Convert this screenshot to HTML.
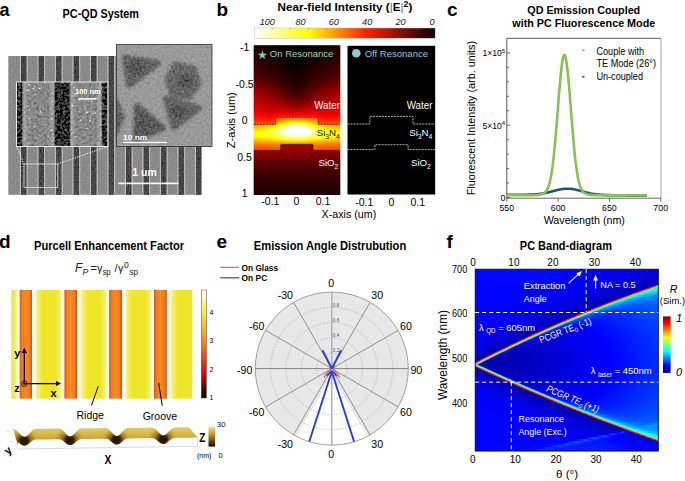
<!DOCTYPE html>
<html><head><meta charset="utf-8"><style>
html,body{margin:0;padding:0;background:#fff;width:685px;height:481px;overflow:hidden}
svg{display:block}
text{font-family:"Liberation Sans",sans-serif}
</style></head><body>
<svg width="685" height="481" viewBox="0 0 685 481" font-family="Liberation Sans">
<defs><filter id="nz" x="0" y="0" width="1" height="1"><feTurbulence type="fractalNoise" baseFrequency="0.6" numOctaves="2" seed="5" result="t"/><feColorMatrix in="t" type="matrix" values="0.33 0.33 0.33 0 0 0.33 0.33 0.33 0 0 0.33 0.33 0.33 0 0 0 0 0 0 1" result="g"/><feComposite in="SourceGraphic" in2="g" operator="arithmetic" k1="0" k2="1" k3="0.26" k4="-0.13"/></filter><filter id="nz2" x="0" y="0" width="1" height="1"><feTurbulence type="fractalNoise" baseFrequency="0.45" numOctaves="3" seed="9" result="t"/><feColorMatrix in="t" type="matrix" values="0.33 0.33 0.33 0 0 0.33 0.33 0.33 0 0 0.33 0.33 0.33 0 0 0 0 0 0 1" result="g"/><feComposite in="SourceGraphic" in2="g" operator="arithmetic" k1="0" k2="1" k3="0.4" k4="-0.2"/></filter><filter id="bl3" x="-50%" y="-50%" width="200%" height="200%"><feGaussianBlur stdDeviation="1.6"/></filter><filter id="bl1" x="-50%" y="-50%" width="200%" height="200%"><feGaussianBlur stdDeviation="0.8"/></filter><linearGradient id="semL"><stop offset="0" stop-color="#606060"/><stop offset="0.06" stop-color="#b4b4b4"/><stop offset="0.16" stop-color="#8a8a8a"/><stop offset="0.84" stop-color="#8a8a8a"/><stop offset="0.94" stop-color="#b4b4b4"/><stop offset="1" stop-color="#606060"/></linearGradient><filter id="nz3" x="0" y="0" width="1" height="1"><feTurbulence type="fractalNoise" baseFrequency="0.38" numOctaves="2" seed="11" result="t"/><feColorMatrix in="t" type="matrix" values="0.33 0.33 0.33 0 0 0.33 0.33 0.33 0 0 0.33 0.33 0.33 0 0 0 0 0 0 1" result="g"/><feComposite in="SourceGraphic" in2="g" operator="arithmetic" k1="0" k2="1" k3="0.7" k4="-0.35"/></filter><linearGradient id="semI"><stop offset="0" stop-color="#606060"/><stop offset="0.06" stop-color="#a8a8a8"/><stop offset="0.2" stop-color="#888"/><stop offset="0.8" stop-color="#888"/><stop offset="0.94" stop-color="#a8a8a8"/><stop offset="1" stop-color="#606060"/></linearGradient><linearGradient id="hotbar" x1="0" x2="1" y1="0" y2="0"><stop offset="0" stop-color="#ffffff"/><stop offset="0.3" stop-color="#ffff00"/><stop offset="0.62" stop-color="#ff2000"/><stop offset="1" stop-color="#0a0000"/></linearGradient><linearGradient id="hb0"><stop offset="0.000" stop-color="#1f0000"/><stop offset="0.370" stop-color="#070000"/><stop offset="0.498" stop-color="#030000"/><stop offset="0.619" stop-color="#070000"/><stop offset="1.000" stop-color="#1f0000"/></linearGradient><linearGradient id="hb1"><stop offset="0.000" stop-color="#200000"/><stop offset="0.376" stop-color="#070000"/><stop offset="0.498" stop-color="#040000"/><stop offset="0.619" stop-color="#070000"/><stop offset="1.000" stop-color="#200000"/></linearGradient><linearGradient id="hb2"><stop offset="0.000" stop-color="#210000"/><stop offset="0.376" stop-color="#070000"/><stop offset="0.498" stop-color="#040000"/><stop offset="0.619" stop-color="#070000"/><stop offset="1.000" stop-color="#210000"/></linearGradient><linearGradient id="hb3"><stop offset="0.000" stop-color="#220000"/><stop offset="0.376" stop-color="#080000"/><stop offset="0.498" stop-color="#040000"/><stop offset="0.613" stop-color="#070000"/><stop offset="1.000" stop-color="#220000"/></linearGradient><linearGradient id="hb4"><stop offset="0.000" stop-color="#230000"/><stop offset="0.376" stop-color="#080000"/><stop offset="0.498" stop-color="#040000"/><stop offset="0.613" stop-color="#080000"/><stop offset="1.000" stop-color="#230000"/></linearGradient><linearGradient id="hb5"><stop offset="0.000" stop-color="#240000"/><stop offset="0.382" stop-color="#080000"/><stop offset="0.498" stop-color="#050000"/><stop offset="0.613" stop-color="#080000"/><stop offset="1.000" stop-color="#240000"/></linearGradient><linearGradient id="hb6"><stop offset="0.000" stop-color="#250000"/><stop offset="0.382" stop-color="#080000"/><stop offset="0.498" stop-color="#050000"/><stop offset="0.613" stop-color="#090000"/><stop offset="1.000" stop-color="#250000"/></linearGradient><linearGradient id="hb7"><stop offset="0.000" stop-color="#260000"/><stop offset="0.382" stop-color="#090000"/><stop offset="0.498" stop-color="#050000"/><stop offset="0.608" stop-color="#090000"/><stop offset="1.000" stop-color="#260000"/></linearGradient><linearGradient id="hb8"><stop offset="0.000" stop-color="#270000"/><stop offset="0.382" stop-color="#090000"/><stop offset="0.498" stop-color="#060000"/><stop offset="0.608" stop-color="#090000"/><stop offset="1.000" stop-color="#270000"/></linearGradient><linearGradient id="hb9"><stop offset="0.000" stop-color="#280000"/><stop offset="0.388" stop-color="#0a0000"/><stop offset="0.498" stop-color="#060000"/><stop offset="0.608" stop-color="#0a0000"/><stop offset="1.000" stop-color="#290000"/></linearGradient><linearGradient id="hb10"><stop offset="0.000" stop-color="#2a0000"/><stop offset="0.388" stop-color="#0a0000"/><stop offset="0.498" stop-color="#060000"/><stop offset="0.608" stop-color="#0a0000"/><stop offset="0.862" stop-color="#220000"/><stop offset="1.000" stop-color="#2a0000"/></linearGradient><linearGradient id="hb11"><stop offset="0.000" stop-color="#2b0000"/><stop offset="0.388" stop-color="#0b0000"/><stop offset="0.498" stop-color="#070000"/><stop offset="0.602" stop-color="#0a0000"/><stop offset="0.862" stop-color="#230000"/><stop offset="1.000" stop-color="#2b0000"/></linearGradient><linearGradient id="hb12"><stop offset="0.000" stop-color="#2c0000"/><stop offset="0.388" stop-color="#0b0000"/><stop offset="0.498" stop-color="#070000"/><stop offset="0.602" stop-color="#0b0000"/><stop offset="0.862" stop-color="#240000"/><stop offset="1.000" stop-color="#2d0000"/></linearGradient><linearGradient id="hb13"><stop offset="0.000" stop-color="#2e0000"/><stop offset="0.127" stop-color="#260000"/><stop offset="0.394" stop-color="#0b0000"/><stop offset="0.498" stop-color="#080000"/><stop offset="0.602" stop-color="#0c0000"/><stop offset="0.862" stop-color="#250000"/><stop offset="1.000" stop-color="#2e0000"/></linearGradient><linearGradient id="hb14"><stop offset="0.000" stop-color="#2f0000"/><stop offset="0.133" stop-color="#260000"/><stop offset="0.394" stop-color="#0c0000"/><stop offset="0.498" stop-color="#080000"/><stop offset="0.596" stop-color="#0c0000"/><stop offset="0.862" stop-color="#270000"/><stop offset="1.000" stop-color="#2f0000"/></linearGradient><linearGradient id="hb15"><stop offset="0.000" stop-color="#310000"/><stop offset="0.133" stop-color="#280000"/><stop offset="0.394" stop-color="#0d0000"/><stop offset="0.498" stop-color="#090000"/><stop offset="0.596" stop-color="#0d0000"/><stop offset="0.856" stop-color="#270000"/><stop offset="1.000" stop-color="#310000"/></linearGradient><linearGradient id="hb16"><stop offset="0.000" stop-color="#320000"/><stop offset="0.133" stop-color="#290000"/><stop offset="0.394" stop-color="#0e0000"/><stop offset="0.498" stop-color="#090000"/><stop offset="0.596" stop-color="#0d0000"/><stop offset="0.856" stop-color="#290000"/><stop offset="1.000" stop-color="#320000"/></linearGradient><linearGradient id="hb17"><stop offset="0.000" stop-color="#340000"/><stop offset="0.133" stop-color="#2a0000"/><stop offset="0.399" stop-color="#0e0000"/><stop offset="0.498" stop-color="#0a0000"/><stop offset="0.596" stop-color="#0e0000"/><stop offset="0.856" stop-color="#2a0000"/><stop offset="1.000" stop-color="#340000"/></linearGradient><linearGradient id="hb18"><stop offset="0.000" stop-color="#350000"/><stop offset="0.139" stop-color="#2b0000"/><stop offset="0.399" stop-color="#0f0000"/><stop offset="0.498" stop-color="#0a0000"/><stop offset="0.590" stop-color="#0e0000"/><stop offset="0.851" stop-color="#2b0000"/><stop offset="1.000" stop-color="#360000"/></linearGradient><linearGradient id="hb19"><stop offset="0.000" stop-color="#370000"/><stop offset="0.139" stop-color="#2d0000"/><stop offset="0.399" stop-color="#100000"/><stop offset="0.498" stop-color="#0b0000"/><stop offset="0.590" stop-color="#0f0000"/><stop offset="0.851" stop-color="#2d0000"/><stop offset="1.000" stop-color="#370000"/></linearGradient><linearGradient id="hb20"><stop offset="0.000" stop-color="#390000"/><stop offset="0.139" stop-color="#2e0000"/><stop offset="0.405" stop-color="#100000"/><stop offset="0.498" stop-color="#0c0000"/><stop offset="0.590" stop-color="#100000"/><stop offset="0.851" stop-color="#2e0000"/><stop offset="1.000" stop-color="#390000"/></linearGradient><linearGradient id="hb21"><stop offset="0.000" stop-color="#3b0000"/><stop offset="0.139" stop-color="#300000"/><stop offset="0.405" stop-color="#110000"/><stop offset="0.498" stop-color="#0d0000"/><stop offset="0.590" stop-color="#110000"/><stop offset="0.845" stop-color="#2f0000"/><stop offset="1.000" stop-color="#3b0000"/></linearGradient><linearGradient id="hb22"><stop offset="0.000" stop-color="#3c0000"/><stop offset="0.145" stop-color="#310000"/><stop offset="0.405" stop-color="#120000"/><stop offset="0.498" stop-color="#0d0000"/><stop offset="0.584" stop-color="#120000"/><stop offset="0.845" stop-color="#310000"/><stop offset="1.000" stop-color="#3d0000"/></linearGradient><linearGradient id="hb23"><stop offset="0.000" stop-color="#3e0000"/><stop offset="0.145" stop-color="#330000"/><stop offset="0.405" stop-color="#130000"/><stop offset="0.498" stop-color="#0e0000"/><stop offset="0.584" stop-color="#130000"/><stop offset="0.845" stop-color="#330000"/><stop offset="1.000" stop-color="#3f0000"/></linearGradient><linearGradient id="hb24"><stop offset="0.000" stop-color="#410000"/><stop offset="0.145" stop-color="#350000"/><stop offset="0.411" stop-color="#130000"/><stop offset="0.498" stop-color="#0f0000"/><stop offset="0.584" stop-color="#140000"/><stop offset="0.839" stop-color="#340000"/><stop offset="1.000" stop-color="#410000"/></linearGradient><linearGradient id="hb25"><stop offset="0.000" stop-color="#430000"/><stop offset="0.145" stop-color="#370000"/><stop offset="0.411" stop-color="#150000"/><stop offset="0.498" stop-color="#100000"/><stop offset="0.584" stop-color="#150000"/><stop offset="0.839" stop-color="#360000"/><stop offset="1.000" stop-color="#430000"/></linearGradient><linearGradient id="hb26"><stop offset="0.000" stop-color="#450000"/><stop offset="0.150" stop-color="#380000"/><stop offset="0.411" stop-color="#160000"/><stop offset="0.498" stop-color="#110000"/><stop offset="0.579" stop-color="#150000"/><stop offset="0.833" stop-color="#380000"/><stop offset="1.000" stop-color="#460000"/></linearGradient><linearGradient id="hb27"><stop offset="0.000" stop-color="#480000"/><stop offset="0.150" stop-color="#3b0000"/><stop offset="0.411" stop-color="#170000"/><stop offset="0.498" stop-color="#120000"/><stop offset="0.579" stop-color="#170000"/><stop offset="0.833" stop-color="#3a0000"/><stop offset="1.000" stop-color="#480000"/></linearGradient><linearGradient id="hb28"><stop offset="0.000" stop-color="#4a0000"/><stop offset="0.150" stop-color="#3d0000"/><stop offset="0.411" stop-color="#190000"/><stop offset="0.498" stop-color="#140000"/><stop offset="0.579" stop-color="#180000"/><stop offset="0.828" stop-color="#3c0000"/><stop offset="1.000" stop-color="#4b0000"/></linearGradient><linearGradient id="hb29"><stop offset="0.000" stop-color="#4d0000"/><stop offset="0.156" stop-color="#3f0000"/><stop offset="0.417" stop-color="#190000"/><stop offset="0.498" stop-color="#150000"/><stop offset="0.579" stop-color="#1a0000"/><stop offset="0.822" stop-color="#3d0000"/><stop offset="1.000" stop-color="#4e0000"/></linearGradient><linearGradient id="hb30"><stop offset="0.000" stop-color="#500000"/><stop offset="0.156" stop-color="#420000"/><stop offset="0.417" stop-color="#1b0000"/><stop offset="0.498" stop-color="#160000"/><stop offset="0.579" stop-color="#1b0000"/><stop offset="0.822" stop-color="#400000"/><stop offset="1.000" stop-color="#510000"/></linearGradient><linearGradient id="hb31"><stop offset="0.000" stop-color="#540000"/><stop offset="0.156" stop-color="#450000"/><stop offset="0.417" stop-color="#1d0000"/><stop offset="0.498" stop-color="#180000"/><stop offset="0.573" stop-color="#1c0000"/><stop offset="0.816" stop-color="#420000"/><stop offset="1.000" stop-color="#540000"/></linearGradient><linearGradient id="hb32"><stop offset="0.000" stop-color="#570000"/><stop offset="0.156" stop-color="#480000"/><stop offset="0.417" stop-color="#1e0000"/><stop offset="0.498" stop-color="#190000"/><stop offset="0.584" stop-color="#1f0000"/><stop offset="0.862" stop-color="#4b0000"/><stop offset="1.000" stop-color="#580000"/></linearGradient><linearGradient id="hb33"><stop offset="0.000" stop-color="#5b0000"/><stop offset="0.162" stop-color="#4a0000"/><stop offset="0.417" stop-color="#200000"/><stop offset="0.498" stop-color="#1b0000"/><stop offset="0.584" stop-color="#210000"/><stop offset="0.862" stop-color="#4f0000"/><stop offset="1.000" stop-color="#5c0000"/></linearGradient><linearGradient id="hb34"><stop offset="0.000" stop-color="#5f0000"/><stop offset="0.162" stop-color="#4e0000"/><stop offset="0.422" stop-color="#210000"/><stop offset="0.498" stop-color="#1c0000"/><stop offset="0.579" stop-color="#230000"/><stop offset="0.862" stop-color="#520000"/><stop offset="1.000" stop-color="#600000"/></linearGradient><linearGradient id="hb35"><stop offset="0.000" stop-color="#640000"/><stop offset="0.162" stop-color="#510000"/><stop offset="0.422" stop-color="#230000"/><stop offset="0.498" stop-color="#1e0000"/><stop offset="0.579" stop-color="#250000"/><stop offset="0.723" stop-color="#410000"/><stop offset="0.862" stop-color="#560000"/><stop offset="1.000" stop-color="#640000"/></linearGradient><linearGradient id="hb36"><stop offset="0.000" stop-color="#680000"/><stop offset="0.162" stop-color="#550000"/><stop offset="0.422" stop-color="#260000"/><stop offset="0.498" stop-color="#200000"/><stop offset="0.579" stop-color="#270000"/><stop offset="0.723" stop-color="#440000"/><stop offset="0.862" stop-color="#5a0000"/><stop offset="1.000" stop-color="#690000"/></linearGradient><linearGradient id="hb37"><stop offset="0.000" stop-color="#6d0000"/><stop offset="0.162" stop-color="#590000"/><stop offset="0.422" stop-color="#280000"/><stop offset="0.498" stop-color="#220000"/><stop offset="0.579" stop-color="#290000"/><stop offset="0.723" stop-color="#480000"/><stop offset="0.862" stop-color="#5f0000"/><stop offset="1.000" stop-color="#6e0000"/></linearGradient><linearGradient id="hb38"><stop offset="0.000" stop-color="#720000"/><stop offset="0.162" stop-color="#5e0000"/><stop offset="0.422" stop-color="#2a0000"/><stop offset="0.498" stop-color="#240000"/><stop offset="0.579" stop-color="#2c0000"/><stop offset="0.723" stop-color="#4c0000"/><stop offset="0.862" stop-color="#630000"/><stop offset="1.000" stop-color="#730000"/></linearGradient><linearGradient id="hb39"><stop offset="0.000" stop-color="#780000"/><stop offset="0.162" stop-color="#620000"/><stop offset="0.422" stop-color="#2d0000"/><stop offset="0.498" stop-color="#270000"/><stop offset="0.579" stop-color="#2f0000"/><stop offset="0.723" stop-color="#500000"/><stop offset="0.862" stop-color="#680000"/><stop offset="1.000" stop-color="#780000"/></linearGradient><linearGradient id="hb40"><stop offset="0.000" stop-color="#7d0000"/><stop offset="0.162" stop-color="#670000"/><stop offset="0.422" stop-color="#300000"/><stop offset="0.498" stop-color="#290000"/><stop offset="0.579" stop-color="#310000"/><stop offset="0.718" stop-color="#520000"/><stop offset="0.862" stop-color="#6d0000"/><stop offset="1.000" stop-color="#7e0000"/></linearGradient><linearGradient id="hb41"><stop offset="0.000" stop-color="#830000"/><stop offset="0.162" stop-color="#6c0000"/><stop offset="0.422" stop-color="#330000"/><stop offset="0.498" stop-color="#2c0000"/><stop offset="0.579" stop-color="#340000"/><stop offset="0.718" stop-color="#560000"/><stop offset="0.862" stop-color="#720000"/><stop offset="1.000" stop-color="#830000"/></linearGradient><linearGradient id="hb42"><stop offset="0.000" stop-color="#880000"/><stop offset="0.162" stop-color="#700000"/><stop offset="0.422" stop-color="#360000"/><stop offset="0.498" stop-color="#2f0000"/><stop offset="0.579" stop-color="#380000"/><stop offset="0.718" stop-color="#5b0000"/><stop offset="0.862" stop-color="#770000"/><stop offset="1.000" stop-color="#890000"/></linearGradient><linearGradient id="hb43"><stop offset="0.000" stop-color="#8e0000"/><stop offset="0.162" stop-color="#750000"/><stop offset="0.284" stop-color="#5c0000"/><stop offset="0.422" stop-color="#390000"/><stop offset="0.498" stop-color="#320000"/><stop offset="0.573" stop-color="#3a0000"/><stop offset="0.718" stop-color="#5f0000"/><stop offset="0.862" stop-color="#7c0000"/><stop offset="1.000" stop-color="#8e0000"/></linearGradient><linearGradient id="hb44"><stop offset="0.000" stop-color="#930000"/><stop offset="0.098" stop-color="#860000"/><stop offset="0.243" stop-color="#6a0000"/><stop offset="0.428" stop-color="#3c0000"/><stop offset="0.498" stop-color="#350000"/><stop offset="0.573" stop-color="#3d0000"/><stop offset="0.718" stop-color="#630000"/><stop offset="0.862" stop-color="#810000"/><stop offset="1.000" stop-color="#940000"/></linearGradient><linearGradient id="hb45"><stop offset="0.000" stop-color="#990000"/><stop offset="0.098" stop-color="#8b0000"/><stop offset="0.249" stop-color="#6d0000"/><stop offset="0.428" stop-color="#3f0000"/><stop offset="0.498" stop-color="#390000"/><stop offset="0.573" stop-color="#410000"/><stop offset="0.718" stop-color="#680000"/><stop offset="0.862" stop-color="#860000"/><stop offset="1.000" stop-color="#990000"/></linearGradient><linearGradient id="hb46"><stop offset="0.000" stop-color="#9e0000"/><stop offset="0.098" stop-color="#900000"/><stop offset="0.249" stop-color="#710000"/><stop offset="0.428" stop-color="#430000"/><stop offset="0.498" stop-color="#3c0000"/><stop offset="0.573" stop-color="#450000"/><stop offset="0.712" stop-color="#6b0000"/><stop offset="0.862" stop-color="#8a0000"/><stop offset="1.000" stop-color="#9f0000"/></linearGradient><linearGradient id="hb47"><stop offset="0.000" stop-color="#a30000"/><stop offset="0.098" stop-color="#950000"/><stop offset="0.255" stop-color="#750000"/><stop offset="0.428" stop-color="#470000"/><stop offset="0.498" stop-color="#400000"/><stop offset="0.573" stop-color="#490000"/><stop offset="0.712" stop-color="#700000"/><stop offset="0.862" stop-color="#8f0000"/><stop offset="1.000" stop-color="#a40000"/></linearGradient><linearGradient id="hb48"><stop offset="0.000" stop-color="#a80000"/><stop offset="0.098" stop-color="#9a0000"/><stop offset="0.260" stop-color="#780000"/><stop offset="0.428" stop-color="#4b0000"/><stop offset="0.498" stop-color="#440000"/><stop offset="0.573" stop-color="#4d0000"/><stop offset="0.712" stop-color="#740000"/><stop offset="0.862" stop-color="#940000"/><stop offset="1.000" stop-color="#a80000"/></linearGradient><linearGradient id="hb49"><stop offset="0.000" stop-color="#ac0000"/><stop offset="0.098" stop-color="#9e0000"/><stop offset="0.266" stop-color="#7b0000"/><stop offset="0.428" stop-color="#500000"/><stop offset="0.498" stop-color="#490000"/><stop offset="0.567" stop-color="#500000"/><stop offset="0.712" stop-color="#790000"/><stop offset="0.862" stop-color="#980000"/><stop offset="1.000" stop-color="#ad0000"/></linearGradient><linearGradient id="hb50"><stop offset="0.000" stop-color="#b00000"/><stop offset="0.093" stop-color="#a30000"/><stop offset="0.266" stop-color="#800000"/><stop offset="0.434" stop-color="#530000"/><stop offset="0.498" stop-color="#4d0000"/><stop offset="0.567" stop-color="#550000"/><stop offset="0.706" stop-color="#7c0000"/><stop offset="0.862" stop-color="#9c0000"/><stop offset="1.000" stop-color="#b10000"/></linearGradient><linearGradient id="hb51"><stop offset="0.000" stop-color="#b40000"/><stop offset="0.093" stop-color="#a70000"/><stop offset="0.272" stop-color="#830000"/><stop offset="0.434" stop-color="#590000"/><stop offset="0.498" stop-color="#520000"/><stop offset="0.567" stop-color="#5a0000"/><stop offset="0.741" stop-color="#890000"/><stop offset="0.909" stop-color="#a90000"/><stop offset="1.000" stop-color="#b50000"/></linearGradient><linearGradient id="hb52"><stop offset="0.000" stop-color="#b80000"/><stop offset="0.093" stop-color="#ab0000"/><stop offset="0.278" stop-color="#870000"/><stop offset="0.434" stop-color="#5e0000"/><stop offset="0.498" stop-color="#580000"/><stop offset="0.567" stop-color="#600000"/><stop offset="0.729" stop-color="#8b0000"/><stop offset="0.909" stop-color="#ac0000"/><stop offset="1.000" stop-color="#b80000"/></linearGradient><linearGradient id="hb53"><stop offset="0.000" stop-color="#bb0000"/><stop offset="0.087" stop-color="#af0000"/><stop offset="0.284" stop-color="#8b0000"/><stop offset="0.434" stop-color="#640000"/><stop offset="0.498" stop-color="#5d0000"/><stop offset="0.567" stop-color="#650000"/><stop offset="0.729" stop-color="#900000"/><stop offset="0.909" stop-color="#b00000"/><stop offset="1.000" stop-color="#bc0000"/></linearGradient><linearGradient id="hb54"><stop offset="0.000" stop-color="#be0000"/><stop offset="0.284" stop-color="#900000"/><stop offset="0.440" stop-color="#680000"/><stop offset="0.498" stop-color="#630000"/><stop offset="0.567" stop-color="#6b0000"/><stop offset="0.723" stop-color="#940000"/><stop offset="1.000" stop-color="#bf0000"/></linearGradient><linearGradient id="hb55"><stop offset="0.000" stop-color="#c10000"/><stop offset="0.284" stop-color="#950000"/><stop offset="0.428" stop-color="#710000"/><stop offset="0.498" stop-color="#6a0000"/><stop offset="0.567" stop-color="#720000"/><stop offset="0.718" stop-color="#980000"/><stop offset="1.000" stop-color="#c20000"/></linearGradient><linearGradient id="hb56"><stop offset="0.000" stop-color="#c40000"/><stop offset="0.289" stop-color="#990000"/><stop offset="0.434" stop-color="#770000"/><stop offset="0.498" stop-color="#700000"/><stop offset="0.561" stop-color="#770000"/><stop offset="0.712" stop-color="#9c0000"/><stop offset="1.000" stop-color="#c50000"/></linearGradient><linearGradient id="hb57"><stop offset="0.000" stop-color="#c70000"/><stop offset="0.289" stop-color="#9f0000"/><stop offset="0.434" stop-color="#7e0000"/><stop offset="0.498" stop-color="#780000"/><stop offset="0.561" stop-color="#7e0000"/><stop offset="0.706" stop-color="#a10000"/><stop offset="1.000" stop-color="#c80000"/></linearGradient><linearGradient id="hb58"><stop offset="0.000" stop-color="#ca0000"/><stop offset="0.295" stop-color="#a40000"/><stop offset="0.434" stop-color="#850000"/><stop offset="0.498" stop-color="#7f0000"/><stop offset="0.561" stop-color="#860000"/><stop offset="0.700" stop-color="#a60000"/><stop offset="1.000" stop-color="#cb0000"/></linearGradient><linearGradient id="hb59"><stop offset="0.000" stop-color="#ce0000"/><stop offset="0.301" stop-color="#aa0000"/><stop offset="0.434" stop-color="#8d0000"/><stop offset="0.498" stop-color="#880000"/><stop offset="0.561" stop-color="#8e0000"/><stop offset="0.700" stop-color="#ac0000"/><stop offset="1.000" stop-color="#ce0000"/></linearGradient><linearGradient id="hb60"><stop offset="0.000" stop-color="#d10000"/><stop offset="0.307" stop-color="#b00000"/><stop offset="0.440" stop-color="#950000"/><stop offset="0.498" stop-color="#900000"/><stop offset="0.556" stop-color="#960000"/><stop offset="0.694" stop-color="#b20000"/><stop offset="1.000" stop-color="#d20000"/></linearGradient><linearGradient id="hb61"><stop offset="0.000" stop-color="#d50000"/><stop offset="0.191" stop-color="#be0000"/><stop offset="0.313" stop-color="#b60000"/><stop offset="0.440" stop-color="#9e0000"/><stop offset="0.498" stop-color="#9a0000"/><stop offset="0.556" stop-color="#9f0000"/><stop offset="0.689" stop-color="#b90000"/><stop offset="0.810" stop-color="#c00000"/><stop offset="1.000" stop-color="#d50000"/></linearGradient><linearGradient id="hb62"><stop offset="0.000" stop-color="#d90000"/><stop offset="0.191" stop-color="#c40000"/><stop offset="0.313" stop-color="#be0000"/><stop offset="0.440" stop-color="#a80000"/><stop offset="0.498" stop-color="#a40000"/><stop offset="0.556" stop-color="#a80000"/><stop offset="0.683" stop-color="#c00000"/><stop offset="0.810" stop-color="#c60000"/><stop offset="1.000" stop-color="#d90000"/></linearGradient><linearGradient id="hb63"><stop offset="0.000" stop-color="#dd0000"/><stop offset="0.191" stop-color="#c90000"/><stop offset="0.318" stop-color="#c60000"/><stop offset="0.440" stop-color="#b20000"/><stop offset="0.498" stop-color="#ae0000"/><stop offset="0.556" stop-color="#b30000"/><stop offset="0.683" stop-color="#c80000"/><stop offset="0.810" stop-color="#cb0000"/><stop offset="1.000" stop-color="#dd0000"/></linearGradient><linearGradient id="hb64"><stop offset="0.000" stop-color="#e20000"/><stop offset="0.191" stop-color="#d00000"/><stop offset="0.324" stop-color="#ce0000"/><stop offset="0.446" stop-color="#bc0000"/><stop offset="0.498" stop-color="#b90000"/><stop offset="0.550" stop-color="#bd0000"/><stop offset="0.677" stop-color="#d00000"/><stop offset="0.810" stop-color="#d10000"/><stop offset="1.000" stop-color="#e20000"/></linearGradient><linearGradient id="hb65"><stop offset="0.000" stop-color="#e70000"/><stop offset="0.185" stop-color="#d60000"/><stop offset="0.330" stop-color="#d70000"/><stop offset="0.498" stop-color="#c50000"/><stop offset="0.671" stop-color="#d90000"/><stop offset="0.816" stop-color="#d80000"/><stop offset="1.000" stop-color="#e70000"/></linearGradient><linearGradient id="hb66"><stop offset="0.000" stop-color="#ec0000"/><stop offset="0.185" stop-color="#dd0000"/><stop offset="0.336" stop-color="#e10000"/><stop offset="0.498" stop-color="#d20000"/><stop offset="0.666" stop-color="#e30000"/><stop offset="0.816" stop-color="#de0000"/><stop offset="1.000" stop-color="#ed0000"/></linearGradient><linearGradient id="hb67"><stop offset="0.000" stop-color="#f20000"/><stop offset="0.179" stop-color="#e40000"/><stop offset="0.330" stop-color="#ec0000"/><stop offset="0.498" stop-color="#df0000"/><stop offset="0.660" stop-color="#ee0000"/><stop offset="0.816" stop-color="#e60000"/><stop offset="1.000" stop-color="#f20000"/></linearGradient><linearGradient id="hb68"><stop offset="0.000" stop-color="#f80000"/><stop offset="0.185" stop-color="#ec0000"/><stop offset="0.330" stop-color="#f80000"/><stop offset="0.498" stop-color="#ee0000"/><stop offset="0.671" stop-color="#f90000"/><stop offset="0.816" stop-color="#ed0000"/><stop offset="1.000" stop-color="#f90000"/></linearGradient><linearGradient id="hb69"><stop offset="0.000" stop-color="#ff0000"/><stop offset="0.179" stop-color="#f40000"/><stop offset="0.289" stop-color="#ff0100"/><stop offset="0.353" stop-color="#ff0500"/><stop offset="0.544" stop-color="#ff0000"/><stop offset="0.654" stop-color="#ff0600"/><stop offset="0.723" stop-color="#ff0000"/><stop offset="0.822" stop-color="#f50000"/><stop offset="1.000" stop-color="#ff0000"/></linearGradient><linearGradient id="hb70"><stop offset="0.000" stop-color="#ff0700"/><stop offset="0.104" stop-color="#ff0000"/><stop offset="0.220" stop-color="#fe0000"/><stop offset="0.341" stop-color="#ff1200"/><stop offset="0.498" stop-color="#ff0f00"/><stop offset="0.637" stop-color="#ff1400"/><stop offset="0.689" stop-color="#ff1100"/><stop offset="0.787" stop-color="#ff0000"/><stop offset="0.885" stop-color="#ff0000"/><stop offset="1.000" stop-color="#ff0700"/></linearGradient><linearGradient id="hb71"><stop offset="0.000" stop-color="#ff0e00"/><stop offset="0.179" stop-color="#ff0500"/><stop offset="0.353" stop-color="#ff2100"/><stop offset="0.613" stop-color="#ff2200"/><stop offset="0.677" stop-color="#ff1f00"/><stop offset="0.816" stop-color="#ff0700"/><stop offset="1.000" stop-color="#ff0f00"/></linearGradient><linearGradient id="hb72"><stop offset="0.000" stop-color="#ff1600"/><stop offset="0.156" stop-color="#ff0e00"/><stop offset="0.231" stop-color="#ff1500"/><stop offset="0.249" stop-color="#ff1900"/><stop offset="0.255" stop-color="#ff6100"/><stop offset="0.417" stop-color="#ff7c00"/><stop offset="0.498" stop-color="#ff8100"/><stop offset="0.579" stop-color="#ff7c00"/><stop offset="0.741" stop-color="#ff6100"/><stop offset="0.747" stop-color="#ff1b00"/><stop offset="0.770" stop-color="#ff1600"/><stop offset="0.845" stop-color="#ff0f00"/><stop offset="1.000" stop-color="#ff1600"/></linearGradient><linearGradient id="hb73"><stop offset="0.000" stop-color="#ff1e00"/><stop offset="0.156" stop-color="#ff1700"/><stop offset="0.231" stop-color="#ff2000"/><stop offset="0.249" stop-color="#ff2400"/><stop offset="0.255" stop-color="#ff6a00"/><stop offset="0.417" stop-color="#ff8e00"/><stop offset="0.498" stop-color="#ff9500"/><stop offset="0.579" stop-color="#ff8d00"/><stop offset="0.741" stop-color="#ff6a00"/><stop offset="0.747" stop-color="#ff2700"/><stop offset="0.770" stop-color="#ff2100"/><stop offset="0.845" stop-color="#ff1800"/><stop offset="1.000" stop-color="#ff1e00"/></linearGradient><linearGradient id="hb74"><stop offset="0.000" stop-color="#ff2700"/><stop offset="0.156" stop-color="#ff2100"/><stop offset="0.231" stop-color="#ff2b00"/><stop offset="0.249" stop-color="#ff3000"/><stop offset="0.255" stop-color="#ff7500"/><stop offset="0.417" stop-color="#ffa300"/><stop offset="0.498" stop-color="#ffad00"/><stop offset="0.573" stop-color="#ffa400"/><stop offset="0.741" stop-color="#ff7500"/><stop offset="0.747" stop-color="#ff3300"/><stop offset="0.770" stop-color="#ff2c00"/><stop offset="0.845" stop-color="#ff2200"/><stop offset="1.000" stop-color="#ff2700"/></linearGradient><linearGradient id="hb75"><stop offset="0.000" stop-color="#ff2f00"/><stop offset="0.156" stop-color="#ff2b00"/><stop offset="0.231" stop-color="#ff3700"/><stop offset="0.249" stop-color="#ff3c00"/><stop offset="0.255" stop-color="#ff8300"/><stop offset="0.422" stop-color="#ffbf00"/><stop offset="0.498" stop-color="#ffca00"/><stop offset="0.573" stop-color="#ffbe00"/><stop offset="0.741" stop-color="#ff8200"/><stop offset="0.747" stop-color="#ff3f00"/><stop offset="0.770" stop-color="#ff3700"/><stop offset="0.845" stop-color="#ff2b00"/><stop offset="1.000" stop-color="#ff3000"/></linearGradient><linearGradient id="hb76"><stop offset="0.000" stop-color="#ff3800"/><stop offset="0.150" stop-color="#ff3500"/><stop offset="0.191" stop-color="#ff3800"/><stop offset="0.231" stop-color="#ff4200"/><stop offset="0.249" stop-color="#ff4100"/><stop offset="0.255" stop-color="#ff9200"/><stop offset="0.422" stop-color="#ffdd00"/><stop offset="0.463" stop-color="#ffe800"/><stop offset="0.498" stop-color="#ffeb00"/><stop offset="0.532" stop-color="#ffe800"/><stop offset="0.573" stop-color="#ffdc00"/><stop offset="0.741" stop-color="#ff9100"/><stop offset="0.747" stop-color="#ff4100"/><stop offset="0.770" stop-color="#ff4300"/><stop offset="0.810" stop-color="#ff3900"/><stop offset="0.851" stop-color="#ff3500"/><stop offset="1.000" stop-color="#ff3900"/></linearGradient><linearGradient id="hb77"><stop offset="0.000" stop-color="#ff4200"/><stop offset="0.133" stop-color="#ff3f00"/><stop offset="0.203" stop-color="#ff4600"/><stop offset="0.249" stop-color="#ff4000"/><stop offset="0.255" stop-color="#ffa400"/><stop offset="0.422" stop-color="#ffff00"/><stop offset="0.463" stop-color="#ffff15"/><stop offset="0.498" stop-color="#ffff1a"/><stop offset="0.532" stop-color="#ffff14"/><stop offset="0.573" stop-color="#fffe00"/><stop offset="0.741" stop-color="#ffa300"/><stop offset="0.747" stop-color="#ff4100"/><stop offset="0.799" stop-color="#ff4600"/><stop offset="0.868" stop-color="#ff3f00"/><stop offset="1.000" stop-color="#ff4200"/></linearGradient><linearGradient id="hb78"><stop offset="0.000" stop-color="#ff4c00"/><stop offset="0.150" stop-color="#ff4a00"/><stop offset="0.249" stop-color="#ff4000"/><stop offset="0.255" stop-color="#ffb800"/><stop offset="0.365" stop-color="#ffff00"/><stop offset="0.405" stop-color="#ffff28"/><stop offset="0.440" stop-color="#ffff43"/><stop offset="0.469" stop-color="#ffff51"/><stop offset="0.498" stop-color="#ffff56"/><stop offset="0.527" stop-color="#ffff50"/><stop offset="0.556" stop-color="#ffff42"/><stop offset="0.631" stop-color="#fffd00"/><stop offset="0.694" stop-color="#ffd200"/><stop offset="0.741" stop-color="#ffb700"/><stop offset="0.747" stop-color="#ff4100"/><stop offset="0.845" stop-color="#ff4b00"/><stop offset="1.000" stop-color="#ff4c00"/></linearGradient><linearGradient id="hb79"><stop offset="0.000" stop-color="#ff8b00"/><stop offset="0.104" stop-color="#ff9800"/><stop offset="0.185" stop-color="#ffad00"/><stop offset="0.255" stop-color="#ffce00"/><stop offset="0.324" stop-color="#fffe00"/><stop offset="0.394" stop-color="#ffff52"/><stop offset="0.428" stop-color="#ffff74"/><stop offset="0.463" stop-color="#ffff8b"/><stop offset="0.498" stop-color="#ffff93"/><stop offset="0.532" stop-color="#ffff8a"/><stop offset="0.567" stop-color="#ffff72"/><stop offset="0.602" stop-color="#ffff4f"/><stop offset="0.666" stop-color="#ffff03"/><stop offset="0.671" stop-color="#fffc00"/><stop offset="0.741" stop-color="#ffcc00"/><stop offset="0.810" stop-color="#ffac00"/><stop offset="0.891" stop-color="#ff9800"/><stop offset="1.000" stop-color="#ff8a00"/></linearGradient><linearGradient id="hb80"><stop offset="0.000" stop-color="#ff9b00"/><stop offset="0.093" stop-color="#ffa700"/><stop offset="0.168" stop-color="#ffba00"/><stop offset="0.231" stop-color="#ffd600"/><stop offset="0.289" stop-color="#fffd00"/><stop offset="0.313" stop-color="#ffff1a"/><stop offset="0.394" stop-color="#ffff86"/><stop offset="0.422" stop-color="#ffffa7"/><stop offset="0.463" stop-color="#ffffc6"/><stop offset="0.498" stop-color="#ffffcf"/><stop offset="0.532" stop-color="#ffffc5"/><stop offset="0.573" stop-color="#ffffa4"/><stop offset="0.608" stop-color="#ffff7c"/><stop offset="0.700" stop-color="#ffff01"/><stop offset="0.764" stop-color="#ffd500"/><stop offset="0.828" stop-color="#ffb900"/><stop offset="0.903" stop-color="#ffa700"/><stop offset="1.000" stop-color="#ff9a00"/></linearGradient><linearGradient id="hb81"><stop offset="0.000" stop-color="#ffab00"/><stop offset="0.087" stop-color="#ffb800"/><stop offset="0.150" stop-color="#ffc700"/><stop offset="0.208" stop-color="#ffde00"/><stop offset="0.260" stop-color="#ffff00"/><stop offset="0.307" stop-color="#ffff39"/><stop offset="0.411" stop-color="#ffffcd"/><stop offset="0.440" stop-color="#ffffec"/><stop offset="0.469" stop-color="#ffffff"/><stop offset="0.527" stop-color="#fffffe"/><stop offset="0.561" stop-color="#ffffe4"/><stop offset="0.602" stop-color="#ffffb4"/><stop offset="0.700" stop-color="#ffff27"/><stop offset="0.729" stop-color="#ffff03"/><stop offset="0.735" stop-color="#fffd00"/><stop offset="0.787" stop-color="#ffdd00"/><stop offset="0.845" stop-color="#ffc600"/><stop offset="0.914" stop-color="#ffb600"/><stop offset="1.000" stop-color="#ffab00"/></linearGradient><linearGradient id="hb82"><stop offset="0.000" stop-color="#ffbd00"/><stop offset="0.133" stop-color="#ffd500"/><stop offset="0.179" stop-color="#ffe500"/><stop offset="0.231" stop-color="#ffff02"/><stop offset="0.289" stop-color="#ffff45"/><stop offset="0.388" stop-color="#ffffd9"/><stop offset="0.417" stop-color="#ffffff"/><stop offset="0.579" stop-color="#fffffe"/><stop offset="0.608" stop-color="#ffffd6"/><stop offset="0.700" stop-color="#ffff49"/><stop offset="0.735" stop-color="#ffff1e"/><stop offset="0.764" stop-color="#ffff00"/><stop offset="0.810" stop-color="#ffe600"/><stop offset="0.862" stop-color="#ffd400"/><stop offset="1.000" stop-color="#ffbc00"/></linearGradient><linearGradient id="hb83"><stop offset="0.000" stop-color="#ffce00"/><stop offset="0.116" stop-color="#ffe200"/><stop offset="0.197" stop-color="#ffff00"/><stop offset="0.237" stop-color="#ffff24"/><stop offset="0.272" stop-color="#ffff4c"/><stop offset="0.313" stop-color="#ffff85"/><stop offset="0.388" stop-color="#fffffc"/><stop offset="0.394" stop-color="#ffffff"/><stop offset="0.602" stop-color="#ffffff"/><stop offset="0.683" stop-color="#ffff82"/><stop offset="0.718" stop-color="#ffff51"/><stop offset="0.752" stop-color="#ffff28"/><stop offset="0.793" stop-color="#ffff03"/><stop offset="0.885" stop-color="#ffe000"/><stop offset="1.000" stop-color="#ffcd00"/></linearGradient><linearGradient id="hb84"><stop offset="0.000" stop-color="#ffde00"/><stop offset="0.087" stop-color="#ffeb00"/><stop offset="0.156" stop-color="#fffe00"/><stop offset="0.185" stop-color="#ffff11"/><stop offset="0.226" stop-color="#ffff32"/><stop offset="0.266" stop-color="#ffff5e"/><stop offset="0.301" stop-color="#ffff8d"/><stop offset="0.370" stop-color="#fffffa"/><stop offset="0.376" stop-color="#ffffff"/><stop offset="0.619" stop-color="#ffffff"/><stop offset="0.683" stop-color="#ffff9a"/><stop offset="0.723" stop-color="#ffff62"/><stop offset="0.764" stop-color="#ffff35"/><stop offset="0.810" stop-color="#ffff0f"/><stop offset="0.839" stop-color="#fffe00"/><stop offset="0.909" stop-color="#ffeb00"/><stop offset="1.000" stop-color="#ffdd00"/></linearGradient><linearGradient id="hb85"><stop offset="0.000" stop-color="#ffec00"/><stop offset="0.110" stop-color="#ffff00"/><stop offset="0.150" stop-color="#ffff11"/><stop offset="0.185" stop-color="#ffff25"/><stop offset="0.226" stop-color="#ffff45"/><stop offset="0.260" stop-color="#ffff6a"/><stop offset="0.307" stop-color="#ffffa6"/><stop offset="0.365" stop-color="#ffffff"/><stop offset="0.370" stop-color="#ffffff"/><stop offset="0.625" stop-color="#ffffff"/><stop offset="0.631" stop-color="#fffffb"/><stop offset="0.689" stop-color="#ffffa3"/><stop offset="0.729" stop-color="#ffff6e"/><stop offset="0.764" stop-color="#ffff49"/><stop offset="0.804" stop-color="#ffff28"/><stop offset="0.880" stop-color="#ffff01"/><stop offset="1.000" stop-color="#ffeb00"/></linearGradient><linearGradient id="hb86"><stop offset="0.000" stop-color="#fff700"/><stop offset="0.058" stop-color="#ffff00"/><stop offset="0.087" stop-color="#ffff08"/><stop offset="0.145" stop-color="#ffff1e"/><stop offset="0.197" stop-color="#ffff3c"/><stop offset="0.237" stop-color="#ffff5d"/><stop offset="0.272" stop-color="#ffff82"/><stop offset="0.365" stop-color="#ffffff"/><stop offset="0.631" stop-color="#fffffe"/><stop offset="0.683" stop-color="#ffffb3"/><stop offset="0.723" stop-color="#ffff7f"/><stop offset="0.758" stop-color="#ffff5b"/><stop offset="0.799" stop-color="#ffff3a"/><stop offset="0.851" stop-color="#ffff1d"/><stop offset="0.909" stop-color="#ffff07"/><stop offset="0.938" stop-color="#ffff00"/><stop offset="1.000" stop-color="#fff600"/></linearGradient><linearGradient id="hb87"><stop offset="0.000" stop-color="#fffe00"/><stop offset="0.058" stop-color="#ffff0b"/><stop offset="0.116" stop-color="#ffff1c"/><stop offset="0.162" stop-color="#ffff2f"/><stop offset="0.203" stop-color="#ffff47"/><stop offset="0.237" stop-color="#ffff63"/><stop offset="0.272" stop-color="#ffff85"/><stop offset="0.370" stop-color="#ffffff"/><stop offset="0.625" stop-color="#fffffe"/><stop offset="0.718" stop-color="#ffff88"/><stop offset="0.752" stop-color="#ffff66"/><stop offset="0.793" stop-color="#ffff46"/><stop offset="0.839" stop-color="#ffff2b"/><stop offset="0.885" stop-color="#ffff19"/><stop offset="0.949" stop-color="#ffff08"/><stop offset="1.000" stop-color="#fffe00"/></linearGradient><linearGradient id="hb88"><stop offset="0.000" stop-color="#ffff04"/><stop offset="0.122" stop-color="#ffff21"/><stop offset="0.168" stop-color="#ffff34"/><stop offset="0.208" stop-color="#ffff4b"/><stop offset="0.243" stop-color="#ffff65"/><stop offset="0.278" stop-color="#ffff85"/><stop offset="0.382" stop-color="#fffffc"/><stop offset="0.388" stop-color="#ffffff"/><stop offset="0.608" stop-color="#ffffff"/><stop offset="0.712" stop-color="#ffff88"/><stop offset="0.747" stop-color="#ffff68"/><stop offset="0.787" stop-color="#ffff49"/><stop offset="0.833" stop-color="#ffff30"/><stop offset="0.880" stop-color="#ffff1e"/><stop offset="1.000" stop-color="#ffff02"/></linearGradient><linearGradient id="hb89"><stop offset="0.000" stop-color="#ffff01"/><stop offset="0.122" stop-color="#ffff1d"/><stop offset="0.168" stop-color="#ffff2e"/><stop offset="0.214" stop-color="#ffff46"/><stop offset="0.284" stop-color="#ffff7b"/><stop offset="0.417" stop-color="#fffffd"/><stop offset="0.573" stop-color="#ffffff"/><stop offset="0.608" stop-color="#ffffe1"/><stop offset="0.712" stop-color="#ffff79"/><stop offset="0.781" stop-color="#ffff45"/><stop offset="0.828" stop-color="#ffff2d"/><stop offset="0.874" stop-color="#ffff1c"/><stop offset="1.000" stop-color="#ffff00"/></linearGradient><linearGradient id="hb90"><stop offset="0.000" stop-color="#fffa00"/><stop offset="0.046" stop-color="#ffff00"/><stop offset="0.087" stop-color="#ffff09"/><stop offset="0.145" stop-color="#ffff19"/><stop offset="0.197" stop-color="#ffff2e"/><stop offset="0.278" stop-color="#ffff60"/><stop offset="0.422" stop-color="#ffffd6"/><stop offset="0.463" stop-color="#ffffea"/><stop offset="0.498" stop-color="#fffff0"/><stop offset="0.532" stop-color="#ffffe9"/><stop offset="0.573" stop-color="#ffffd5"/><stop offset="0.718" stop-color="#ffff5e"/><stop offset="0.799" stop-color="#ffff2d"/><stop offset="0.851" stop-color="#ffff18"/><stop offset="0.914" stop-color="#ffff07"/><stop offset="0.949" stop-color="#ffff00"/><stop offset="1.000" stop-color="#fff900"/></linearGradient><linearGradient id="hb91"><stop offset="0.000" stop-color="#fff000"/><stop offset="0.116" stop-color="#ffff00"/><stop offset="0.179" stop-color="#ffff13"/><stop offset="0.266" stop-color="#ffff3d"/><stop offset="0.422" stop-color="#ffffa6"/><stop offset="0.463" stop-color="#ffffb7"/><stop offset="0.498" stop-color="#ffffbb"/><stop offset="0.532" stop-color="#ffffb6"/><stop offset="0.573" stop-color="#ffffa5"/><stop offset="0.729" stop-color="#ffff3c"/><stop offset="0.816" stop-color="#ffff12"/><stop offset="0.874" stop-color="#ffff00"/><stop offset="1.000" stop-color="#ffef00"/></linearGradient><linearGradient id="hb92"><stop offset="0.000" stop-color="#ffe300"/><stop offset="0.104" stop-color="#ffee00"/><stop offset="0.197" stop-color="#ffff01"/><stop offset="0.272" stop-color="#ffff21"/><stop offset="0.417" stop-color="#ffff71"/><stop offset="0.457" stop-color="#ffff7f"/><stop offset="0.498" stop-color="#ffff84"/><stop offset="0.532" stop-color="#ffff80"/><stop offset="0.573" stop-color="#ffff73"/><stop offset="0.723" stop-color="#ffff20"/><stop offset="0.799" stop-color="#ffff00"/><stop offset="0.891" stop-color="#ffee00"/><stop offset="1.000" stop-color="#ffe200"/></linearGradient><linearGradient id="hb93"><stop offset="0.000" stop-color="#ffd300"/><stop offset="0.150" stop-color="#ffe400"/><stop offset="0.272" stop-color="#fffe00"/><stop offset="0.417" stop-color="#ffff3f"/><stop offset="0.457" stop-color="#ffff4a"/><stop offset="0.498" stop-color="#ffff4e"/><stop offset="0.538" stop-color="#ffff49"/><stop offset="0.579" stop-color="#ffff3e"/><stop offset="0.718" stop-color="#ffff00"/><stop offset="0.845" stop-color="#ffe400"/><stop offset="1.000" stop-color="#ffd200"/></linearGradient><linearGradient id="hb94"><stop offset="0.000" stop-color="#ffc200"/><stop offset="0.191" stop-color="#ffd700"/><stop offset="0.376" stop-color="#ffff01"/><stop offset="0.440" stop-color="#ffff13"/><stop offset="0.498" stop-color="#ffff19"/><stop offset="0.550" stop-color="#ffff13"/><stop offset="0.613" stop-color="#ffff02"/><stop offset="0.810" stop-color="#ffd500"/><stop offset="1.000" stop-color="#ffc100"/></linearGradient><linearGradient id="hb95"><stop offset="0.000" stop-color="#ffb000"/><stop offset="0.168" stop-color="#ffbf00"/><stop offset="0.411" stop-color="#ffe800"/><stop offset="0.498" stop-color="#ffef00"/><stop offset="0.584" stop-color="#ffe800"/><stop offset="0.822" stop-color="#ffbf00"/><stop offset="1.000" stop-color="#ffaf00"/></linearGradient><linearGradient id="hb96"><stop offset="0.000" stop-color="#ff9e00"/><stop offset="0.179" stop-color="#ffad00"/><stop offset="0.417" stop-color="#ffcc00"/><stop offset="0.498" stop-color="#ffd100"/><stop offset="0.590" stop-color="#ffcb00"/><stop offset="0.839" stop-color="#ffaa00"/><stop offset="1.000" stop-color="#ff9e00"/></linearGradient><linearGradient id="hb97"><stop offset="0.000" stop-color="#ff8d00"/><stop offset="0.174" stop-color="#ff9900"/><stop offset="0.411" stop-color="#ffb200"/><stop offset="0.498" stop-color="#ffb600"/><stop offset="0.584" stop-color="#ffb200"/><stop offset="0.828" stop-color="#ff9900"/><stop offset="1.000" stop-color="#ff8d00"/></linearGradient><linearGradient id="hb98"><stop offset="0.000" stop-color="#ff7e00"/><stop offset="0.498" stop-color="#ff9f00"/><stop offset="1.000" stop-color="#ff7e00"/></linearGradient><linearGradient id="hb99"><stop offset="0.000" stop-color="#ff7100"/><stop offset="0.307" stop-color="#ff8300"/><stop offset="0.313" stop-color="#9c0000"/><stop offset="0.683" stop-color="#9c0000"/><stop offset="0.689" stop-color="#ff8300"/><stop offset="1.000" stop-color="#ff7100"/></linearGradient><linearGradient id="hb100"><stop offset="0.000" stop-color="#ff6600"/><stop offset="0.307" stop-color="#ff7400"/><stop offset="0.313" stop-color="#9c0000"/><stop offset="0.683" stop-color="#9c0000"/><stop offset="0.689" stop-color="#ff7400"/><stop offset="1.000" stop-color="#ff6600"/></linearGradient><linearGradient id="hb101"><stop offset="0.000" stop-color="#ff5d00"/><stop offset="0.307" stop-color="#ff6800"/><stop offset="0.313" stop-color="#9c0000"/><stop offset="0.683" stop-color="#9c0000"/><stop offset="0.689" stop-color="#ff6800"/><stop offset="1.000" stop-color="#ff5c00"/></linearGradient><linearGradient id="hb102"><stop offset="0.000" stop-color="#ff5500"/><stop offset="0.307" stop-color="#ff5f00"/><stop offset="0.313" stop-color="#9c0000"/><stop offset="0.683" stop-color="#9c0000"/><stop offset="0.689" stop-color="#ff5f00"/><stop offset="1.000" stop-color="#ff5500"/></linearGradient><linearGradient id="hb103"><stop offset="0.000" stop-color="#ff4f00"/><stop offset="0.307" stop-color="#ff5700"/><stop offset="0.313" stop-color="#9c0000"/><stop offset="0.683" stop-color="#9c0000"/><stop offset="0.689" stop-color="#ff5700"/><stop offset="1.000" stop-color="#ff4f00"/></linearGradient><linearGradient id="hb104"><stop offset="0.000" stop-color="#ff4b00"/><stop offset="0.307" stop-color="#ff5100"/><stop offset="0.313" stop-color="#9c0000"/><stop offset="0.683" stop-color="#9c0000"/><stop offset="0.689" stop-color="#ff5100"/><stop offset="1.000" stop-color="#ff4b00"/></linearGradient><linearGradient id="dgr" gradientUnits="userSpaceOnUse" x1="11" y1="0" x2="192.3" y2="0"><stop offset="0.0000" stop-color="#f4ec60"/><stop offset="0.0165" stop-color="#f2e840"/><stop offset="0.0284" stop-color="#f6f090"/><stop offset="0.0372" stop-color="#ffffff"/><stop offset="0.0461" stop-color="#ffffff"/><stop offset="0.0483" stop-color="#e4561a"/><stop offset="0.0604" stop-color="#f07e20"/><stop offset="0.0814" stop-color="#f28c1e"/><stop offset="0.1034" stop-color="#f07a1c"/><stop offset="0.1145" stop-color="#e04c14"/><stop offset="0.1161" stop-color="#ffffff"/><stop offset="0.1288" stop-color="#fffff0"/><stop offset="0.1448" stop-color="#f6f080"/><stop offset="0.1751" stop-color="#f0e628"/><stop offset="0.2463" stop-color="#f0e628"/><stop offset="0.2761" stop-color="#f6f090"/><stop offset="0.2849" stop-color="#ffffff"/><stop offset="0.2937" stop-color="#ffffff"/><stop offset="0.2959" stop-color="#e4561a"/><stop offset="0.3081" stop-color="#f07e20"/><stop offset="0.3290" stop-color="#f28c1e"/><stop offset="0.3511" stop-color="#f07a1c"/><stop offset="0.3621" stop-color="#e04c14"/><stop offset="0.3638" stop-color="#ffffff"/><stop offset="0.3764" stop-color="#fffff0"/><stop offset="0.3924" stop-color="#f6f080"/><stop offset="0.4228" stop-color="#f0e628"/><stop offset="0.4939" stop-color="#f0e628"/><stop offset="0.5237" stop-color="#f6f090"/><stop offset="0.5325" stop-color="#ffffff"/><stop offset="0.5414" stop-color="#ffffff"/><stop offset="0.5436" stop-color="#e4561a"/><stop offset="0.5557" stop-color="#f07e20"/><stop offset="0.5767" stop-color="#f28c1e"/><stop offset="0.5987" stop-color="#f07a1c"/><stop offset="0.6098" stop-color="#e04c14"/><stop offset="0.6114" stop-color="#ffffff"/><stop offset="0.6241" stop-color="#fffff0"/><stop offset="0.6401" stop-color="#f6f080"/><stop offset="0.6704" stop-color="#f0e628"/><stop offset="0.7416" stop-color="#f0e628"/><stop offset="0.7714" stop-color="#f6f090"/><stop offset="0.7802" stop-color="#ffffff"/><stop offset="0.7890" stop-color="#ffffff"/><stop offset="0.7912" stop-color="#e4561a"/><stop offset="0.8034" stop-color="#f07e20"/><stop offset="0.8243" stop-color="#f28c1e"/><stop offset="0.8464" stop-color="#f07a1c"/><stop offset="0.8574" stop-color="#e04c14"/><stop offset="0.8591" stop-color="#ffffff"/><stop offset="0.8718" stop-color="#fffff0"/><stop offset="0.8878" stop-color="#f6f080"/><stop offset="0.9181" stop-color="#f0e628"/><stop offset="1.0000" stop-color="#f0e628"/></linearGradient><linearGradient id="dcb" x1="0" x2="0" y1="0" y2="1"><stop offset="0" stop-color="#ffffff"/><stop offset="0.2" stop-color="#f8f040"/><stop offset="0.5" stop-color="#f08020"/><stop offset="0.75" stop-color="#e01010"/><stop offset="1" stop-color="#000"/></linearGradient><linearGradient id="afmcb" x1="0" x2="0" y1="0" y2="1"><stop offset="0" stop-color="#f8e090"/><stop offset="0.4" stop-color="#c89020"/><stop offset="1" stop-color="#1a0a00"/></linearGradient><linearGradient id="afmg" x1="0" x2="0" y1="0" y2="1"><stop offset="0" stop-color="#e6cc68"/><stop offset="0.45" stop-color="#d6b444"/><stop offset="1" stop-color="#b08424"/></linearGradient><clipPath id="afmclip"><polygon points="13.0,429.0 13.5,429.0 14.0,429.1 14.5,429.2 15.0,429.4 15.5,429.7 16.0,430.0 16.5,430.4 17.0,430.9 17.5,431.3 18.0,431.9 18.5,432.4 19.0,433.0 19.5,433.5 20.0,434.1 20.5,434.6 21.0,435.1 21.5,435.5 22.0,435.9 22.5,436.3 23.0,436.5 23.5,436.7 24.0,436.8 24.5,436.9 25.0,436.8 25.5,436.7 26.0,436.5 26.5,436.2 27.0,435.9 27.5,435.5 28.0,435.0 28.5,434.5 29.0,434.0 29.5,433.4 30.0,432.8 30.5,432.3 31.0,431.7 31.5,431.2 32.0,430.7 32.5,430.3 33.0,429.9 33.5,429.5 34.0,429.2 34.5,429.0 35.0,428.9 35.5,428.8 36.0,428.8 36.5,428.8 37.0,428.8 37.5,428.8 38.0,428.8 38.5,428.7 39.0,428.7 39.5,428.7 40.0,428.7 40.5,428.7 41.0,428.7 41.5,428.7 42.0,428.7 42.5,428.7 43.0,428.7 43.5,428.7 44.0,428.7 44.5,428.7 45.0,428.7 45.5,428.7 46.0,428.7 46.5,428.7 47.0,428.7 47.5,428.7 48.0,428.6 48.5,428.6 49.0,428.6 49.5,428.6 50.0,428.6 50.5,428.6 51.0,428.6 51.5,428.6 52.0,428.6 52.5,428.6 53.0,428.6 53.5,428.6 54.0,428.6 54.5,428.6 55.0,428.6 55.5,428.6 56.0,428.6 56.5,428.6 57.0,428.6 57.5,428.6 58.0,428.6 58.5,428.5 59.0,428.5 59.5,428.6 60.0,428.7 60.5,428.9 61.0,429.1 61.5,429.4 62.0,429.8 62.5,430.2 63.0,430.7 63.5,431.2 64.0,431.7 64.5,432.3 65.0,432.8 65.5,433.4 66.0,433.9 66.5,434.4 67.0,434.9 67.5,435.3 68.0,435.7 68.5,436.0 69.0,436.2 69.5,436.4 70.0,436.4 70.5,436.4 71.0,436.3 71.5,436.1 72.0,435.9 72.5,435.6 73.0,435.2 73.5,434.7 74.0,434.3 74.5,433.7 75.0,433.2 75.5,432.6 76.0,432.0 76.5,431.5 77.0,430.9 77.5,430.4 78.0,430.0 78.5,429.6 79.0,429.2 79.5,428.9 80.0,428.6 80.5,428.5 81.0,428.4 81.5,428.3 82.0,428.3 82.5,428.3 83.0,428.3 83.5,428.3 84.0,428.3 84.5,428.3 85.0,428.3 85.5,428.3 86.0,428.3 86.5,428.3 87.0,428.3 87.5,428.3 88.0,428.2 88.5,428.2 89.0,428.2 89.5,428.2 90.0,428.2 90.5,428.2 91.0,428.2 91.5,428.2 92.0,428.2 92.5,428.2 93.0,428.2 93.5,428.2 94.0,428.2 94.5,428.2 95.0,428.2 95.5,428.2 96.0,428.2 96.5,428.2 97.0,428.2 97.5,428.2 98.0,428.1 98.5,428.1 99.0,428.1 99.5,428.1 100.0,428.1 100.5,428.1 101.0,428.1 101.5,428.1 102.0,428.1 102.5,428.1 103.0,428.1 103.5,428.1 104.0,428.1 104.5,428.1 105.0,428.1 105.5,428.1 106.0,428.1 106.5,428.2 107.0,428.4 107.5,428.6 108.0,428.9 108.5,429.3 109.0,429.7 109.5,430.1 110.0,430.6 110.5,431.1 111.0,431.7 111.5,432.3 112.0,432.8 112.5,433.3 113.0,433.9 113.5,434.3 114.0,434.8 114.5,435.1 115.0,435.5 115.5,435.7 116.0,435.9 116.5,436.0 117.0,436.0 117.5,435.9 118.0,435.7 118.5,435.5 119.0,435.2 119.5,434.8 120.0,434.4 120.5,433.9 121.0,433.4 121.5,432.8 122.0,432.3 122.5,431.7 123.0,431.1 123.5,430.6 124.0,430.1 124.5,429.6 125.0,429.2 125.5,428.8 126.0,428.5 126.5,428.2 127.0,428.0 127.5,427.9 128.0,427.9 128.5,427.8 129.0,427.8 129.5,427.8 130.0,427.8 130.5,427.8 131.0,427.8 131.5,427.8 132.0,427.8 132.5,427.8 133.0,427.8 133.5,427.8 134.0,427.8 134.5,427.8 135.0,427.8 135.5,427.8 136.0,427.8 136.5,427.8 137.0,427.8 137.5,427.8 138.0,427.8 138.5,427.7 139.0,427.7 139.5,427.7 140.0,427.7 140.5,427.7 141.0,427.7 141.5,427.7 142.0,427.7 142.5,427.7 143.0,427.7 143.5,427.7 144.0,427.7 144.5,427.7 145.0,427.7 145.5,427.7 146.0,427.7 146.5,427.7 147.0,427.7 147.5,427.7 148.0,427.6 148.5,427.6 149.0,427.6 149.5,427.6 150.0,427.6 150.5,427.6 151.0,427.6 151.5,427.6 152.0,427.6 152.5,427.6 153.0,427.7 153.5,427.9 154.0,428.1 154.5,428.4 155.0,428.7 155.5,429.1 156.0,429.6 156.5,430.1 157.0,430.6 157.5,431.1 158.0,431.7 158.5,432.2 159.0,432.8 159.5,433.3 160.0,433.8 160.5,434.2 161.0,434.6 161.5,434.9 162.0,435.2 162.5,435.4 163.0,435.5 163.5,435.5 164.0,435.4 164.5,435.3 165.0,435.1 165.5,434.8 166.0,434.4 166.5,434.0 167.0,433.5 167.5,433.0 168.0,432.5 168.5,431.9 169.0,431.3 169.5,430.8 170.0,430.2 170.5,429.7 171.0,429.2 171.5,428.8 172.0,428.4 172.5,428.1 173.0,427.8 173.5,427.6 174.0,427.5 174.5,427.4 175.0,427.4 175.5,427.4 176.0,427.4 176.5,427.4 177.0,427.4 177.5,427.4 178.0,427.4 178.5,427.3 179.0,427.3 179.5,427.3 180.0,427.3 180.5,427.3 181.0,427.3 181.5,427.3 182.0,427.3 182.5,427.3 183.0,427.3 183.5,427.3 184.0,427.3 184.5,427.3 185.0,427.3 185.5,427.3 186.0,427.3 186.5,427.3 187.0,427.3 187.5,427.3 188.0,427.2 188.5,427.2 189.0,427.2 189.5,427.2 189.7,428.0 197.6,437.5 197.6,437.6 197.1,437.6 196.6,437.6 196.1,437.6 195.6,437.6 195.1,437.6 194.6,437.6 194.1,437.6 193.6,437.6 193.1,437.6 192.6,437.6 192.1,437.7 191.6,437.7 191.1,437.7 190.6,437.7 190.1,437.7 189.6,437.7 189.1,437.7 188.6,437.7 188.1,437.7 187.6,437.7 187.1,437.7 186.6,437.7 186.1,437.7 185.6,437.7 185.1,437.7 184.6,437.7 184.1,437.7 183.6,437.8 183.1,437.8 182.6,437.8 182.1,437.8 181.6,437.8 181.1,437.8 180.6,437.8 180.1,437.8 179.6,437.8 179.1,437.8 178.6,437.8 178.1,437.8 177.6,437.8 177.1,437.8 176.6,437.8 176.1,437.8 175.6,437.8 175.1,437.9 174.6,437.9 174.1,437.9 173.6,438.0 173.1,438.1 172.6,438.3 172.1,438.6 171.6,438.9 171.1,439.2 170.6,439.5 170.1,439.9 169.6,440.3 169.1,440.8 168.6,441.2 168.1,441.6 167.6,442.0 167.1,442.4 166.6,442.8 166.1,443.1 165.6,443.4 165.1,443.6 164.6,443.8 164.1,443.9 163.6,444.0 163.1,444.0 162.6,443.9 162.1,443.8 161.6,443.6 161.1,443.4 160.6,443.1 160.1,442.8 159.6,442.4 159.1,442.1 158.6,441.7 158.1,441.2 157.6,440.8 157.1,440.4 156.6,440.0 156.1,439.6 155.6,439.3 155.1,439.0 154.6,438.7 154.1,438.5 153.6,438.3 153.1,438.2 152.6,438.2 152.1,438.1 151.6,438.1 151.1,438.1 150.6,438.1 150.1,438.2 149.6,438.2 149.1,438.2 148.6,438.2 148.1,438.2 147.6,438.2 147.1,438.2 146.6,438.2 146.1,438.2 145.6,438.2 145.1,438.2 144.6,438.2 144.1,438.2 143.6,438.2 143.1,438.2 142.6,438.2 142.1,438.3 141.6,438.3 141.1,438.3 140.6,438.3 140.1,438.3 139.6,438.3 139.1,438.3 138.6,438.3 138.1,438.3 137.6,438.3 137.1,438.3 136.6,438.3 136.1,438.3 135.6,438.3 135.1,438.3 134.6,438.3 134.1,438.3 133.6,438.4 133.1,438.4 132.6,438.4 132.1,438.4 131.6,438.4 131.1,438.4 130.6,438.4 130.1,438.4 129.6,438.4 129.1,438.4 128.6,438.4 128.1,438.4 127.6,438.5 127.1,438.5 126.6,438.7 126.1,438.9 125.6,439.1 125.1,439.4 124.6,439.7 124.1,440.0 123.6,440.4 123.1,440.8 122.6,441.2 122.1,441.7 121.6,442.1 121.1,442.5 120.6,442.9 120.1,443.3 119.6,443.6 119.1,443.9 118.6,444.1 118.1,444.3 117.6,444.5 117.1,444.5 116.6,444.6 116.1,444.5 115.6,444.4 115.1,444.2 114.6,444.0 114.1,443.7 113.6,443.4 113.1,443.1 112.6,442.7 112.1,442.3 111.6,441.9 111.1,441.5 110.6,441.1 110.1,440.7 109.6,440.3 109.1,439.9 108.6,439.6 108.1,439.3 107.6,439.1 107.1,438.9 106.6,438.8 106.1,438.7 105.6,438.7 105.1,438.7 104.6,438.7 104.1,438.7 103.6,438.7 103.1,438.7 102.6,438.7 102.1,438.7 101.6,438.7 101.1,438.7 100.6,438.7 100.1,438.8 99.6,438.8 99.1,438.8 98.6,438.8 98.1,438.8 97.6,438.8 97.1,438.8 96.6,438.8 96.1,438.8 95.6,438.8 95.1,438.8 94.6,438.8 94.1,438.8 93.6,438.8 93.1,438.8 92.6,438.8 92.1,438.9 91.6,438.9 91.1,438.9 90.6,438.9 90.1,438.9 89.6,438.9 89.1,438.9 88.6,438.9 88.1,438.9 87.6,438.9 87.1,438.9 86.6,438.9 86.1,438.9 85.6,438.9 85.1,438.9 84.6,438.9 84.1,438.9 83.6,439.0 83.1,439.0 82.6,439.0 82.1,439.0 81.6,439.0 81.1,439.0 80.6,439.1 80.1,439.2 79.6,439.4 79.1,439.6 78.6,439.9 78.1,440.2 77.6,440.5 77.1,440.9 76.6,441.3 76.1,441.7 75.6,442.1 75.1,442.6 74.6,443.0 74.1,443.4 73.6,443.8 73.1,444.1 72.6,444.4 72.1,444.7 71.6,444.9 71.1,445.0 70.6,445.1 70.1,445.1 69.6,445.1 69.1,445.0 68.6,444.8 68.1,444.6 67.6,444.4 67.1,444.0 66.6,443.7 66.1,443.3 65.6,442.9 65.1,442.5 64.6,442.1 64.1,441.7 63.6,441.3 63.1,440.9 62.6,440.6 62.1,440.2 61.6,440.0 61.1,439.7 60.6,439.5 60.1,439.4 59.6,439.3 59.1,439.3 58.6,439.3 58.1,439.3 57.6,439.3 57.1,439.3 56.6,439.3 56.1,439.3 55.6,439.3 55.1,439.3 54.6,439.3 54.1,439.3 53.6,439.3 53.1,439.3 52.6,439.3 52.1,439.3 51.6,439.3 51.1,439.3 50.6,439.3 50.1,439.4 49.6,439.4 49.1,439.4 48.6,439.4 48.1,439.4 47.6,439.4 47.1,439.4 46.6,439.4 46.1,439.4 45.6,439.4 45.1,439.4 44.6,439.4 44.1,439.4 43.6,439.4 43.1,439.4 42.6,439.4 42.1,439.5 41.6,439.5 41.1,439.5 40.6,439.5 40.1,439.5 39.6,439.5 39.1,439.5 38.6,439.5 38.1,439.5 37.6,439.5 37.1,439.5 36.6,439.5 36.1,439.5 35.6,439.5 35.1,439.6 34.6,439.7 34.1,439.8 33.6,440.0 33.1,440.3 32.6,440.6 32.1,440.9 31.6,441.3 31.1,441.7 30.6,442.1 30.1,442.5 29.6,442.9 29.1,443.4 28.6,443.8 28.1,444.2 27.6,444.5 27.1,444.8 26.6,445.1 26.1,445.3 25.6,445.5 25.1,445.6 24.6,445.7 24.1,445.6 23.6,445.6 23.1,445.4 22.6,445.3 22.1,445.0 21.6,444.7 21.1,444.4 20.6,444.0 20.1,443.6 19.6,443.2 19.1,442.8 18.6,442.4 18.1,442.0 18.0,445.5"/></clipPath><filter id="bl2" x="-50%" y="-50%" width="200%" height="200%"><feGaussianBlur stdDeviation="2"/></filter><linearGradient id="f0"><stop offset="0.000" stop-color="#0005ff"/><stop offset="0.382" stop-color="#0009ff"/><stop offset="0.655" stop-color="#0000ff"/><stop offset="1.000" stop-color="#0000dd"/></linearGradient><linearGradient id="f1"><stop offset="0.000" stop-color="#0005ff"/><stop offset="0.366" stop-color="#0009ff"/><stop offset="0.631" stop-color="#0000ff"/><stop offset="1.000" stop-color="#0000d9"/></linearGradient><linearGradient id="f2"><stop offset="0.000" stop-color="#0005ff"/><stop offset="0.350" stop-color="#0009ff"/><stop offset="0.603" stop-color="#0000ff"/><stop offset="1.000" stop-color="#0000d4"/></linearGradient><linearGradient id="f3"><stop offset="0.000" stop-color="#0005ff"/><stop offset="0.333" stop-color="#0008ff"/><stop offset="0.579" stop-color="#0000ff"/><stop offset="0.778" stop-color="#0000ed"/><stop offset="1.000" stop-color="#0000cf"/></linearGradient><linearGradient id="f4"><stop offset="0.000" stop-color="#0005ff"/><stop offset="0.319" stop-color="#0008ff"/><stop offset="0.554" stop-color="#0000ff"/><stop offset="0.767" stop-color="#0000eb"/><stop offset="1.000" stop-color="#0000ca"/></linearGradient><linearGradient id="f5"><stop offset="0.000" stop-color="#0005ff"/><stop offset="0.303" stop-color="#0008ff"/><stop offset="0.530" stop-color="#0000ff"/><stop offset="0.754" stop-color="#0000ea"/><stop offset="1.000" stop-color="#0000c4"/></linearGradient><linearGradient id="f6"><stop offset="0.000" stop-color="#0005ff"/><stop offset="0.287" stop-color="#0007ff"/><stop offset="0.513" stop-color="#0000fe"/><stop offset="0.743" stop-color="#0000e7"/><stop offset="1.000" stop-color="#0000be"/></linearGradient><linearGradient id="f7"><stop offset="0.000" stop-color="#0005ff"/><stop offset="0.511" stop-color="#0000fd"/><stop offset="0.740" stop-color="#0000e4"/><stop offset="1.000" stop-color="#0000b7"/></linearGradient><linearGradient id="f8"><stop offset="0.000" stop-color="#0005ff"/><stop offset="0.502" stop-color="#0000fc"/><stop offset="0.729" stop-color="#0000e2"/><stop offset="0.986" stop-color="#0000b3"/><stop offset="0.989" stop-color="#e6ff19"/><stop offset="1.000" stop-color="#b0ff4f"/></linearGradient><linearGradient id="f9"><stop offset="0.000" stop-color="#0005ff"/><stop offset="0.486" stop-color="#0000fb"/><stop offset="0.707" stop-color="#0000e1"/><stop offset="0.956" stop-color="#0000b2"/><stop offset="0.958" stop-color="#ccff33"/><stop offset="0.978" stop-color="#79ff86"/><stop offset="1.000" stop-color="#36ffc9"/></linearGradient><linearGradient id="f10"><stop offset="0.000" stop-color="#0005ff"/><stop offset="0.470" stop-color="#0000fa"/><stop offset="0.685" stop-color="#0000e0"/><stop offset="0.923" stop-color="#0000b1"/><stop offset="0.926" stop-color="#c4ff3b"/><stop offset="0.945" stop-color="#6dff92"/><stop offset="0.964" stop-color="#31ffce"/><stop offset="0.986" stop-color="#01fffe"/><stop offset="1.000" stop-color="#00eaff"/></linearGradient><linearGradient id="f11"><stop offset="0.000" stop-color="#0005ff"/><stop offset="0.456" stop-color="#0000fa"/><stop offset="0.664" stop-color="#0000df"/><stop offset="0.893" stop-color="#0000b0"/><stop offset="0.896" stop-color="#b0ff4f"/><stop offset="0.907" stop-color="#7bff84"/><stop offset="0.918" stop-color="#50ffaf"/><stop offset="0.945" stop-color="#04fffb"/><stop offset="0.972" stop-color="#00d6ff"/><stop offset="1.000" stop-color="#00bbff"/></linearGradient><linearGradient id="f12"><stop offset="0.000" stop-color="#0005ff"/><stop offset="0.440" stop-color="#0000f9"/><stop offset="0.642" stop-color="#0000de"/><stop offset="0.863" stop-color="#0000b0"/><stop offset="0.866" stop-color="#9eff61"/><stop offset="0.885" stop-color="#48ffb7"/><stop offset="0.909" stop-color="#00feff"/><stop offset="0.928" stop-color="#00daff"/><stop offset="0.948" stop-color="#00c0ff"/><stop offset="1.000" stop-color="#009cff"/></linearGradient><linearGradient id="f13"><stop offset="0.000" stop-color="#0005ff"/><stop offset="0.336" stop-color="#0000ff"/><stop offset="0.426" stop-color="#0000f8"/><stop offset="0.623" stop-color="#0000dd"/><stop offset="0.833" stop-color="#0000af"/><stop offset="0.836" stop-color="#90ff6f"/><stop offset="0.855" stop-color="#38ffc7"/><stop offset="0.874" stop-color="#00fbff"/><stop offset="0.898" stop-color="#00caff"/><stop offset="0.926" stop-color="#00aaff"/><stop offset="0.958" stop-color="#0094ff"/><stop offset="1.000" stop-color="#0088ff"/></linearGradient><linearGradient id="f14"><stop offset="0.000" stop-color="#0005ff"/><stop offset="0.314" stop-color="#0000ff"/><stop offset="0.410" stop-color="#0000f7"/><stop offset="0.598" stop-color="#0000dd"/><stop offset="0.803" stop-color="#0000af"/><stop offset="0.806" stop-color="#84ff7b"/><stop offset="0.822" stop-color="#34ffcb"/><stop offset="0.838" stop-color="#00fcff"/><stop offset="0.866" stop-color="#00c1ff"/><stop offset="0.898" stop-color="#009aff"/><stop offset="0.942" stop-color="#0083ff"/><stop offset="1.000" stop-color="#007aff"/></linearGradient><linearGradient id="f15"><stop offset="0.000" stop-color="#0005ff"/><stop offset="0.292" stop-color="#0000ff"/><stop offset="0.396" stop-color="#0000f7"/><stop offset="0.579" stop-color="#0000db"/><stop offset="0.773" stop-color="#0000ae"/><stop offset="0.776" stop-color="#7bff84"/><stop offset="0.789" stop-color="#34ffcb"/><stop offset="0.803" stop-color="#00ffff"/><stop offset="0.816" stop-color="#00d9ff"/><stop offset="0.833" stop-color="#00b8ff"/><stop offset="0.852" stop-color="#009dff"/><stop offset="0.874" stop-color="#008aff"/><stop offset="0.926" stop-color="#0074ff"/><stop offset="1.000" stop-color="#0070ff"/></linearGradient><linearGradient id="f16"><stop offset="0.000" stop-color="#0004ff"/><stop offset="0.270" stop-color="#0000ff"/><stop offset="0.382" stop-color="#0000f6"/><stop offset="0.560" stop-color="#0000da"/><stop offset="0.745" stop-color="#0000ad"/><stop offset="0.748" stop-color="#64ff9b"/><stop offset="0.759" stop-color="#2bffd4"/><stop offset="0.770" stop-color="#00feff"/><stop offset="0.786" stop-color="#00cdff"/><stop offset="0.803" stop-color="#00acff"/><stop offset="0.822" stop-color="#0091ff"/><stop offset="0.847" stop-color="#007cff"/><stop offset="0.907" stop-color="#0068ff"/><stop offset="1.000" stop-color="#0069ff"/></linearGradient><linearGradient id="f17"><stop offset="0.000" stop-color="#0004ff"/><stop offset="0.248" stop-color="#0000ff"/><stop offset="0.366" stop-color="#0000f5"/><stop offset="0.535" stop-color="#0000da"/><stop offset="0.715" stop-color="#0000ad"/><stop offset="0.718" stop-color="#60ff9f"/><stop offset="0.726" stop-color="#31ffce"/><stop offset="0.737" stop-color="#00ffff"/><stop offset="0.754" stop-color="#00caff"/><stop offset="0.773" stop-color="#00a0ff"/><stop offset="0.795" stop-color="#0083ff"/><stop offset="0.819" stop-color="#006fff"/><stop offset="0.887" stop-color="#005dff"/><stop offset="1.000" stop-color="#0063ff"/></linearGradient><linearGradient id="f18"><stop offset="0.000" stop-color="#0004ff"/><stop offset="0.227" stop-color="#0000ff"/><stop offset="0.352" stop-color="#0000f4"/><stop offset="0.516" stop-color="#0000d9"/><stop offset="0.688" stop-color="#0000ac"/><stop offset="0.691" stop-color="#4effb1"/><stop offset="0.702" stop-color="#12ffed"/><stop offset="0.707" stop-color="#00f9ff"/><stop offset="0.724" stop-color="#00c1ff"/><stop offset="0.743" stop-color="#0096ff"/><stop offset="0.767" stop-color="#0075ff"/><stop offset="0.795" stop-color="#0062ff"/><stop offset="0.871" stop-color="#0052ff"/><stop offset="1.000" stop-color="#005eff"/></linearGradient><linearGradient id="f19"><stop offset="0.000" stop-color="#0004ff"/><stop offset="0.205" stop-color="#0000ff"/><stop offset="0.339" stop-color="#0000f3"/><stop offset="0.497" stop-color="#0000d7"/><stop offset="0.661" stop-color="#0000ac"/><stop offset="0.664" stop-color="#3effc1"/><stop offset="0.674" stop-color="#02fffd"/><stop offset="0.677" stop-color="#00f4ff"/><stop offset="0.694" stop-color="#00b9ff"/><stop offset="0.713" stop-color="#008dff"/><stop offset="0.737" stop-color="#006bff"/><stop offset="0.765" stop-color="#0058ff"/><stop offset="0.847" stop-color="#0049ff"/><stop offset="1.000" stop-color="#0059ff"/></linearGradient><linearGradient id="f20"><stop offset="0.000" stop-color="#0004ff"/><stop offset="0.183" stop-color="#0000ff"/><stop offset="0.325" stop-color="#0000f2"/><stop offset="0.475" stop-color="#0000d7"/><stop offset="0.634" stop-color="#0000ab"/><stop offset="0.636" stop-color="#30ffcf"/><stop offset="0.644" stop-color="#01fffe"/><stop offset="0.661" stop-color="#00bcff"/><stop offset="0.683" stop-color="#0084ff"/><stop offset="0.707" stop-color="#0062ff"/><stop offset="0.737" stop-color="#004dff"/><stop offset="0.776" stop-color="#0042ff"/><stop offset="0.827" stop-color="#0040ff"/><stop offset="1.000" stop-color="#0055ff"/></linearGradient><linearGradient id="f21"><stop offset="0.000" stop-color="#0004ff"/><stop offset="0.161" stop-color="#0000ff"/><stop offset="0.309" stop-color="#0000f1"/><stop offset="0.456" stop-color="#0000d6"/><stop offset="0.606" stop-color="#0000ab"/><stop offset="0.609" stop-color="#25ffda"/><stop offset="0.614" stop-color="#04fffb"/><stop offset="0.617" stop-color="#00f4ff"/><stop offset="0.634" stop-color="#00afff"/><stop offset="0.655" stop-color="#0078ff"/><stop offset="0.680" stop-color="#0057ff"/><stop offset="0.710" stop-color="#0043ff"/><stop offset="0.751" stop-color="#0038ff"/><stop offset="0.806" stop-color="#0038ff"/><stop offset="1.000" stop-color="#0052ff"/></linearGradient><linearGradient id="f22"><stop offset="0.000" stop-color="#0003ff"/><stop offset="0.142" stop-color="#0000ff"/><stop offset="0.295" stop-color="#0000f0"/><stop offset="0.434" stop-color="#0000d5"/><stop offset="0.579" stop-color="#0000aa"/><stop offset="0.582" stop-color="#1cffe3"/><stop offset="0.587" stop-color="#00f9ff"/><stop offset="0.603" stop-color="#00adff"/><stop offset="0.625" stop-color="#0071ff"/><stop offset="0.650" stop-color="#004eff"/><stop offset="0.680" stop-color="#003aff"/><stop offset="0.721" stop-color="#0030ff"/><stop offset="0.781" stop-color="#002fff"/><stop offset="1.000" stop-color="#004fff"/></linearGradient><linearGradient id="f23"><stop offset="0.000" stop-color="#0003ff"/><stop offset="0.131" stop-color="#0000fe"/><stop offset="0.281" stop-color="#0000ef"/><stop offset="0.415" stop-color="#0000d4"/><stop offset="0.552" stop-color="#0000aa"/><stop offset="0.554" stop-color="#16ffe9"/><stop offset="0.557" stop-color="#03fffc"/><stop offset="0.560" stop-color="#00f1ff"/><stop offset="0.576" stop-color="#00a2ff"/><stop offset="0.595" stop-color="#006cff"/><stop offset="0.620" stop-color="#0047ff"/><stop offset="0.653" stop-color="#0030ff"/><stop offset="0.696" stop-color="#0027ff"/><stop offset="0.759" stop-color="#0028ff"/><stop offset="1.000" stop-color="#004cff"/></linearGradient><linearGradient id="f24"><stop offset="0.000" stop-color="#0003ff"/><stop offset="0.128" stop-color="#0000fd"/><stop offset="0.270" stop-color="#0000ed"/><stop offset="0.399" stop-color="#0000d2"/><stop offset="0.527" stop-color="#0000a9"/><stop offset="0.530" stop-color="#00feff"/><stop offset="0.538" stop-color="#00cbff"/><stop offset="0.546" stop-color="#00a4ff"/><stop offset="0.565" stop-color="#0068ff"/><stop offset="0.590" stop-color="#0040ff"/><stop offset="0.625" stop-color="#0027ff"/><stop offset="0.672" stop-color="#001eff"/><stop offset="0.740" stop-color="#0021ff"/><stop offset="1.000" stop-color="#0049ff"/></linearGradient><linearGradient id="f25"><stop offset="0.000" stop-color="#0002ff"/><stop offset="0.123" stop-color="#0000fc"/><stop offset="0.257" stop-color="#0000ec"/><stop offset="0.377" stop-color="#0000d1"/><stop offset="0.500" stop-color="#0000a9"/><stop offset="0.502" stop-color="#00fcff"/><stop offset="0.511" stop-color="#00c6ff"/><stop offset="0.519" stop-color="#009dff"/><stop offset="0.538" stop-color="#005fff"/><stop offset="0.563" stop-color="#0036ff"/><stop offset="0.598" stop-color="#001eff"/><stop offset="0.644" stop-color="#0016ff"/><stop offset="0.718" stop-color="#001aff"/><stop offset="1.000" stop-color="#0047ff"/></linearGradient><linearGradient id="f26"><stop offset="0.000" stop-color="#0002ff"/><stop offset="0.117" stop-color="#0000fb"/><stop offset="0.243" stop-color="#0000eb"/><stop offset="0.358" stop-color="#0000d0"/><stop offset="0.475" stop-color="#0000a8"/><stop offset="0.478" stop-color="#00e8ff"/><stop offset="0.486" stop-color="#00b4ff"/><stop offset="0.494" stop-color="#008cff"/><stop offset="0.513" stop-color="#0051ff"/><stop offset="0.538" stop-color="#002bff"/><stop offset="0.573" stop-color="#0015ff"/><stop offset="0.623" stop-color="#000eff"/><stop offset="0.699" stop-color="#0013ff"/><stop offset="1.000" stop-color="#0045ff"/></linearGradient><linearGradient id="f27"><stop offset="0.000" stop-color="#0001ff"/><stop offset="0.115" stop-color="#0000fa"/><stop offset="0.232" stop-color="#0000e9"/><stop offset="0.341" stop-color="#0000ce"/><stop offset="0.451" stop-color="#0000a8"/><stop offset="0.453" stop-color="#00d7ff"/><stop offset="0.461" stop-color="#00a3ff"/><stop offset="0.470" stop-color="#007cff"/><stop offset="0.489" stop-color="#0043ff"/><stop offset="0.513" stop-color="#0020ff"/><stop offset="0.549" stop-color="#000cff"/><stop offset="0.601" stop-color="#0007ff"/><stop offset="0.683" stop-color="#000dff"/><stop offset="1.000" stop-color="#0043ff"/></linearGradient><linearGradient id="f28"><stop offset="0.000" stop-color="#0000ff"/><stop offset="0.115" stop-color="#0000f7"/><stop offset="0.221" stop-color="#0000e7"/><stop offset="0.322" stop-color="#0000cd"/><stop offset="0.426" stop-color="#0000a7"/><stop offset="0.429" stop-color="#00c8ff"/><stop offset="0.437" stop-color="#0094ff"/><stop offset="0.445" stop-color="#006eff"/><stop offset="0.464" stop-color="#0037ff"/><stop offset="0.489" stop-color="#0016ff"/><stop offset="0.524" stop-color="#0004ff"/><stop offset="0.579" stop-color="#0000ff"/><stop offset="0.666" stop-color="#0008ff"/><stop offset="1.000" stop-color="#0041ff"/></linearGradient><linearGradient id="f29"><stop offset="0.000" stop-color="#0000ff"/><stop offset="0.208" stop-color="#0000e5"/><stop offset="0.399" stop-color="#0000a7"/><stop offset="0.401" stop-color="#00d0ff"/><stop offset="0.407" stop-color="#00a7ff"/><stop offset="0.415" stop-color="#0079ff"/><stop offset="0.423" stop-color="#0057ff"/><stop offset="0.434" stop-color="#0037ff"/><stop offset="0.456" stop-color="#0014ff"/><stop offset="0.486" stop-color="#0000ff"/><stop offset="0.538" stop-color="#0000f8"/><stop offset="0.631" stop-color="#0000ff"/><stop offset="1.000" stop-color="#003fff"/></linearGradient><linearGradient id="f30"><stop offset="0.000" stop-color="#0000fe"/><stop offset="0.194" stop-color="#0000e4"/><stop offset="0.374" stop-color="#0000a7"/><stop offset="0.377" stop-color="#00c4ff"/><stop offset="0.382" stop-color="#009bff"/><stop offset="0.390" stop-color="#006cff"/><stop offset="0.404" stop-color="#003aff"/><stop offset="0.423" stop-color="#0014ff"/><stop offset="0.445" stop-color="#0000fe"/><stop offset="0.511" stop-color="#0000f1"/><stop offset="0.650" stop-color="#0000ff"/><stop offset="1.000" stop-color="#003dff"/></linearGradient><linearGradient id="f31"><stop offset="0.000" stop-color="#0000fc"/><stop offset="0.183" stop-color="#0000e1"/><stop offset="0.352" stop-color="#0000a5"/><stop offset="0.355" stop-color="#00a5ff"/><stop offset="0.366" stop-color="#0062ff"/><stop offset="0.377" stop-color="#0037ff"/><stop offset="0.393" stop-color="#0012ff"/><stop offset="0.410" stop-color="#0000fe"/><stop offset="0.440" stop-color="#0000ef"/><stop offset="0.481" stop-color="#0000eb"/><stop offset="0.664" stop-color="#0000ff"/><stop offset="1.000" stop-color="#003bff"/></linearGradient><linearGradient id="f32"><stop offset="0.000" stop-color="#0000fb"/><stop offset="0.169" stop-color="#0000df"/><stop offset="0.328" stop-color="#0000a5"/><stop offset="0.330" stop-color="#009eff"/><stop offset="0.339" stop-color="#0066ff"/><stop offset="0.350" stop-color="#0036ff"/><stop offset="0.363" stop-color="#0012ff"/><stop offset="0.377" stop-color="#0000fd"/><stop offset="0.407" stop-color="#0000ea"/><stop offset="0.453" stop-color="#0000e5"/><stop offset="0.674" stop-color="#0000ff"/><stop offset="1.000" stop-color="#003aff"/></linearGradient><linearGradient id="f33"><stop offset="0.000" stop-color="#0000f9"/><stop offset="0.156" stop-color="#0000dd"/><stop offset="0.303" stop-color="#0000a5"/><stop offset="0.306" stop-color="#0098ff"/><stop offset="0.314" stop-color="#005fff"/><stop offset="0.322" stop-color="#0038ff"/><stop offset="0.336" stop-color="#000fff"/><stop offset="0.347" stop-color="#0000fc"/><stop offset="0.377" stop-color="#0000e5"/><stop offset="0.426" stop-color="#0000df"/><stop offset="0.685" stop-color="#0000ff"/><stop offset="1.000" stop-color="#0038ff"/></linearGradient><linearGradient id="f34"><stop offset="0.000" stop-color="#0000f8"/><stop offset="0.142" stop-color="#0000db"/><stop offset="0.279" stop-color="#0000a5"/><stop offset="0.281" stop-color="#0095ff"/><stop offset="0.289" stop-color="#0059ff"/><stop offset="0.298" stop-color="#0030ff"/><stop offset="0.309" stop-color="#000dff"/><stop offset="0.317" stop-color="#0000fc"/><stop offset="0.347" stop-color="#0000e0"/><stop offset="0.393" stop-color="#0000d9"/><stop offset="0.694" stop-color="#0000ff"/><stop offset="1.000" stop-color="#0037ff"/></linearGradient><linearGradient id="f35"><stop offset="0.000" stop-color="#0000f5"/><stop offset="0.131" stop-color="#0000d8"/><stop offset="0.257" stop-color="#0000a4"/><stop offset="0.259" stop-color="#007dff"/><stop offset="0.270" stop-color="#0036ff"/><stop offset="0.279" stop-color="#0016ff"/><stop offset="0.287" stop-color="#0000ff"/><stop offset="0.300" stop-color="#0000e9"/><stop offset="0.317" stop-color="#0000dd"/><stop offset="0.366" stop-color="#0000d4"/><stop offset="0.702" stop-color="#0000ff"/><stop offset="1.000" stop-color="#0036ff"/></linearGradient><linearGradient id="f36"><stop offset="0.000" stop-color="#0000f3"/><stop offset="0.117" stop-color="#0000d6"/><stop offset="0.232" stop-color="#0000a4"/><stop offset="0.235" stop-color="#007eff"/><stop offset="0.240" stop-color="#0052ff"/><stop offset="0.246" stop-color="#0032ff"/><stop offset="0.259" stop-color="#0000ff"/><stop offset="0.270" stop-color="#0000ea"/><stop offset="0.287" stop-color="#0000da"/><stop offset="0.336" stop-color="#0000cf"/><stop offset="0.707" stop-color="#0000ff"/><stop offset="1.000" stop-color="#0035ff"/></linearGradient><linearGradient id="f37"><stop offset="0.000" stop-color="#0000ef"/><stop offset="0.106" stop-color="#0000d3"/><stop offset="0.210" stop-color="#0000a3"/><stop offset="0.213" stop-color="#0069ff"/><stop offset="0.218" stop-color="#003fff"/><stop offset="0.224" stop-color="#0021ff"/><stop offset="0.232" stop-color="#0002ff"/><stop offset="0.235" stop-color="#0000f9"/><stop offset="0.246" stop-color="#0000e4"/><stop offset="0.262" stop-color="#0000d4"/><stop offset="0.311" stop-color="#0000ca"/><stop offset="0.713" stop-color="#0000ff"/><stop offset="1.000" stop-color="#0034ff"/></linearGradient><linearGradient id="f38"><stop offset="0.000" stop-color="#0000ec"/><stop offset="0.096" stop-color="#0000cf"/><stop offset="0.186" stop-color="#0000a3"/><stop offset="0.188" stop-color="#006fff"/><stop offset="0.197" stop-color="#002eff"/><stop offset="0.202" stop-color="#0012ff"/><stop offset="0.208" stop-color="#0000fc"/><stop offset="0.218" stop-color="#0000e2"/><stop offset="0.235" stop-color="#0000d0"/><stop offset="0.281" stop-color="#0000c6"/><stop offset="0.718" stop-color="#0000ff"/><stop offset="1.000" stop-color="#0033ff"/></linearGradient><linearGradient id="f39"><stop offset="0.000" stop-color="#0000e7"/><stop offset="0.082" stop-color="#0000cc"/><stop offset="0.164" stop-color="#0000a3"/><stop offset="0.167" stop-color="#005dff"/><stop offset="0.175" stop-color="#001fff"/><stop offset="0.180" stop-color="#0004ff"/><stop offset="0.183" stop-color="#0000f9"/><stop offset="0.194" stop-color="#0000de"/><stop offset="0.208" stop-color="#0000cd"/><stop offset="0.257" stop-color="#0000c1"/><stop offset="0.721" stop-color="#0000ff"/><stop offset="1.000" stop-color="#0032ff"/></linearGradient><linearGradient id="f40"><stop offset="0.000" stop-color="#0000e2"/><stop offset="0.071" stop-color="#0000c8"/><stop offset="0.142" stop-color="#0000a2"/><stop offset="0.145" stop-color="#004dff"/><stop offset="0.153" stop-color="#0011ff"/><stop offset="0.156" stop-color="#0004ff"/><stop offset="0.158" stop-color="#0000f7"/><stop offset="0.169" stop-color="#0000da"/><stop offset="0.183" stop-color="#0000c8"/><stop offset="0.229" stop-color="#0000bd"/><stop offset="0.726" stop-color="#0000ff"/><stop offset="1.000" stop-color="#0031ff"/></linearGradient><linearGradient id="f41"><stop offset="0.000" stop-color="#0000dc"/><stop offset="0.120" stop-color="#0000a1"/><stop offset="0.123" stop-color="#003eff"/><stop offset="0.128" stop-color="#0014ff"/><stop offset="0.131" stop-color="#0005ff"/><stop offset="0.134" stop-color="#0000f7"/><stop offset="0.145" stop-color="#0000d6"/><stop offset="0.156" stop-color="#0000c7"/><stop offset="0.199" stop-color="#0000ba"/><stop offset="0.407" stop-color="#0000d0"/><stop offset="0.729" stop-color="#0000ff"/><stop offset="1.000" stop-color="#0030ff"/></linearGradient><linearGradient id="f42"><stop offset="0.000" stop-color="#0000d4"/><stop offset="0.098" stop-color="#0000a1"/><stop offset="0.101" stop-color="#0032ff"/><stop offset="0.106" stop-color="#0009ff"/><stop offset="0.109" stop-color="#0000f9"/><stop offset="0.117" stop-color="#0000da"/><stop offset="0.131" stop-color="#0000c3"/><stop offset="0.172" stop-color="#0000b6"/><stop offset="0.396" stop-color="#0000ce"/><stop offset="0.732" stop-color="#0000ff"/><stop offset="1.000" stop-color="#002fff"/></linearGradient><linearGradient id="f43"><stop offset="0.000" stop-color="#0000cc"/><stop offset="0.076" stop-color="#0000a0"/><stop offset="0.079" stop-color="#0028ff"/><stop offset="0.085" stop-color="#0000fe"/><stop offset="0.093" stop-color="#0000da"/><stop offset="0.106" stop-color="#0000c0"/><stop offset="0.147" stop-color="#0000b3"/><stop offset="0.393" stop-color="#0000cd"/><stop offset="0.735" stop-color="#0000ff"/><stop offset="1.000" stop-color="#002eff"/></linearGradient><linearGradient id="f44"><stop offset="0.000" stop-color="#0000c2"/><stop offset="0.055" stop-color="#0000a0"/><stop offset="0.057" stop-color="#001fff"/><stop offset="0.060" stop-color="#0008ff"/><stop offset="0.063" stop-color="#0000f5"/><stop offset="0.071" stop-color="#0000d2"/><stop offset="0.082" stop-color="#0000bd"/><stop offset="0.096" stop-color="#0000b3"/><stop offset="0.120" stop-color="#0000b0"/><stop offset="0.382" stop-color="#0000cc"/><stop offset="0.737" stop-color="#0000ff"/><stop offset="1.000" stop-color="#002eff"/></linearGradient><linearGradient id="f45"><stop offset="0.000" stop-color="#0000b6"/><stop offset="0.033" stop-color="#00009f"/><stop offset="0.035" stop-color="#0018ff"/><stop offset="0.038" stop-color="#0000ff"/><stop offset="0.046" stop-color="#0000d4"/><stop offset="0.057" stop-color="#0000bb"/><stop offset="0.071" stop-color="#0000b0"/><stop offset="0.096" stop-color="#0000ad"/><stop offset="0.374" stop-color="#0000cb"/><stop offset="0.740" stop-color="#0000ff"/><stop offset="1.000" stop-color="#002dff"/></linearGradient><linearGradient id="f46"><stop offset="0.000" stop-color="#0000a7"/><stop offset="0.011" stop-color="#00009f"/><stop offset="0.014" stop-color="#0013ff"/><stop offset="0.016" stop-color="#0000f9"/><stop offset="0.025" stop-color="#0000cd"/><stop offset="0.033" stop-color="#0000ba"/><stop offset="0.046" stop-color="#0000ae"/><stop offset="0.071" stop-color="#0000aa"/><stop offset="0.363" stop-color="#0000c9"/><stop offset="0.740" stop-color="#0000ff"/><stop offset="1.000" stop-color="#002cff"/></linearGradient><linearGradient id="f47"><stop offset="0.000" stop-color="#0000d2"/><stop offset="0.008" stop-color="#0000b9"/><stop offset="0.016" stop-color="#0000af"/><stop offset="0.055" stop-color="#0000a8"/><stop offset="0.366" stop-color="#0000ca"/><stop offset="0.740" stop-color="#0000ff"/><stop offset="1.000" stop-color="#002dff"/></linearGradient><linearGradient id="f48"><stop offset="0.000" stop-color="#0000a1"/><stop offset="0.003" stop-color="#00009f"/><stop offset="0.005" stop-color="#000dff"/><stop offset="0.008" stop-color="#0000f6"/><stop offset="0.016" stop-color="#0000cd"/><stop offset="0.025" stop-color="#0000ba"/><stop offset="0.041" stop-color="#0000ad"/><stop offset="0.066" stop-color="#0000aa"/><stop offset="0.360" stop-color="#0000c9"/><stop offset="0.737" stop-color="#0000ff"/><stop offset="1.000" stop-color="#002dff"/></linearGradient><linearGradient id="f49"><stop offset="0.000" stop-color="#0000b0"/><stop offset="0.025" stop-color="#0000a0"/><stop offset="0.027" stop-color="#0027ff"/><stop offset="0.030" stop-color="#000dff"/><stop offset="0.033" stop-color="#0000f8"/><stop offset="0.041" stop-color="#0000d2"/><stop offset="0.052" stop-color="#0000bb"/><stop offset="0.068" stop-color="#0000b0"/><stop offset="0.093" stop-color="#0000ad"/><stop offset="0.371" stop-color="#0000ca"/><stop offset="0.737" stop-color="#0000ff"/><stop offset="1.000" stop-color="#002eff"/></linearGradient><linearGradient id="f50"><stop offset="0.000" stop-color="#0000bd"/><stop offset="0.049" stop-color="#0000a0"/><stop offset="0.052" stop-color="#0027ff"/><stop offset="0.057" stop-color="#0000fc"/><stop offset="0.066" stop-color="#0000d8"/><stop offset="0.079" stop-color="#0000bd"/><stop offset="0.096" stop-color="#0000b3"/><stop offset="0.120" stop-color="#0000b0"/><stop offset="0.380" stop-color="#0000cc"/><stop offset="0.735" stop-color="#0000ff"/><stop offset="1.000" stop-color="#002eff"/></linearGradient><linearGradient id="f51"><stop offset="0.000" stop-color="#0000c8"/><stop offset="0.074" stop-color="#0000a0"/><stop offset="0.076" stop-color="#002aff"/><stop offset="0.082" stop-color="#0003ff"/><stop offset="0.085" stop-color="#0000f3"/><stop offset="0.093" stop-color="#0000d6"/><stop offset="0.106" stop-color="#0000c0"/><stop offset="0.150" stop-color="#0000b3"/><stop offset="0.390" stop-color="#0000cd"/><stop offset="0.732" stop-color="#0000ff"/><stop offset="1.000" stop-color="#002fff"/></linearGradient><linearGradient id="f52"><stop offset="0.000" stop-color="#0000d1"/><stop offset="0.096" stop-color="#0000a2"/><stop offset="0.098" stop-color="#0047ff"/><stop offset="0.104" stop-color="#001aff"/><stop offset="0.109" stop-color="#0000fa"/><stop offset="0.120" stop-color="#0000d7"/><stop offset="0.131" stop-color="#0000c6"/><stop offset="0.150" stop-color="#0000ba"/><stop offset="0.177" stop-color="#0000b7"/><stop offset="0.396" stop-color="#0000ce"/><stop offset="0.726" stop-color="#0000ff"/><stop offset="1.000" stop-color="#0030ff"/></linearGradient><linearGradient id="f53"><stop offset="0.000" stop-color="#0000d9"/><stop offset="0.120" stop-color="#0000a2"/><stop offset="0.123" stop-color="#004dff"/><stop offset="0.131" stop-color="#0011ff"/><stop offset="0.134" stop-color="#0003ff"/><stop offset="0.137" stop-color="#0000f7"/><stop offset="0.147" stop-color="#0000d9"/><stop offset="0.161" stop-color="#0000c7"/><stop offset="0.208" stop-color="#0000bb"/><stop offset="0.407" stop-color="#0000d0"/><stop offset="0.724" stop-color="#0000ff"/><stop offset="1.000" stop-color="#0031ff"/></linearGradient><linearGradient id="f54"><stop offset="0.000" stop-color="#0000e0"/><stop offset="0.145" stop-color="#0000a2"/><stop offset="0.147" stop-color="#0054ff"/><stop offset="0.156" stop-color="#001aff"/><stop offset="0.161" stop-color="#0001ff"/><stop offset="0.164" stop-color="#0000f6"/><stop offset="0.175" stop-color="#0000db"/><stop offset="0.188" stop-color="#0000cb"/><stop offset="0.238" stop-color="#0000bf"/><stop offset="0.721" stop-color="#0000ff"/><stop offset="1.000" stop-color="#0032ff"/></linearGradient><linearGradient id="f55"><stop offset="0.000" stop-color="#0000e5"/><stop offset="0.085" stop-color="#0000ca"/><stop offset="0.169" stop-color="#0000a2"/><stop offset="0.172" stop-color="#005dff"/><stop offset="0.177" stop-color="#0034ff"/><stop offset="0.183" stop-color="#0016ff"/><stop offset="0.188" stop-color="#0000ff"/><stop offset="0.191" stop-color="#0000f7"/><stop offset="0.202" stop-color="#0000df"/><stop offset="0.218" stop-color="#0000ce"/><stop offset="0.268" stop-color="#0000c4"/><stop offset="0.715" stop-color="#0000ff"/><stop offset="1.000" stop-color="#0033ff"/></linearGradient><linearGradient id="f56"><stop offset="0.000" stop-color="#0000ea"/><stop offset="0.098" stop-color="#0000ce"/><stop offset="0.194" stop-color="#0000a3"/><stop offset="0.197" stop-color="#0067ff"/><stop offset="0.202" stop-color="#003fff"/><stop offset="0.208" stop-color="#0021ff"/><stop offset="0.216" stop-color="#0002ff"/><stop offset="0.218" stop-color="#0000f9"/><stop offset="0.229" stop-color="#0000e3"/><stop offset="0.246" stop-color="#0000d3"/><stop offset="0.298" stop-color="#0000c8"/><stop offset="0.710" stop-color="#0000ff"/><stop offset="1.000" stop-color="#0034ff"/></linearGradient><linearGradient id="f57"><stop offset="0.000" stop-color="#0000ee"/><stop offset="0.112" stop-color="#0000d1"/><stop offset="0.218" stop-color="#0000a3"/><stop offset="0.221" stop-color="#0074ff"/><stop offset="0.227" stop-color="#004bff"/><stop offset="0.232" stop-color="#002dff"/><stop offset="0.240" stop-color="#000dff"/><stop offset="0.246" stop-color="#0000fd"/><stop offset="0.259" stop-color="#0000e5"/><stop offset="0.276" stop-color="#0000d7"/><stop offset="0.325" stop-color="#0000cd"/><stop offset="0.705" stop-color="#0000ff"/><stop offset="1.000" stop-color="#0035ff"/></linearGradient><linearGradient id="f58"><stop offset="0.000" stop-color="#0000f1"/><stop offset="0.123" stop-color="#0000d5"/><stop offset="0.243" stop-color="#0000a4"/><stop offset="0.246" stop-color="#0081ff"/><stop offset="0.251" stop-color="#0059ff"/><stop offset="0.259" stop-color="#002eff"/><stop offset="0.268" stop-color="#0010ff"/><stop offset="0.276" stop-color="#0000fc"/><stop offset="0.289" stop-color="#0000e8"/><stop offset="0.306" stop-color="#0000db"/><stop offset="0.355" stop-color="#0000d3"/><stop offset="0.699" stop-color="#0000ff"/><stop offset="1.000" stop-color="#0036ff"/></linearGradient><linearGradient id="f59"><stop offset="0.000" stop-color="#0000f4"/><stop offset="0.137" stop-color="#0000d7"/><stop offset="0.268" stop-color="#0000a5"/><stop offset="0.270" stop-color="#0091ff"/><stop offset="0.279" stop-color="#0057ff"/><stop offset="0.287" stop-color="#0030ff"/><stop offset="0.298" stop-color="#000eff"/><stop offset="0.306" stop-color="#0000fc"/><stop offset="0.336" stop-color="#0000e0"/><stop offset="0.385" stop-color="#0000d8"/><stop offset="0.691" stop-color="#0000ff"/><stop offset="1.000" stop-color="#0037ff"/></linearGradient><linearGradient id="f60"><stop offset="0.000" stop-color="#0000f7"/><stop offset="0.150" stop-color="#0000da"/><stop offset="0.295" stop-color="#0000a4"/><stop offset="0.298" stop-color="#008bff"/><stop offset="0.306" stop-color="#0058ff"/><stop offset="0.314" stop-color="#0034ff"/><stop offset="0.325" stop-color="#0014ff"/><stop offset="0.336" stop-color="#0000ff"/><stop offset="0.366" stop-color="#0000e6"/><stop offset="0.415" stop-color="#0000de"/><stop offset="0.683" stop-color="#0000ff"/><stop offset="1.000" stop-color="#0039ff"/></linearGradient><linearGradient id="f61"><stop offset="0.000" stop-color="#0000f9"/><stop offset="0.164" stop-color="#0000dc"/><stop offset="0.319" stop-color="#0000a5"/><stop offset="0.322" stop-color="#009dff"/><stop offset="0.330" stop-color="#0068ff"/><stop offset="0.341" stop-color="#0039ff"/><stop offset="0.355" stop-color="#0015ff"/><stop offset="0.369" stop-color="#0000ff"/><stop offset="0.399" stop-color="#0000eb"/><stop offset="0.445" stop-color="#0000e4"/><stop offset="0.672" stop-color="#0000ff"/><stop offset="1.000" stop-color="#003aff"/></linearGradient><linearGradient id="f62"><stop offset="0.000" stop-color="#0000fa"/><stop offset="0.177" stop-color="#0000df"/><stop offset="0.344" stop-color="#0000a6"/><stop offset="0.347" stop-color="#00b1ff"/><stop offset="0.358" stop-color="#006bff"/><stop offset="0.371" stop-color="#0036ff"/><stop offset="0.385" stop-color="#0017ff"/><stop offset="0.404" stop-color="#0000ff"/><stop offset="0.434" stop-color="#0000ef"/><stop offset="0.478" stop-color="#0000eb"/><stop offset="0.661" stop-color="#0000ff"/><stop offset="1.000" stop-color="#003cff"/></linearGradient><linearGradient id="f63"><stop offset="0.000" stop-color="#0000fc"/><stop offset="0.191" stop-color="#0000e1"/><stop offset="0.371" stop-color="#0000a6"/><stop offset="0.374" stop-color="#00b1ff"/><stop offset="0.388" stop-color="#0064ff"/><stop offset="0.401" stop-color="#0036ff"/><stop offset="0.421" stop-color="#0013ff"/><stop offset="0.442" stop-color="#0000ff"/><stop offset="0.508" stop-color="#0000f2"/><stop offset="0.644" stop-color="#0000ff"/><stop offset="1.000" stop-color="#003dff"/></linearGradient><linearGradient id="f64"><stop offset="0.000" stop-color="#0000fd"/><stop offset="0.205" stop-color="#0000e3"/><stop offset="0.396" stop-color="#0000a7"/><stop offset="0.399" stop-color="#00c8ff"/><stop offset="0.404" stop-color="#00a2ff"/><stop offset="0.412" stop-color="#0077ff"/><stop offset="0.421" stop-color="#0057ff"/><stop offset="0.431" stop-color="#0038ff"/><stop offset="0.453" stop-color="#0015ff"/><stop offset="0.486" stop-color="#0000ff"/><stop offset="0.538" stop-color="#0000f9"/><stop offset="0.628" stop-color="#0001ff"/><stop offset="1.000" stop-color="#003fff"/></linearGradient><linearGradient id="f65"><stop offset="0.000" stop-color="#0000fe"/><stop offset="0.218" stop-color="#0000e5"/><stop offset="0.423" stop-color="#0000a7"/><stop offset="0.426" stop-color="#00cbff"/><stop offset="0.434" stop-color="#0099ff"/><stop offset="0.442" stop-color="#0073ff"/><stop offset="0.461" stop-color="#003cff"/><stop offset="0.489" stop-color="#0017ff"/><stop offset="0.524" stop-color="#0005ff"/><stop offset="0.576" stop-color="#0001ff"/><stop offset="0.664" stop-color="#0008ff"/><stop offset="1.000" stop-color="#0041ff"/></linearGradient><linearGradient id="f66"><stop offset="0.000" stop-color="#0000ff"/><stop offset="0.232" stop-color="#0000e6"/><stop offset="0.339" stop-color="#0000cd"/><stop offset="0.448" stop-color="#0000a8"/><stop offset="0.451" stop-color="#00e5ff"/><stop offset="0.459" stop-color="#00afff"/><stop offset="0.467" stop-color="#0087ff"/><stop offset="0.486" stop-color="#004bff"/><stop offset="0.513" stop-color="#0022ff"/><stop offset="0.549" stop-color="#000eff"/><stop offset="0.601" stop-color="#0008ff"/><stop offset="0.680" stop-color="#000eff"/><stop offset="1.000" stop-color="#0043ff"/></linearGradient><linearGradient id="f67"><stop offset="0.000" stop-color="#0001ff"/><stop offset="0.123" stop-color="#0000f9"/><stop offset="0.243" stop-color="#0000e9"/><stop offset="0.358" stop-color="#0000ce"/><stop offset="0.475" stop-color="#0000a8"/><stop offset="0.478" stop-color="#00ebff"/><stop offset="0.486" stop-color="#00b8ff"/><stop offset="0.494" stop-color="#0091ff"/><stop offset="0.505" stop-color="#006bff"/><stop offset="0.516" stop-color="#0050ff"/><stop offset="0.541" stop-color="#002cff"/><stop offset="0.576" stop-color="#0017ff"/><stop offset="0.625" stop-color="#0010ff"/><stop offset="0.702" stop-color="#0015ff"/><stop offset="1.000" stop-color="#0045ff"/></linearGradient><linearGradient id="f68"><stop offset="0.000" stop-color="#0002ff"/><stop offset="0.126" stop-color="#0000fa"/><stop offset="0.257" stop-color="#0000ea"/><stop offset="0.380" stop-color="#0000cf"/><stop offset="0.502" stop-color="#0000a9"/><stop offset="0.505" stop-color="#00f4ff"/><stop offset="0.513" stop-color="#00c3ff"/><stop offset="0.522" stop-color="#009cff"/><stop offset="0.532" stop-color="#0076ff"/><stop offset="0.543" stop-color="#005bff"/><stop offset="0.568" stop-color="#0037ff"/><stop offset="0.603" stop-color="#0020ff"/><stop offset="0.650" stop-color="#0018ff"/><stop offset="0.721" stop-color="#001bff"/><stop offset="1.000" stop-color="#0048ff"/></linearGradient><linearGradient id="f69"><stop offset="0.000" stop-color="#0002ff"/><stop offset="0.128" stop-color="#0000fc"/><stop offset="0.270" stop-color="#0000ec"/><stop offset="0.399" stop-color="#0000d1"/><stop offset="0.530" stop-color="#0000a9"/><stop offset="0.532" stop-color="#00ffff"/><stop offset="0.541" stop-color="#00ceff"/><stop offset="0.549" stop-color="#00a9ff"/><stop offset="0.560" stop-color="#0083ff"/><stop offset="0.571" stop-color="#0067ff"/><stop offset="0.595" stop-color="#0041ff"/><stop offset="0.631" stop-color="#0029ff"/><stop offset="0.677" stop-color="#0021ff"/><stop offset="0.743" stop-color="#0023ff"/><stop offset="1.000" stop-color="#004aff"/></linearGradient><linearGradient id="f70"><stop offset="0.000" stop-color="#0003ff"/><stop offset="0.134" stop-color="#0000fd"/><stop offset="0.284" stop-color="#0000ed"/><stop offset="0.421" stop-color="#0000d2"/><stop offset="0.557" stop-color="#0000aa"/><stop offset="0.560" stop-color="#0cfff3"/><stop offset="0.563" stop-color="#00faff"/><stop offset="0.571" stop-color="#00ceff"/><stop offset="0.582" stop-color="#00a1ff"/><stop offset="0.601" stop-color="#006eff"/><stop offset="0.625" stop-color="#004aff"/><stop offset="0.658" stop-color="#0033ff"/><stop offset="0.702" stop-color="#0029ff"/><stop offset="0.765" stop-color="#002aff"/><stop offset="1.000" stop-color="#004dff"/></linearGradient><linearGradient id="f71"><stop offset="0.000" stop-color="#0003ff"/><stop offset="0.139" stop-color="#0000fe"/><stop offset="0.298" stop-color="#0000ee"/><stop offset="0.440" stop-color="#0000d3"/><stop offset="0.584" stop-color="#0000aa"/><stop offset="0.587" stop-color="#1affe5"/><stop offset="0.593" stop-color="#00f8ff"/><stop offset="0.609" stop-color="#00afff"/><stop offset="0.631" stop-color="#0076ff"/><stop offset="0.655" stop-color="#0052ff"/><stop offset="0.688" stop-color="#003cff"/><stop offset="0.729" stop-color="#0032ff"/><stop offset="0.789" stop-color="#0032ff"/><stop offset="1.000" stop-color="#0050ff"/></linearGradient><linearGradient id="f72"><stop offset="0.000" stop-color="#0003ff"/><stop offset="0.145" stop-color="#0000ff"/><stop offset="0.311" stop-color="#0000f0"/><stop offset="0.459" stop-color="#0000d5"/><stop offset="0.612" stop-color="#0000ab"/><stop offset="0.614" stop-color="#29ffd6"/><stop offset="0.620" stop-color="#09fff6"/><stop offset="0.623" stop-color="#00f9ff"/><stop offset="0.639" stop-color="#00b5ff"/><stop offset="0.661" stop-color="#007eff"/><stop offset="0.685" stop-color="#005cff"/><stop offset="0.715" stop-color="#0047ff"/><stop offset="0.756" stop-color="#003cff"/><stop offset="0.811" stop-color="#003aff"/><stop offset="1.000" stop-color="#0053ff"/></linearGradient><linearGradient id="f73"><stop offset="0.000" stop-color="#0004ff"/><stop offset="0.167" stop-color="#0000ff"/><stop offset="0.325" stop-color="#0000f1"/><stop offset="0.481" stop-color="#0000d6"/><stop offset="0.639" stop-color="#0000ac"/><stop offset="0.642" stop-color="#3affc5"/><stop offset="0.653" stop-color="#00fcff"/><stop offset="0.669" stop-color="#00bcff"/><stop offset="0.691" stop-color="#0087ff"/><stop offset="0.715" stop-color="#0065ff"/><stop offset="0.745" stop-color="#0050ff"/><stop offset="0.784" stop-color="#0045ff"/><stop offset="0.833" stop-color="#0043ff"/><stop offset="1.000" stop-color="#0056ff"/></linearGradient><linearGradient id="f74"><stop offset="0.000" stop-color="#0004ff"/><stop offset="0.188" stop-color="#0000ff"/><stop offset="0.339" stop-color="#0000f2"/><stop offset="0.500" stop-color="#0000d7"/><stop offset="0.666" stop-color="#0000ac"/><stop offset="0.669" stop-color="#4dffb2"/><stop offset="0.683" stop-color="#03fffc"/><stop offset="0.685" stop-color="#00f6ff"/><stop offset="0.702" stop-color="#00bcff"/><stop offset="0.721" stop-color="#0091ff"/><stop offset="0.745" stop-color="#0070ff"/><stop offset="0.773" stop-color="#005cff"/><stop offset="0.808" stop-color="#0050ff"/><stop offset="0.855" stop-color="#004cff"/><stop offset="1.000" stop-color="#005aff"/></linearGradient><linearGradient id="f75"><stop offset="0.000" stop-color="#0004ff"/><stop offset="0.213" stop-color="#0000ff"/><stop offset="0.355" stop-color="#0000f3"/><stop offset="0.522" stop-color="#0000d8"/><stop offset="0.696" stop-color="#0000ad"/><stop offset="0.699" stop-color="#50ffaf"/><stop offset="0.707" stop-color="#23ffdc"/><stop offset="0.715" stop-color="#00fdff"/><stop offset="0.732" stop-color="#00c6ff"/><stop offset="0.751" stop-color="#009bff"/><stop offset="0.776" stop-color="#007aff"/><stop offset="0.803" stop-color="#0066ff"/><stop offset="0.877" stop-color="#0055ff"/><stop offset="1.000" stop-color="#005fff"/></linearGradient><linearGradient id="f76"><stop offset="0.000" stop-color="#0004ff"/><stop offset="0.235" stop-color="#0000ff"/><stop offset="0.369" stop-color="#0000f4"/><stop offset="0.543" stop-color="#0000d9"/><stop offset="0.724" stop-color="#0000ad"/><stop offset="0.726" stop-color="#66ff99"/><stop offset="0.737" stop-color="#2bffd4"/><stop offset="0.748" stop-color="#00fcff"/><stop offset="0.765" stop-color="#00c9ff"/><stop offset="0.784" stop-color="#00a2ff"/><stop offset="0.806" stop-color="#0085ff"/><stop offset="0.830" stop-color="#0072ff"/><stop offset="0.907" stop-color="#005fff"/><stop offset="0.972" stop-color="#0062ff"/><stop offset="1.000" stop-color="#006bff"/></linearGradient><linearGradient id="f77"><stop offset="0.000" stop-color="#0004ff"/><stop offset="0.259" stop-color="#0000ff"/><stop offset="0.385" stop-color="#0000f5"/><stop offset="0.565" stop-color="#0000da"/><stop offset="0.754" stop-color="#0000ae"/><stop offset="0.756" stop-color="#6dff92"/><stop offset="0.770" stop-color="#28ffd7"/><stop offset="0.781" stop-color="#00fdff"/><stop offset="0.800" stop-color="#00c8ff"/><stop offset="0.822" stop-color="#00a1ff"/><stop offset="0.847" stop-color="#0087ff"/><stop offset="0.877" stop-color="#0075ff"/><stop offset="0.915" stop-color="#006bff"/><stop offset="0.945" stop-color="#006dff"/><stop offset="0.991" stop-color="#0090ff"/><stop offset="0.994" stop-color="#00a4ff"/><stop offset="1.000" stop-color="#00a2ff"/></linearGradient><linearGradient id="f78"><stop offset="0.000" stop-color="#0004ff"/><stop offset="0.281" stop-color="#0000ff"/><stop offset="0.401" stop-color="#0000f6"/><stop offset="0.587" stop-color="#0000db"/><stop offset="0.784" stop-color="#0000ae"/><stop offset="0.786" stop-color="#76ff89"/><stop offset="0.800" stop-color="#33ffcc"/><stop offset="0.814" stop-color="#01fffe"/><stop offset="0.844" stop-color="#00baff"/><stop offset="0.882" stop-color="#008fff"/><stop offset="0.912" stop-color="#0089ff"/><stop offset="0.942" stop-color="#0096ff"/><stop offset="0.945" stop-color="#00a6ff"/><stop offset="1.000" stop-color="#0085ff"/></linearGradient><linearGradient id="f79"><stop offset="0.000" stop-color="#0005ff"/><stop offset="0.306" stop-color="#0000ff"/><stop offset="0.415" stop-color="#0000f7"/><stop offset="0.606" stop-color="#0000dc"/><stop offset="0.811" stop-color="#0000af"/><stop offset="0.814" stop-color="#91ff6e"/><stop offset="0.830" stop-color="#40ffbf"/><stop offset="0.849" stop-color="#00fdff"/><stop offset="0.868" stop-color="#00d1ff"/><stop offset="0.890" stop-color="#00b1ff"/><stop offset="0.950" stop-color="#0093ff"/><stop offset="1.000" stop-color="#008bff"/></linearGradient><linearGradient id="f80"><stop offset="0.000" stop-color="#0005ff"/><stop offset="0.396" stop-color="#0000fb"/><stop offset="0.573" stop-color="#0000e6"/><stop offset="0.781" stop-color="#0000c0"/><stop offset="0.803" stop-color="#0000ca"/><stop offset="0.836" stop-color="#0000fe"/><stop offset="0.841" stop-color="#0002ff"/><stop offset="0.844" stop-color="#9eff61"/><stop offset="0.863" stop-color="#43ffbc"/><stop offset="0.885" stop-color="#00fdff"/><stop offset="0.907" stop-color="#00d1ff"/><stop offset="0.931" stop-color="#00b2ff"/><stop offset="1.000" stop-color="#0097ff"/></linearGradient><linearGradient id="f81"><stop offset="0.000" stop-color="#0005ff"/><stop offset="0.371" stop-color="#0000fe"/><stop offset="0.538" stop-color="#0000ee"/><stop offset="0.729" stop-color="#0000d1"/><stop offset="0.751" stop-color="#0000da"/><stop offset="0.773" stop-color="#0000fd"/><stop offset="0.792" stop-color="#0015ff"/><stop offset="0.795" stop-color="#003dff"/><stop offset="0.806" stop-color="#0031ff"/><stop offset="0.827" stop-color="#0000ff"/><stop offset="0.847" stop-color="#0000e5"/><stop offset="0.871" stop-color="#0000d9"/><stop offset="0.874" stop-color="#acff53"/><stop offset="0.885" stop-color="#75ff8a"/><stop offset="0.896" stop-color="#48ffb7"/><stop offset="0.920" stop-color="#01fffe"/><stop offset="0.939" stop-color="#00dbff"/><stop offset="0.958" stop-color="#00c2ff"/><stop offset="1.000" stop-color="#00a7ff"/></linearGradient><linearGradient id="f82"><stop offset="0.000" stop-color="#0005ff"/><stop offset="0.380" stop-color="#0000ff"/><stop offset="0.677" stop-color="#0000df"/><stop offset="0.699" stop-color="#0000e7"/><stop offset="0.715" stop-color="#0000fe"/><stop offset="0.732" stop-color="#001dff"/><stop offset="0.743" stop-color="#0025ff"/><stop offset="0.745" stop-color="#004dff"/><stop offset="0.756" stop-color="#0040ff"/><stop offset="0.778" stop-color="#0010ff"/><stop offset="0.789" stop-color="#0000fe"/><stop offset="0.814" stop-color="#0000ee"/><stop offset="0.901" stop-color="#0000da"/><stop offset="0.904" stop-color="#bdff42"/><stop offset="0.915" stop-color="#86ff79"/><stop offset="0.928" stop-color="#4fffb0"/><stop offset="0.956" stop-color="#05fffa"/><stop offset="1.000" stop-color="#00c5ff"/></linearGradient><linearGradient id="f83"><stop offset="0.000" stop-color="#0005ff"/><stop offset="0.404" stop-color="#0000ff"/><stop offset="0.625" stop-color="#0000eb"/><stop offset="0.644" stop-color="#0000ef"/><stop offset="0.658" stop-color="#0000fe"/><stop offset="0.683" stop-color="#002bff"/><stop offset="0.694" stop-color="#0032ff"/><stop offset="0.696" stop-color="#005aff"/><stop offset="0.707" stop-color="#004cff"/><stop offset="0.735" stop-color="#0014ff"/><stop offset="0.756" stop-color="#0001ff"/><stop offset="0.931" stop-color="#0000db"/><stop offset="0.934" stop-color="#cfff30"/><stop offset="0.948" stop-color="#8cff73"/><stop offset="0.964" stop-color="#4fffb0"/><stop offset="0.986" stop-color="#16ffe9"/><stop offset="1.000" stop-color="#00faff"/></linearGradient><linearGradient id="f84"><stop offset="0.000" stop-color="#0005ff"/><stop offset="0.429" stop-color="#0000ff"/><stop offset="0.573" stop-color="#0000f4"/><stop offset="0.601" stop-color="#0000fe"/><stop offset="0.631" stop-color="#0033ff"/><stop offset="0.642" stop-color="#003dff"/><stop offset="0.644" stop-color="#0063ff"/><stop offset="0.655" stop-color="#0059ff"/><stop offset="0.685" stop-color="#001fff"/><stop offset="0.710" stop-color="#000dff"/><stop offset="0.781" stop-color="#0000ff"/><stop offset="0.964" stop-color="#0000db"/><stop offset="0.967" stop-color="#d4ff2b"/><stop offset="0.983" stop-color="#89ff76"/><stop offset="1.000" stop-color="#50ffaf"/></linearGradient><linearGradient id="f85"><stop offset="0.000" stop-color="#0005ff"/><stop offset="0.543" stop-color="#0000ff"/><stop offset="0.560" stop-color="#0012ff"/><stop offset="0.582" stop-color="#003dff"/><stop offset="0.593" stop-color="#0046ff"/><stop offset="0.595" stop-color="#0067ff"/><stop offset="0.606" stop-color="#005cff"/><stop offset="0.636" stop-color="#0023ff"/><stop offset="0.658" stop-color="#0016ff"/><stop offset="0.811" stop-color="#0000ff"/><stop offset="0.994" stop-color="#0000dc"/><stop offset="0.997" stop-color="#ebff14"/><stop offset="1.000" stop-color="#daff25"/></linearGradient><linearGradient id="f86"><stop offset="0.000" stop-color="#0005ff"/><stop offset="0.483" stop-color="#0002ff"/><stop offset="0.505" stop-color="#000eff"/><stop offset="0.532" stop-color="#003cff"/><stop offset="0.543" stop-color="#0046ff"/><stop offset="0.546" stop-color="#0062ff"/><stop offset="0.557" stop-color="#005aff"/><stop offset="0.587" stop-color="#0026ff"/><stop offset="0.609" stop-color="#0019ff"/><stop offset="0.683" stop-color="#0016ff"/><stop offset="0.838" stop-color="#0000ff"/><stop offset="1.000" stop-color="#0000e1"/></linearGradient><linearGradient id="f87"><stop offset="0.000" stop-color="#0005ff"/><stop offset="0.434" stop-color="#0005ff"/><stop offset="0.461" stop-color="#0016ff"/><stop offset="0.492" stop-color="#003eff"/><stop offset="0.494" stop-color="#0056ff"/><stop offset="0.497" stop-color="#0056ff"/><stop offset="0.508" stop-color="#004fff"/><stop offset="0.538" stop-color="#0025ff"/><stop offset="0.557" stop-color="#001bff"/><stop offset="0.683" stop-color="#001aff"/><stop offset="0.868" stop-color="#0000ff"/><stop offset="1.000" stop-color="#0000e8"/></linearGradient><linearGradient id="f88"><stop offset="0.000" stop-color="#0005ff"/><stop offset="0.388" stop-color="#0008ff"/><stop offset="0.407" stop-color="#0010ff"/><stop offset="0.442" stop-color="#0035ff"/><stop offset="0.445" stop-color="#0049ff"/><stop offset="0.448" stop-color="#0049ff"/><stop offset="0.486" stop-color="#0024ff"/><stop offset="0.508" stop-color="#001bff"/><stop offset="0.683" stop-color="#001cff"/><stop offset="0.898" stop-color="#0000ff"/><stop offset="1.000" stop-color="#0000ee"/></linearGradient><linearGradient id="f89"><stop offset="0.000" stop-color="#0005ff"/><stop offset="0.339" stop-color="#0009ff"/><stop offset="0.358" stop-color="#000fff"/><stop offset="0.393" stop-color="#002cff"/><stop offset="0.396" stop-color="#003aff"/><stop offset="0.399" stop-color="#003aff"/><stop offset="0.456" stop-color="#001aff"/><stop offset="0.683" stop-color="#001fff"/><stop offset="0.931" stop-color="#0000ff"/><stop offset="1.000" stop-color="#0000f4"/></linearGradient><linearGradient id="f90"><stop offset="0.000" stop-color="#0005ff"/><stop offset="0.300" stop-color="#0009ff"/><stop offset="0.325" stop-color="#0011ff"/><stop offset="0.352" stop-color="#0023ff"/><stop offset="0.355" stop-color="#002eff"/><stop offset="0.360" stop-color="#002eff"/><stop offset="0.415" stop-color="#0018ff"/><stop offset="0.683" stop-color="#0021ff"/><stop offset="0.956" stop-color="#0000ff"/><stop offset="1.000" stop-color="#0000f8"/></linearGradient><clipPath id="fclip"><rect x="475.2" y="269.2" width="183.1" height="181.2"/></clipPath><linearGradient id="jet" x1="0" x2="0" y1="0" y2="1"><stop offset="0" stop-color="#800000"/><stop offset="0.12" stop-color="#ff0000"/><stop offset="0.37" stop-color="#ffff00"/><stop offset="0.62" stop-color="#00ffff"/><stop offset="0.87" stop-color="#0000ff"/><stop offset="1" stop-color="#000080"/></linearGradient></defs>
<text x="-0.60" y="16.20" font-size="18" font-weight="bold">a</text>
<text x="216.40" y="16.40" font-size="19" font-weight="bold">b</text>
<text x="447.00" y="15.80" font-size="19" font-weight="bold">c</text>
<text x="-1.00" y="248.00" font-size="19" font-weight="bold">d</text>
<text x="216.60" y="248.40" font-size="19" font-weight="bold">e</text>
<text x="446.50" y="248.30" font-size="19" font-weight="bold">f</text>
<text x="62.60" y="18.20" font-size="12.8" font-weight="bold" textLength="76.40" lengthAdjust="spacingAndGlyphs">PC-QD System</text>
<text x="34.00" y="249.50" font-size="12.6" font-weight="bold" textLength="150.10" lengthAdjust="spacingAndGlyphs">Purcell Enhancement Factor</text>
<text x="253.80" y="250.10" font-size="12.6" font-weight="bold" textLength="152.40" lengthAdjust="spacingAndGlyphs">Emission Angle Distrubution</text>
<text x="519.80" y="250.00" font-size="12.6" font-weight="bold" textLength="92.20" lengthAdjust="spacingAndGlyphs">PC Band-diagram</text>
<g filter="url(#nz)">
<rect x="8.5" y="56" width="192.8" height="138.6" fill="#8a8a8a"/>
<rect x="20.90" y="56" width="5.80" height="138.6" fill="#464646"/>
<rect x="38.40" y="56" width="5.80" height="138.6" fill="#464646"/>
<rect x="55.90" y="56" width="5.80" height="138.6" fill="#464646"/>
<rect x="73.40" y="56" width="5.80" height="138.6" fill="#464646"/>
<rect x="90.90" y="56" width="5.80" height="138.6" fill="#464646"/>
<rect x="108.40" y="56" width="5.80" height="138.6" fill="#464646"/>
<rect x="125.90" y="56" width="5.80" height="138.6" fill="#464646"/>
<rect x="143.40" y="56" width="5.80" height="138.6" fill="#464646"/>
<rect x="160.90" y="56" width="5.80" height="138.6" fill="#464646"/>
<rect x="178.40" y="56" width="5.80" height="138.6" fill="#464646"/>
<rect x="195.90" y="56" width="5.40" height="138.6" fill="#464646"/>
<path d="M20.40 56 V194.6 M27.20 56 V194.6 M37.90 56 V194.6 M44.70 56 V194.6 M55.40 56 V194.6 M62.20 56 V194.6 M72.90 56 V194.6 M79.70 56 V194.6 M90.40 56 V194.6 M97.20 56 V194.6 M107.90 56 V194.6 M114.70 56 V194.6 M125.40 56 V194.6 M132.20 56 V194.6 M142.90 56 V194.6 M149.70 56 V194.6 M160.40 56 V194.6 M167.20 56 V194.6 M177.90 56 V194.6 M184.70 56 V194.6 M195.40 56 V194.6" stroke="#c4c4c4" stroke-width="1"/>
</g>
<g filter="url(#nz3)">
<rect x="16.5" y="82" width="91.3" height="64.5" fill="#303030"/>
<rect x="22" y="82" width="33" height="64.5" fill="url(#semI)"/>
<rect x="69.5" y="82" width="33" height="64.5" fill="url(#semI)"/>
</g>
<circle cx="33.4" cy="88.4" r="0.71" fill="#f4f4f4"/>
<circle cx="34.6" cy="86.3" r="0.67" fill="#f4f4f4"/>
<circle cx="74.5" cy="87.6" r="0.73" fill="#f4f4f4"/>
<circle cx="51.5" cy="119.2" r="0.66" fill="#f4f4f4"/>
<circle cx="52.3" cy="101.7" r="0.56" fill="#f4f4f4"/>
<circle cx="27.4" cy="90.3" r="0.73" fill="#f4f4f4"/>
<circle cx="29.4" cy="118.4" r="0.75" fill="#f4f4f4"/>
<circle cx="86.9" cy="112.4" r="0.87" fill="#f4f4f4"/>
<circle cx="34.5" cy="126.6" r="0.60" fill="#f4f4f4"/>
<circle cx="86.7" cy="128.5" r="0.62" fill="#f4f4f4"/>
<circle cx="75.3" cy="94.1" r="0.64" fill="#f4f4f4"/>
<circle cx="51.1" cy="130.6" r="0.73" fill="#f4f4f4"/>
<circle cx="80.8" cy="120.3" r="0.73" fill="#f4f4f4"/>
<circle cx="95.5" cy="112.9" r="0.77" fill="#f4f4f4"/>
<circle cx="91.6" cy="101.4" r="0.65" fill="#f4f4f4"/>
<circle cx="72.6" cy="105.7" r="0.74" fill="#f4f4f4"/>
<circle cx="78.1" cy="91.9" r="0.60" fill="#f4f4f4"/>
<circle cx="35.3" cy="94.1" r="0.66" fill="#f4f4f4"/>
<circle cx="75.8" cy="136.7" r="0.61" fill="#f4f4f4"/>
<circle cx="82.0" cy="142.4" r="0.56" fill="#f4f4f4"/>
<circle cx="29.1" cy="84.7" r="0.83" fill="#f4f4f4"/>
<circle cx="29.3" cy="109.6" r="0.65" fill="#f4f4f4"/>
<circle cx="40.4" cy="111.9" r="0.85" fill="#f4f4f4"/>
<circle cx="91.1" cy="108.3" r="0.66" fill="#f4f4f4"/>
<circle cx="38.0" cy="88.1" r="0.58" fill="#f4f4f4"/>
<circle cx="28.7" cy="90.2" r="0.73" fill="#f4f4f4"/>
<circle cx="39.6" cy="88.3" r="0.58" fill="#f4f4f4"/>
<circle cx="89.8" cy="120.7" r="0.69" fill="#f4f4f4"/>
<circle cx="85.7" cy="113.3" r="0.62" fill="#f4f4f4"/>
<circle cx="93.0" cy="113.2" r="0.78" fill="#f4f4f4"/>
<rect x="16.5" y="82" width="91.3" height="64.5" fill="none" stroke="#e8e8e8" stroke-width="1"/>
<text x="87.80" y="94.20" font-size="7.4" font-weight="bold" fill="#fff" text-anchor="middle">100 nm</text>
<rect x="78" y="98.2" width="18.6" height="1.5" fill="#fff"/>
<rect x="24" y="164" width="33.8" height="23.4" fill="none" stroke="#d8d8d8" stroke-width="0.9"/>
<path d="M16.5 146.5 L24 164 M107.8 146.5 L57.8 164" stroke="#fff" stroke-width="1" stroke-dasharray="1.3 1.3"/>
<g filter="url(#nz2)">
<rect x="116.5" y="44.6" width="95.5" height="101.9" fill="#9a9a9a"/>
<g filter="url(#bl3)" stroke-linejoin="round">
<polygon points="125,58 158,63 129,85" fill="#626262" stroke="#626262" stroke-width="6"/>
<polygon points="175,64 194,68 199,84 190,97 172,95 167,80" fill="#686868" stroke="#686868" stroke-width="5"/>
<polygon points="166,99 199,108 174,127.5" fill="#626262" stroke="#626262" stroke-width="6"/>
<polygon points="137,106 163,128 136,139" fill="#5c5c5c" stroke="#5c5c5c" stroke-width="6"/>
<polygon points="116,100 123,117 116,134" fill="#646464" stroke="#646464" stroke-width="4"/>
<ellipse cx="137" cy="68" rx="8" ry="6" fill="#555"/>
<ellipse cx="185" cy="81" rx="8" ry="7" fill="#555"/>
<ellipse cx="178" cy="111" rx="8" ry="6" fill="#555"/>
<ellipse cx="144" cy="125" rx="6" ry="7" fill="#555"/>
</g></g>
<rect x="116.5" y="44.6" width="95.5" height="101.9" fill="none" stroke="#333" stroke-width="0.8"/>
<text x="123.00" y="139.80" font-size="7.8" font-weight="bold" fill="#fff" textLength="24.20" lengthAdjust="spacingAndGlyphs">10 nm</text>
<rect x="123" y="141.8" width="44" height="1.3" fill="#fff"/>
<text x="144.50" y="176.20" font-size="11.5" font-weight="bold" fill="#fff" text-anchor="middle" textLength="24.50" lengthAdjust="spacingAndGlyphs">1 um</text>
<rect x="118.4" y="182.6" width="60.1" height="1.6" fill="#fff"/>
<text x="277.50" y="10.50" font-size="11.5" font-weight="bold" textLength="134.80" lengthAdjust="spacingAndGlyphs">Near-field Intensity (<tspan fill="#666" font-weight="normal">|</tspan>E<tspan fill="#666" font-weight="normal">|</tspan><tspan font-size="8.5" dy="-4">2</tspan><tspan dy="4">)</tspan></text>
<rect x="254.2" y="28" width="180.9" height="10.2" fill="url(#hotbar)" stroke="#bbb" stroke-width="0.5"/>
<path d="M272.3 28 V29.5 M290.4 28 V29.5 M308.5 28 V29.5 M326.6 28 V29.5 M344.6 28 V29.5 M362.7 28 V29.5 M380.8 28 V29.5 M398.9 28 V29.5 M417.0 28 V29.5" stroke="#777" stroke-width="0.5"/>
<text x="267.30" y="24.50" font-size="9.2" font-style="italic" fill="#222" text-anchor="middle">100</text>
<text x="300.50" y="24.50" font-size="9.2" font-style="italic" fill="#222" text-anchor="middle">80</text>
<text x="333.80" y="24.50" font-size="9.2" font-style="italic" fill="#222" text-anchor="middle">60</text>
<text x="367.20" y="24.50" font-size="9.2" font-style="italic" fill="#222" text-anchor="middle">40</text>
<text x="400.50" y="24.50" font-size="9.2" font-style="italic" fill="#222" text-anchor="middle">20</text>
<text x="432.00" y="24.50" font-size="9.2" font-style="italic" fill="#222" text-anchor="middle">0</text>
<g><rect x="253.8" y="45.20" width="86.40" height="1.80" fill="url(#hb0)"/><rect x="253.8" y="46.20" width="86.40" height="1.80" fill="url(#hb1)"/><rect x="253.8" y="47.20" width="86.40" height="1.80" fill="url(#hb2)"/><rect x="253.8" y="48.20" width="86.40" height="1.80" fill="url(#hb3)"/><rect x="253.8" y="49.20" width="86.40" height="1.80" fill="url(#hb4)"/><rect x="253.8" y="50.20" width="86.40" height="1.80" fill="url(#hb5)"/><rect x="253.8" y="51.20" width="86.40" height="1.80" fill="url(#hb6)"/><rect x="253.8" y="52.20" width="86.40" height="1.80" fill="url(#hb7)"/><rect x="253.8" y="53.20" width="86.40" height="1.80" fill="url(#hb8)"/><rect x="253.8" y="54.20" width="86.40" height="1.80" fill="url(#hb9)"/><rect x="253.8" y="55.20" width="86.40" height="1.80" fill="url(#hb10)"/><rect x="253.8" y="56.20" width="86.40" height="1.80" fill="url(#hb11)"/><rect x="253.8" y="57.20" width="86.40" height="1.80" fill="url(#hb12)"/><rect x="253.8" y="58.20" width="86.40" height="1.80" fill="url(#hb13)"/><rect x="253.8" y="59.20" width="86.40" height="1.80" fill="url(#hb14)"/><rect x="253.8" y="60.20" width="86.40" height="1.80" fill="url(#hb15)"/><rect x="253.8" y="61.20" width="86.40" height="1.80" fill="url(#hb16)"/><rect x="253.8" y="62.20" width="86.40" height="1.80" fill="url(#hb17)"/><rect x="253.8" y="63.20" width="86.40" height="1.80" fill="url(#hb18)"/><rect x="253.8" y="64.20" width="86.40" height="1.80" fill="url(#hb19)"/><rect x="253.8" y="65.20" width="86.40" height="1.80" fill="url(#hb20)"/><rect x="253.8" y="66.20" width="86.40" height="1.80" fill="url(#hb21)"/><rect x="253.8" y="67.20" width="86.40" height="1.80" fill="url(#hb22)"/><rect x="253.8" y="68.20" width="86.40" height="1.80" fill="url(#hb23)"/><rect x="253.8" y="69.20" width="86.40" height="1.80" fill="url(#hb24)"/><rect x="253.8" y="70.20" width="86.40" height="1.80" fill="url(#hb25)"/><rect x="253.8" y="71.20" width="86.40" height="1.80" fill="url(#hb26)"/><rect x="253.8" y="72.20" width="86.40" height="1.80" fill="url(#hb27)"/><rect x="253.8" y="73.20" width="86.40" height="1.80" fill="url(#hb28)"/><rect x="253.8" y="74.20" width="86.40" height="1.80" fill="url(#hb29)"/><rect x="253.8" y="75.20" width="86.40" height="1.80" fill="url(#hb30)"/><rect x="253.8" y="76.20" width="86.40" height="1.80" fill="url(#hb31)"/><rect x="253.8" y="77.20" width="86.40" height="1.80" fill="url(#hb32)"/><rect x="253.8" y="78.20" width="86.40" height="1.80" fill="url(#hb33)"/><rect x="253.8" y="79.20" width="86.40" height="1.80" fill="url(#hb34)"/><rect x="253.8" y="80.20" width="86.40" height="1.80" fill="url(#hb35)"/><rect x="253.8" y="81.20" width="86.40" height="1.80" fill="url(#hb36)"/><rect x="253.8" y="82.20" width="86.40" height="1.80" fill="url(#hb37)"/><rect x="253.8" y="83.20" width="86.40" height="1.80" fill="url(#hb38)"/><rect x="253.8" y="84.20" width="86.40" height="1.80" fill="url(#hb39)"/><rect x="253.8" y="85.20" width="86.40" height="1.80" fill="url(#hb40)"/><rect x="253.8" y="86.20" width="86.40" height="1.80" fill="url(#hb41)"/><rect x="253.8" y="87.20" width="86.40" height="1.80" fill="url(#hb42)"/><rect x="253.8" y="88.20" width="86.40" height="1.80" fill="url(#hb43)"/><rect x="253.8" y="89.20" width="86.40" height="1.80" fill="url(#hb44)"/><rect x="253.8" y="90.20" width="86.40" height="1.80" fill="url(#hb45)"/><rect x="253.8" y="91.20" width="86.40" height="1.80" fill="url(#hb46)"/><rect x="253.8" y="92.20" width="86.40" height="1.80" fill="url(#hb47)"/><rect x="253.8" y="93.20" width="86.40" height="1.80" fill="url(#hb48)"/><rect x="253.8" y="94.20" width="86.40" height="1.80" fill="url(#hb49)"/><rect x="253.8" y="95.20" width="86.40" height="1.80" fill="url(#hb50)"/><rect x="253.8" y="96.20" width="86.40" height="1.80" fill="url(#hb51)"/><rect x="253.8" y="97.20" width="86.40" height="1.80" fill="url(#hb52)"/><rect x="253.8" y="98.20" width="86.40" height="1.80" fill="url(#hb53)"/><rect x="253.8" y="99.20" width="86.40" height="1.80" fill="url(#hb54)"/><rect x="253.8" y="100.20" width="86.40" height="1.80" fill="url(#hb55)"/><rect x="253.8" y="101.20" width="86.40" height="1.80" fill="url(#hb56)"/><rect x="253.8" y="102.20" width="86.40" height="1.80" fill="url(#hb57)"/><rect x="253.8" y="103.20" width="86.40" height="1.80" fill="url(#hb58)"/><rect x="253.8" y="104.20" width="86.40" height="1.80" fill="url(#hb59)"/><rect x="253.8" y="105.20" width="86.40" height="1.80" fill="url(#hb60)"/><rect x="253.8" y="106.20" width="86.40" height="1.80" fill="url(#hb61)"/><rect x="253.8" y="107.20" width="86.40" height="1.80" fill="url(#hb62)"/><rect x="253.8" y="108.20" width="86.40" height="1.80" fill="url(#hb63)"/><rect x="253.8" y="109.20" width="86.40" height="1.80" fill="url(#hb64)"/><rect x="253.8" y="110.20" width="86.40" height="1.80" fill="url(#hb65)"/><rect x="253.8" y="111.20" width="86.40" height="1.80" fill="url(#hb66)"/><rect x="253.8" y="112.20" width="86.40" height="1.80" fill="url(#hb67)"/><rect x="253.8" y="113.20" width="86.40" height="1.80" fill="url(#hb68)"/><rect x="253.8" y="114.20" width="86.40" height="1.80" fill="url(#hb69)"/><rect x="253.8" y="115.20" width="86.40" height="1.80" fill="url(#hb70)"/><rect x="253.8" y="116.20" width="86.40" height="1.80" fill="url(#hb71)"/><rect x="253.8" y="117.20" width="86.40" height="1.80" fill="url(#hb72)"/><rect x="253.8" y="118.20" width="86.40" height="1.80" fill="url(#hb73)"/><rect x="253.8" y="119.20" width="86.40" height="1.80" fill="url(#hb74)"/><rect x="253.8" y="120.20" width="86.40" height="1.80" fill="url(#hb75)"/><rect x="253.8" y="121.20" width="86.40" height="1.80" fill="url(#hb76)"/><rect x="253.8" y="122.20" width="86.40" height="1.80" fill="url(#hb77)"/><rect x="253.8" y="123.20" width="86.40" height="1.80" fill="url(#hb78)"/><rect x="253.8" y="124.20" width="86.40" height="1.80" fill="url(#hb79)"/><rect x="253.8" y="125.20" width="86.40" height="1.80" fill="url(#hb80)"/><rect x="253.8" y="126.20" width="86.40" height="1.80" fill="url(#hb81)"/><rect x="253.8" y="127.20" width="86.40" height="1.80" fill="url(#hb82)"/><rect x="253.8" y="128.20" width="86.40" height="1.80" fill="url(#hb83)"/><rect x="253.8" y="129.20" width="86.40" height="1.80" fill="url(#hb84)"/><rect x="253.8" y="130.20" width="86.40" height="1.80" fill="url(#hb85)"/><rect x="253.8" y="131.20" width="86.40" height="1.80" fill="url(#hb86)"/><rect x="253.8" y="132.20" width="86.40" height="1.80" fill="url(#hb87)"/><rect x="253.8" y="133.20" width="86.40" height="1.80" fill="url(#hb88)"/><rect x="253.8" y="134.20" width="86.40" height="1.80" fill="url(#hb89)"/><rect x="253.8" y="135.20" width="86.40" height="1.80" fill="url(#hb90)"/><rect x="253.8" y="136.20" width="86.40" height="1.80" fill="url(#hb91)"/><rect x="253.8" y="137.20" width="86.40" height="1.80" fill="url(#hb92)"/><rect x="253.8" y="138.20" width="86.40" height="1.80" fill="url(#hb93)"/><rect x="253.8" y="139.20" width="86.40" height="1.80" fill="url(#hb94)"/><rect x="253.8" y="140.20" width="86.40" height="1.80" fill="url(#hb95)"/><rect x="253.8" y="141.20" width="86.40" height="1.80" fill="url(#hb96)"/><rect x="253.8" y="142.20" width="86.40" height="1.80" fill="url(#hb97)"/><rect x="253.8" y="143.20" width="86.40" height="1.80" fill="url(#hb98)"/><rect x="253.8" y="144.20" width="86.40" height="1.80" fill="url(#hb99)"/><rect x="253.8" y="145.20" width="86.40" height="1.80" fill="url(#hb100)"/><rect x="253.8" y="146.20" width="86.40" height="1.80" fill="url(#hb101)"/><rect x="253.8" y="147.20" width="86.40" height="1.80" fill="url(#hb102)"/><rect x="253.8" y="148.20" width="86.40" height="1.80" fill="url(#hb103)"/><rect x="253.8" y="149.20" width="86.40" height="1.80" fill="url(#hb104)"/><rect x="253.8" y="150.20" width="86.40" height="1.80" fill="#9b0000"/><rect x="253.8" y="151.20" width="86.40" height="1.80" fill="#950000"/><rect x="253.8" y="152.20" width="86.40" height="1.80" fill="#8f0000"/><rect x="253.8" y="153.20" width="86.40" height="1.80" fill="#8a0000"/><rect x="253.8" y="154.20" width="86.40" height="1.80" fill="#850000"/><rect x="253.8" y="155.20" width="86.40" height="1.80" fill="#800000"/><rect x="253.8" y="156.20" width="86.40" height="1.80" fill="#7b0000"/><rect x="253.8" y="157.20" width="86.40" height="1.80" fill="#760000"/><rect x="253.8" y="158.20" width="86.40" height="1.80" fill="#720000"/><rect x="253.8" y="159.20" width="86.40" height="1.80" fill="#6d0000"/><rect x="253.8" y="160.20" width="86.40" height="1.80" fill="#690000"/><rect x="253.8" y="161.20" width="86.40" height="1.80" fill="#650000"/><rect x="253.8" y="162.20" width="86.40" height="1.80" fill="#610000"/><rect x="253.8" y="163.20" width="86.40" height="1.80" fill="#5e0000"/><rect x="253.8" y="164.20" width="86.40" height="1.80" fill="#5a0000"/><rect x="253.8" y="165.20" width="86.40" height="1.80" fill="#570000"/><rect x="253.8" y="166.20" width="86.40" height="1.80" fill="#540000"/><rect x="253.8" y="167.20" width="86.40" height="1.80" fill="#500000"/><rect x="253.8" y="168.20" width="86.40" height="1.80" fill="#4d0000"/><rect x="253.8" y="169.20" width="86.40" height="1.80" fill="#4a0000"/><rect x="253.8" y="170.20" width="86.40" height="1.80" fill="#480000"/><rect x="253.8" y="171.20" width="86.40" height="1.80" fill="#450000"/><rect x="253.8" y="172.20" width="86.40" height="1.80" fill="#420000"/><rect x="253.8" y="173.20" width="86.40" height="1.80" fill="#400000"/><rect x="253.8" y="174.20" width="86.40" height="1.80" fill="#3d0000"/><rect x="253.8" y="175.20" width="86.40" height="1.80" fill="#3b0000"/><rect x="253.8" y="176.20" width="86.40" height="1.80" fill="#390000"/><rect x="253.8" y="177.20" width="86.40" height="1.80" fill="#370000"/><rect x="253.8" y="178.20" width="86.40" height="1.80" fill="#350000"/><rect x="253.8" y="179.20" width="86.40" height="1.80" fill="#330000"/><rect x="253.8" y="180.20" width="86.40" height="1.80" fill="#310000"/><rect x="253.8" y="181.20" width="86.40" height="1.80" fill="#2f0000"/><rect x="253.8" y="182.20" width="86.40" height="1.80" fill="#2d0000"/><rect x="253.8" y="183.20" width="86.40" height="1.80" fill="#2b0000"/><rect x="253.8" y="184.20" width="86.40" height="1.80" fill="#2a0000"/><rect x="253.8" y="185.20" width="86.40" height="1.80" fill="#280000"/><rect x="253.8" y="186.20" width="86.40" height="1.80" fill="#270000"/><rect x="253.8" y="187.20" width="86.40" height="1.80" fill="#250000"/><rect x="253.8" y="188.20" width="86.40" height="1.80" fill="#240000"/><rect x="253.8" y="189.20" width="86.40" height="1.80" fill="#220000"/><rect x="253.8" y="190.20" width="86.40" height="1.80" fill="#210000"/><rect x="253.8" y="191.20" width="86.40" height="1.80" fill="#200000"/><rect x="253.8" y="192.20" width="86.40" height="1.80" fill="#1f0000"/><rect x="253.8" y="193.20" width="86.40" height="1.80" fill="#1e0000"/></g>
<rect x="347.5" y="45.8" width="87.7" height="148.7" fill="#000"/>
<text x="244.60" y="51.30" font-size="10.5" text-anchor="middle">-1</text>
<text x="244.60" y="87.80" font-size="10.5" text-anchor="middle">-0.5</text>
<text x="244.60" y="124.30" font-size="10.5" text-anchor="middle">0</text>
<text x="244.60" y="160.80" font-size="10.5" text-anchor="middle">0.5</text>
<text x="244.60" y="197.30" font-size="10.5" text-anchor="middle">1</text>
<text x="235.00" y="120.20" font-size="10.9" text-anchor="middle" textLength="56.00" lengthAdjust="spacingAndGlyphs" transform="rotate(-90 235 120.2)">Z-axis (um)</text>
<text x="270.40" y="205.40" font-size="10.5" text-anchor="middle">-0.1</text>
<text x="296.30" y="205.40" font-size="10.5" text-anchor="middle">0</text>
<text x="323.00" y="205.40" font-size="10.5" text-anchor="middle">0.1</text>
<text x="364.30" y="206.30" font-size="10.5" text-anchor="middle">-0.1</text>
<text x="391.50" y="206.30" font-size="10.5" text-anchor="middle">0</text>
<text x="417.80" y="206.30" font-size="10.5" text-anchor="middle">0.1</text>
<text x="348.90" y="218.20" font-size="10.7" text-anchor="middle">X-axis (um)</text>
<text x="262.20" y="58.60" font-size="11.5" fill="#88d4a4" text-anchor="middle">★</text>
<text x="269.80" y="57.40" font-size="9.4" fill="#a4d8a8" textLength="63.60" lengthAdjust="spacingAndGlyphs">On Resonance</text>
<circle cx="356.3" cy="53.2" r="4.3" fill="#8ec8d8"/>
<text x="364.70" y="57.40" font-size="9.4" fill="#8ec8d8" textLength="63.30" lengthAdjust="spacingAndGlyphs">Off Resonance</text>
<text x="339.90" y="108.60" font-size="10" fill="#fff" text-anchor="end" textLength="25.60" lengthAdjust="spacingAndGlyphs">Water</text>
<text x="339.90" y="136.00" font-size="9.7" fill="#111" text-anchor="end">Si<tspan font-size="6.8" dy="2.6">3</tspan><tspan dy="-2.6">N</tspan><tspan font-size="6.8" dy="2.6">4</tspan></text>
<text x="338.40" y="166.20" font-size="9.7" fill="#fff" text-anchor="end">SiO<tspan font-size="6.8" dy="2.6">2</tspan></text>
<text x="432.40" y="108.60" font-size="10" fill="#fff" text-anchor="end" textLength="25.60" lengthAdjust="spacingAndGlyphs">Water</text>
<text x="432.40" y="136.00" font-size="9.7" fill="#fff" text-anchor="end">Si<tspan font-size="6.8" dy="2.6">3</tspan><tspan dy="-2.6">N</tspan><tspan font-size="6.8" dy="2.6">4</tspan></text>
<text x="430.90" y="166.20" font-size="9.7" fill="#fff" text-anchor="end">SiO<tspan font-size="6.8" dy="2.6">2</tspan></text>
<path d="M253.8 124.4 H275.7 V117.3 H318.3 V124.4 H339.6 M253.8 150.4 H280.5 V144.3 H313 V150.4 H339.6" fill="none" stroke="#222" stroke-width="0.8" stroke-dasharray="2 1"/>
<path d="M347.5 124 H369.9 V116.4 H413 V124 H435.2 M347.5 149.6 H374.9 V144.7 H408.1 V149.6 H435.2" fill="none" stroke="#ddd" stroke-width="0.8" stroke-dasharray="2 1"/>
<text x="583.75" y="14.00" font-size="10.8" font-weight="bold" text-anchor="middle" textLength="112.90" lengthAdjust="spacingAndGlyphs">QD Emission Coupled</text>
<text x="583.75" y="27.00" font-size="10.8" font-weight="bold" text-anchor="middle" textLength="142.90" lengthAdjust="spacingAndGlyphs">with PC Fluorescence Mode</text>
<path d="M506.8 198.2 V38.3 H661" fill="none" stroke="#444" stroke-width="0.9"/>
<path d="M661 38.3 V198.2" fill="none" stroke="#999" stroke-width="0.9"/>
<path d="M506.8 198.2 H661" fill="none" stroke="#555" stroke-width="0.9"/>
<path d="M506.8 197.5 H510.3 M506.8 183.0 H509.0 M506.8 168.6 H509.0 M506.8 154.1 H509.0 M506.8 139.7 H509.0 M506.8 125.2 H510.3 M506.8 110.7 H509.0 M506.8 96.3 H509.0 M506.8 81.8 H509.0 M506.8 67.4 H509.0 M506.8 52.9 H510.3 M506.8 198.2 V201.8 M558.1 198.2 V201.8 M609.4 198.2 V201.8 M660.7 198.2 V201.8" stroke="#444" stroke-width="0.8"/>
<text x="584.30" y="224.20" font-size="10.7" text-anchor="middle" textLength="81.30" lengthAdjust="spacingAndGlyphs">Wavelength (nm)</text>
<text x="475.00" y="118.00" font-size="10.8" text-anchor="middle" transform="rotate(-90 475 118)">Fluorescent Intensity (arb. units)</text>
<text x="506.80" y="211.00" font-size="8.8" text-anchor="middle">550</text>
<text x="558.10" y="211.00" font-size="8.8" text-anchor="middle">600</text>
<text x="609.40" y="211.00" font-size="8.8" text-anchor="middle">650</text>
<text x="660.70" y="211.00" font-size="8.8" text-anchor="middle">700</text>
<text x="505.60" y="201.10" font-size="9" text-anchor="end">0</text>
<text x="505.20" y="128.50" font-size="8.6" text-anchor="end">5×10<tspan font-size="6" dy="-3.5">4</tspan></text>
<text x="505.20" y="56.10" font-size="8.6" text-anchor="end">1×10<tspan font-size="6" dy="-3.5">5</tspan></text>
<polyline points="506.3,194.8 506.8,194.8 507.3,194.8 507.8,194.8 508.3,194.8 508.9,194.8 509.4,194.8 509.9,194.8 510.4,194.8 510.9,194.8 511.4,194.8 511.9,194.8 512.4,194.7 513.0,194.7 513.5,194.7 514.0,194.7 514.5,194.7 515.0,194.7 515.5,194.7 516.0,194.7 516.5,194.7 517.1,194.7 517.6,194.7 518.1,194.7 518.6,194.7 519.1,194.7 519.6,194.7 520.1,194.7 520.7,194.7 521.2,194.7 521.7,194.7 522.2,194.7 522.7,194.7 523.2,194.7 523.7,194.7 524.2,194.7 524.8,194.7 525.3,194.7 525.8,194.7 526.3,194.7 526.8,194.7 527.3,194.7 527.8,194.6 528.3,194.6 528.9,194.6 529.4,194.6 529.9,194.6 530.4,194.6 530.9,194.6 531.4,194.5 531.9,194.5 532.5,194.5 533.0,194.5 533.5,194.4 534.0,194.4 534.5,194.4 535.0,194.3 535.5,194.3 536.0,194.3 536.6,194.2 537.1,194.2 537.6,194.1 538.1,194.1 538.6,194.0 539.1,194.0 539.6,193.9 540.1,193.8 540.7,193.8 541.2,193.7 541.7,193.6 542.2,193.6 542.7,193.5 543.2,193.4 543.7,193.3 544.2,193.2 544.8,193.1 545.3,193.0 545.8,192.9 546.3,192.8 546.8,192.7 547.3,192.6 547.8,192.5 548.4,192.3 548.9,192.2 549.4,192.1 549.9,192.0 550.4,191.8 550.9,191.7 551.4,191.6 551.9,191.5 552.5,191.3 553.0,191.2 553.5,191.0 554.0,190.9 554.5,190.8 555.0,190.6 555.5,190.5 556.0,190.4 556.6,190.2 557.1,190.1 557.6,190.0 558.1,189.9 558.6,189.8 559.1,189.6 559.6,189.5 560.2,189.4 560.7,189.3 561.2,189.2 561.7,189.2 562.2,189.1 562.7,189.0 563.2,188.9 563.7,188.9 564.3,188.8 564.8,188.8 565.3,188.7 565.8,188.7 566.3,188.7 566.8,188.7 567.3,188.7 567.8,188.7 568.4,188.7 568.9,188.7 569.4,188.7 569.9,188.8 570.4,188.8 570.9,188.9 571.4,188.9 572.0,189.0 572.5,189.1 573.0,189.2 573.5,189.2 574.0,189.3 574.5,189.4 575.0,189.5 575.5,189.6 576.1,189.8 576.6,189.9 577.1,190.0 577.6,190.1 578.1,190.2 578.6,190.4 579.1,190.5 579.6,190.6 580.2,190.8 580.7,190.9 581.2,191.0 581.7,191.2 582.2,191.3 582.7,191.5 583.2,191.6 583.8,191.7 584.3,191.9 584.8,192.0 585.3,192.1 585.8,192.3 586.3,192.4 586.8,192.5 587.3,192.7 587.9,192.8 588.4,192.9 588.9,193.0 589.4,193.1 589.9,193.3 590.4,193.4 590.9,193.5 591.4,193.6 592.0,193.7 592.5,193.7 593.0,193.8 593.5,193.9 594.0,194.0 594.5,194.1 595.0,194.1 595.5,194.2 596.1,194.3 596.6,194.3 597.1,194.4 597.6,194.5 598.1,194.5 598.6,194.6 599.1,194.6 599.7,194.6 600.2,194.7 600.7,194.7 601.2,194.8 601.7,194.8 602.2,194.8 602.7,194.9 603.2,194.9 603.8,194.9 604.3,194.9 604.8,195.0 605.3,195.0 605.8,195.0 606.3,195.0 606.8,195.1 607.3,195.1 607.9,195.1 608.4,195.1 608.9,195.1 609.4,195.1 609.9,195.1 610.4,195.2 610.9,195.2 611.5,195.2 612.0,195.2 612.5,195.2 613.0,195.2 613.5,195.2 614.0,195.2 614.5,195.2 615.0,195.2 615.6,195.2 616.1,195.3 616.6,195.3 617.1,195.3 617.6,195.3 618.1,195.3 618.6,195.3 619.1,195.3 619.7,195.3 620.2,195.3 620.7,195.3 621.2,195.3 621.7,195.3 622.2,195.3 622.7,195.3 623.3,195.3 623.8,195.3 624.3,195.3 624.8,195.3 625.3,195.3 625.8,195.4 626.3,195.4 626.8,195.4 627.4,195.4 627.9,195.4 628.4,195.4 628.9,195.4 629.4,195.4 629.9,195.4 630.4,195.4 630.9,195.4 631.5,195.4 632.0,195.4 632.5,195.4 633.0,195.4 633.5,195.4 634.0,195.4 634.5,195.4 635.0,195.4 635.6,195.4 636.1,195.4 636.6,195.4 637.1,195.4 637.6,195.4 638.1,195.4 638.6,195.4 639.2,195.4 639.7,195.4 640.2,195.4 640.7,195.4 641.2,195.4 641.7,195.4 642.2,195.4 642.7,195.5 643.3,195.5 643.8,195.5 644.3,195.5 644.8,195.5 645.3,195.5 645.8,195.5 646.3,195.5 646.8,195.5" fill="none" stroke="#1a5878" stroke-width="2.6"/>
<polyline points="506.3,195.3 506.8,195.3 507.3,195.3 507.8,195.3 508.3,195.3 508.9,195.3 509.4,195.3 509.9,195.3 510.4,195.3 510.9,195.3 511.4,195.3 511.9,195.3 512.4,195.3 513.0,195.3 513.5,195.3 514.0,195.3 514.5,195.3 515.0,195.3 515.5,195.3 516.0,195.3 516.5,195.3 517.1,195.3 517.6,195.3 518.1,195.3 518.6,195.3 519.1,195.3 519.6,195.3 520.1,195.3 520.7,195.3 521.2,195.3 521.7,195.3 522.2,195.3 522.7,195.3 523.2,195.3 523.7,195.3 524.2,195.3 524.8,195.3 525.3,195.3 525.8,195.3 526.3,195.3 526.8,195.3 527.3,195.3 527.8,195.3 528.3,195.2 528.9,195.2 529.4,195.2 529.9,195.2 530.4,195.2 530.9,195.2 531.4,195.2 531.9,195.2 532.5,195.1 533.0,195.1 533.5,195.1 534.0,195.1 534.5,195.1 535.0,195.0 535.5,195.0 536.0,195.0 536.6,194.9 537.1,194.9 537.6,194.9 538.1,194.8 538.6,194.8 539.1,194.7 539.6,194.6 540.1,194.5 540.7,194.4 541.2,194.3 541.7,194.2 542.2,194.0 542.7,193.8 543.2,193.6 543.7,193.3 544.2,193.0 544.8,192.6 545.3,192.2 545.8,191.6 546.3,190.9 546.8,190.1 547.3,189.2 547.8,188.1 548.4,186.8 548.9,185.3 549.4,183.6 549.9,181.6 550.4,179.3 550.9,176.7 551.4,173.8 551.9,170.5 552.5,166.9 553.0,162.9 553.5,158.6 554.0,153.8 554.5,148.7 555.0,143.3 555.5,137.5 556.0,131.5 556.6,125.2 557.1,118.8 557.6,112.3 558.1,105.7 558.6,99.2 559.1,92.8 559.6,86.7 560.2,80.8 560.7,75.4 561.2,70.4 561.7,66.1 562.2,62.3 562.7,59.3 563.2,57.1 563.7,55.7 564.3,55.1 564.8,55.3 565.3,56.4 565.8,58.4 566.3,61.1 566.8,64.5 567.3,68.6 567.8,73.3 568.4,78.6 568.9,84.3 569.4,90.3 569.9,96.6 570.4,103.1 570.9,109.7 571.4,116.2 572.0,122.7 572.5,129.0 573.0,135.1 573.5,141.0 574.0,146.6 574.5,151.8 575.0,156.7 575.5,161.2 576.1,165.4 576.6,169.1 577.1,172.5 577.6,175.6 578.1,178.3 578.6,180.7 579.1,182.8 579.6,184.6 580.2,186.2 580.7,187.6 581.2,188.8 581.7,189.8 582.2,190.6 582.7,191.3 583.2,191.9 583.8,192.5 584.3,192.9 584.8,193.2 585.3,193.5 585.8,193.8 586.3,194.0 586.8,194.1 587.3,194.3 587.9,194.4 588.4,194.5 588.9,194.6 589.4,194.7 589.9,194.7 590.4,194.8 590.9,194.8 591.4,194.9 592.0,194.9 592.5,195.0 593.0,195.0 593.5,195.0 594.0,195.1 594.5,195.1 595.0,195.1 595.5,195.1 596.1,195.1 596.6,195.2 597.1,195.2 597.6,195.2 598.1,195.2 598.6,195.2 599.1,195.2 599.7,195.2 600.2,195.2 600.7,195.3 601.2,195.3 601.7,195.3 602.2,195.3 602.7,195.3 603.2,195.3 603.8,195.3 604.3,195.3 604.8,195.3 605.3,195.3 605.8,195.3 606.3,195.3 606.8,195.3 607.3,195.3 607.9,195.3 608.4,195.3 608.9,195.3 609.4,195.3 609.9,195.3 610.4,195.3 610.9,195.3 611.5,195.3 612.0,195.3 612.5,195.3 613.0,195.3 613.5,195.3 614.0,195.3 614.5,195.3 615.0,195.3 615.6,195.3 616.1,195.3 616.6,195.3 617.1,195.3 617.6,195.3 618.1,195.3 618.6,195.3 619.1,195.3 619.7,195.3 620.2,195.3 620.7,195.3 621.2,195.3 621.7,195.3 622.2,195.3 622.7,195.3 623.3,195.3 623.8,195.3 624.3,195.3 624.8,195.3 625.3,195.3 625.8,195.3 626.3,195.3 626.8,195.3 627.4,195.3 627.9,195.3 628.4,195.3 628.9,195.3 629.4,195.3 629.9,195.3 630.4,195.3 630.9,195.3 631.5,195.3 632.0,195.3 632.5,195.3 633.0,195.3 633.5,195.3 634.0,195.3 634.5,195.3 635.0,195.3 635.6,195.3 636.1,195.3 636.6,195.3 637.1,195.3 637.6,195.3 638.1,195.3 638.6,195.3 639.2,195.3 639.7,195.3 640.2,195.3 640.7,195.3 641.2,195.3 641.7,195.3 642.2,195.3 642.7,195.3 643.3,195.3 643.8,195.3 644.3,195.3 644.8,195.3 645.3,195.3 645.8,195.3 646.3,195.3 646.8,195.3" fill="none" stroke="#84bc50" stroke-width="2.6"/>
<polyline points="506.3,195.3 506.8,195.3 507.3,195.3 507.8,195.3 508.3,195.3 508.9,195.3 509.4,195.3 509.9,195.3 510.4,195.3 510.9,195.3 511.4,195.3 511.9,195.3 512.4,195.3 513.0,195.3 513.5,195.3 514.0,195.3 514.5,195.3 515.0,195.3 515.5,195.3 516.0,195.3 516.5,195.3 517.1,195.3 517.6,195.3 518.1,195.3 518.6,195.3 519.1,195.3 519.6,195.3 520.1,195.3 520.7,195.3 521.2,195.3 521.7,195.3 522.2,195.3 522.7,195.3 523.2,195.3 523.7,195.3 524.2,195.3 524.8,195.3 525.3,195.3 525.8,195.3 526.3,195.3 526.8,195.3 527.3,195.3 527.8,195.3 528.3,195.2 528.9,195.2 529.4,195.2 529.9,195.2 530.4,195.2 530.9,195.2 531.4,195.2 531.9,195.2 532.5,195.1 533.0,195.1 533.5,195.1 534.0,195.1 534.5,195.1 535.0,195.0 535.5,195.0 536.0,195.0 536.6,194.9 537.1,194.9 537.6,194.9 538.1,194.8 538.6,194.8 539.1,194.7 539.6,194.6 540.1,194.5 540.7,194.4 541.2,194.3 541.7,194.2 542.2,194.0 542.7,193.8 543.2,193.6 543.7,193.3 544.2,193.0 544.8,192.6 545.3,192.2 545.8,191.6 546.3,190.9 546.8,190.1 547.3,189.2 547.8,188.1 548.4,186.8 548.9,185.3 549.4,183.6 549.9,181.6 550.4,179.3 550.9,176.7 551.4,173.8 551.9,170.5 552.5,166.9 553.0,162.9 553.5,158.6 554.0,153.8 554.5,148.7 555.0,143.3 555.5,137.5 556.0,131.5 556.6,125.2 557.1,118.8 557.6,112.3 558.1,105.7 558.6,99.2 559.1,92.8 559.6,86.7 560.2,80.8 560.7,75.4 561.2,70.4 561.7,66.1 562.2,62.3 562.7,59.3 563.2,57.1 563.7,55.7 564.3,55.1 564.8,55.3 565.3,56.4 565.8,58.4 566.3,61.1 566.8,64.5 567.3,68.6 567.8,73.3 568.4,78.6 568.9,84.3 569.4,90.3 569.9,96.6 570.4,103.1 570.9,109.7 571.4,116.2 572.0,122.7 572.5,129.0 573.0,135.1 573.5,141.0 574.0,146.6 574.5,151.8 575.0,156.7 575.5,161.2 576.1,165.4 576.6,169.1 577.1,172.5 577.6,175.6 578.1,178.3 578.6,180.7 579.1,182.8 579.6,184.6 580.2,186.2 580.7,187.6 581.2,188.8 581.7,189.8 582.2,190.6 582.7,191.3 583.2,191.9 583.8,192.5 584.3,192.9 584.8,193.2 585.3,193.5 585.8,193.8 586.3,194.0 586.8,194.1 587.3,194.3 587.9,194.4 588.4,194.5 588.9,194.6 589.4,194.7 589.9,194.7 590.4,194.8 590.9,194.8 591.4,194.9 592.0,194.9 592.5,195.0 593.0,195.0 593.5,195.0 594.0,195.1 594.5,195.1 595.0,195.1 595.5,195.1 596.1,195.1 596.6,195.2 597.1,195.2 597.6,195.2 598.1,195.2 598.6,195.2 599.1,195.2 599.7,195.2 600.2,195.2 600.7,195.3 601.2,195.3 601.7,195.3 602.2,195.3 602.7,195.3 603.2,195.3 603.8,195.3 604.3,195.3 604.8,195.3 605.3,195.3 605.8,195.3 606.3,195.3 606.8,195.3 607.3,195.3 607.9,195.3 608.4,195.3 608.9,195.3 609.4,195.3 609.9,195.3 610.4,195.3 610.9,195.3 611.5,195.3 612.0,195.3 612.5,195.3 613.0,195.3 613.5,195.3 614.0,195.3 614.5,195.3 615.0,195.3 615.6,195.3 616.1,195.3 616.6,195.3 617.1,195.3 617.6,195.3 618.1,195.3 618.6,195.3 619.1,195.3 619.7,195.3 620.2,195.3 620.7,195.3 621.2,195.3 621.7,195.3 622.2,195.3 622.7,195.3 623.3,195.3 623.8,195.3 624.3,195.3 624.8,195.3 625.3,195.3 625.8,195.3 626.3,195.3 626.8,195.3 627.4,195.3 627.9,195.3 628.4,195.3 628.9,195.3 629.4,195.3 629.9,195.3 630.4,195.3 630.9,195.3 631.5,195.3 632.0,195.3 632.5,195.3 633.0,195.3 633.5,195.3 634.0,195.3 634.5,195.3 635.0,195.3 635.6,195.3 636.1,195.3 636.6,195.3 637.1,195.3 637.6,195.3 638.1,195.3 638.6,195.3 639.2,195.3 639.7,195.3 640.2,195.3 640.7,195.3 641.2,195.3 641.7,195.3 642.2,195.3 642.7,195.3 643.3,195.3 643.8,195.3 644.3,195.3 644.8,195.3 645.3,195.3 645.8,195.3 646.3,195.3 646.8,195.3" fill="none" stroke="#a8d880" stroke-width="0.8" stroke-dasharray="0.8 1.2"/>
<circle cx="583.3" cy="50.2" r="1.3" fill="#9ad070"/>
<circle cx="583.3" cy="76.8" r="1.3" fill="#2a88b8"/>
<text x="596.40" y="54.60" font-size="10.5" textLength="47.80" lengthAdjust="spacingAndGlyphs">Couple with</text>
<text x="596.40" y="66.70" font-size="10.5" textLength="59.60" lengthAdjust="spacingAndGlyphs">TE Mode (26°)</text>
<text x="596.40" y="80.30" font-size="10.5" textLength="46.60" lengthAdjust="spacingAndGlyphs">Un-coupled</text>
<text x="75.00" y="272.30" font-size="12" font-style="italic" fill="#222">F</text>
<text x="82.60" y="275.40" font-size="8.6" font-style="italic" fill="#222">P</text>
<text x="90.60" y="272.30" font-size="11" fill="#222">=</text>
<text x="97.00" y="272.30" font-size="11" fill="#222">γ</text>
<text x="102.40" y="275.40" font-size="8.6" fill="#222" textLength="8.40" lengthAdjust="spacingAndGlyphs">sp</text>
<text x="114.60" y="272.30" font-size="11" fill="#222">/</text>
<text x="118.00" y="272.30" font-size="11" fill="#222">γ</text>
<text x="124.00" y="267.50" font-size="8.6" fill="#222">0</text>
<text x="129.40" y="275.40" font-size="8.6" fill="#222" textLength="8.60" lengthAdjust="spacingAndGlyphs">sp</text>
<rect x="11" y="290" width="181.3" height="108.7" fill="url(#dgr)"/>
<rect x="201.3" y="290" width="5.1" height="108" fill="url(#dcb)" stroke="#444" stroke-width="0.5"/>
<text x="209.50" y="314.50" font-size="7">4</text>
<text x="209.50" y="342.90" font-size="7">3</text>
<text x="209.50" y="371.50" font-size="7">2</text>
<text x="209.50" y="399.50" font-size="7">1</text>
<path d="M24.3 383.6 V352" stroke="#000" stroke-width="1.2"/><path d="M21.8 353 L24.3 347.5 L26.8 353 Z"/>
<path d="M24.3 383.6 H57" stroke="#000" stroke-width="1.2"/><path d="M56 381.1 L61 383.6 L56 386.1 Z"/>
<circle cx="24.3" cy="383.6" r="2.8" fill="none" stroke="#000" stroke-width="0.8"/><circle cx="24.3" cy="383.6" r="1.2"/>
<text x="14.30" y="357.00" font-size="11" font-weight="bold">y</text>
<text x="14.30" y="392.30" font-size="11" font-weight="bold">z</text>
<text x="50.40" y="396.50" font-size="11" font-weight="bold">x</text>
<path d="M98.2 386.2 L91.5 405.5 M158.7 382.9 L162.2 405.7" stroke="#000" stroke-width="1"/>
<text x="90.20" y="418.50" font-size="10.5" text-anchor="middle">Ridge</text>
<text x="159.90" y="420.00" font-size="10.5" text-anchor="middle">Groove</text>
<rect x="208.5" y="426.7" width="6.6" height="19.9" fill="url(#afmcb)"/>
<text x="217.00" y="426.50" font-size="7.5">30</text>
<text x="218.60" y="458.00" font-size="7.5">0</text>
<text x="197.00" y="458.00" font-size="7">(nm)</text>
<text x="199.30" y="442.00" font-size="12" font-weight="bold" textLength="6.20" lengthAdjust="spacingAndGlyphs">Z</text>
<text x="104.60" y="463.80" font-size="12.5" font-weight="bold" textLength="6.80" lengthAdjust="spacingAndGlyphs">X</text>
<text x="8.50" y="454.00" font-size="11" font-weight="bold" text-anchor="middle" transform="rotate(-40 8.5 451)">y</text>
<path d="M18 449 L197.6 446.3 V437.5" fill="none" stroke="#c8c8c8" stroke-width="0.7"/>
<path d="M10 440 L18 449 M6 432 L13 430" fill="none" stroke="#d0d0d0" stroke-width="0.6"/>
<polygon points="13.0,429.0 13.5,429.0 14.0,429.1 14.5,429.2 15.0,429.4 15.5,429.7 16.0,430.0 16.5,430.4 17.0,430.9 17.5,431.3 18.0,431.9 18.5,432.4 19.0,433.0 19.5,433.5 20.0,434.1 20.5,434.6 21.0,435.1 21.5,435.5 22.0,435.9 22.5,436.3 23.0,436.5 23.5,436.7 24.0,436.8 24.5,436.9 25.0,436.8 25.5,436.7 26.0,436.5 26.5,436.2 27.0,435.9 27.5,435.5 28.0,435.0 28.5,434.5 29.0,434.0 29.5,433.4 30.0,432.8 30.5,432.3 31.0,431.7 31.5,431.2 32.0,430.7 32.5,430.3 33.0,429.9 33.5,429.5 34.0,429.2 34.5,429.0 35.0,428.9 35.5,428.8 36.0,428.8 36.5,428.8 37.0,428.8 37.5,428.8 38.0,428.8 38.5,428.7 39.0,428.7 39.5,428.7 40.0,428.7 40.5,428.7 41.0,428.7 41.5,428.7 42.0,428.7 42.5,428.7 43.0,428.7 43.5,428.7 44.0,428.7 44.5,428.7 45.0,428.7 45.5,428.7 46.0,428.7 46.5,428.7 47.0,428.7 47.5,428.7 48.0,428.6 48.5,428.6 49.0,428.6 49.5,428.6 50.0,428.6 50.5,428.6 51.0,428.6 51.5,428.6 52.0,428.6 52.5,428.6 53.0,428.6 53.5,428.6 54.0,428.6 54.5,428.6 55.0,428.6 55.5,428.6 56.0,428.6 56.5,428.6 57.0,428.6 57.5,428.6 58.0,428.6 58.5,428.5 59.0,428.5 59.5,428.6 60.0,428.7 60.5,428.9 61.0,429.1 61.5,429.4 62.0,429.8 62.5,430.2 63.0,430.7 63.5,431.2 64.0,431.7 64.5,432.3 65.0,432.8 65.5,433.4 66.0,433.9 66.5,434.4 67.0,434.9 67.5,435.3 68.0,435.7 68.5,436.0 69.0,436.2 69.5,436.4 70.0,436.4 70.5,436.4 71.0,436.3 71.5,436.1 72.0,435.9 72.5,435.6 73.0,435.2 73.5,434.7 74.0,434.3 74.5,433.7 75.0,433.2 75.5,432.6 76.0,432.0 76.5,431.5 77.0,430.9 77.5,430.4 78.0,430.0 78.5,429.6 79.0,429.2 79.5,428.9 80.0,428.6 80.5,428.5 81.0,428.4 81.5,428.3 82.0,428.3 82.5,428.3 83.0,428.3 83.5,428.3 84.0,428.3 84.5,428.3 85.0,428.3 85.5,428.3 86.0,428.3 86.5,428.3 87.0,428.3 87.5,428.3 88.0,428.2 88.5,428.2 89.0,428.2 89.5,428.2 90.0,428.2 90.5,428.2 91.0,428.2 91.5,428.2 92.0,428.2 92.5,428.2 93.0,428.2 93.5,428.2 94.0,428.2 94.5,428.2 95.0,428.2 95.5,428.2 96.0,428.2 96.5,428.2 97.0,428.2 97.5,428.2 98.0,428.1 98.5,428.1 99.0,428.1 99.5,428.1 100.0,428.1 100.5,428.1 101.0,428.1 101.5,428.1 102.0,428.1 102.5,428.1 103.0,428.1 103.5,428.1 104.0,428.1 104.5,428.1 105.0,428.1 105.5,428.1 106.0,428.1 106.5,428.2 107.0,428.4 107.5,428.6 108.0,428.9 108.5,429.3 109.0,429.7 109.5,430.1 110.0,430.6 110.5,431.1 111.0,431.7 111.5,432.3 112.0,432.8 112.5,433.3 113.0,433.9 113.5,434.3 114.0,434.8 114.5,435.1 115.0,435.5 115.5,435.7 116.0,435.9 116.5,436.0 117.0,436.0 117.5,435.9 118.0,435.7 118.5,435.5 119.0,435.2 119.5,434.8 120.0,434.4 120.5,433.9 121.0,433.4 121.5,432.8 122.0,432.3 122.5,431.7 123.0,431.1 123.5,430.6 124.0,430.1 124.5,429.6 125.0,429.2 125.5,428.8 126.0,428.5 126.5,428.2 127.0,428.0 127.5,427.9 128.0,427.9 128.5,427.8 129.0,427.8 129.5,427.8 130.0,427.8 130.5,427.8 131.0,427.8 131.5,427.8 132.0,427.8 132.5,427.8 133.0,427.8 133.5,427.8 134.0,427.8 134.5,427.8 135.0,427.8 135.5,427.8 136.0,427.8 136.5,427.8 137.0,427.8 137.5,427.8 138.0,427.8 138.5,427.7 139.0,427.7 139.5,427.7 140.0,427.7 140.5,427.7 141.0,427.7 141.5,427.7 142.0,427.7 142.5,427.7 143.0,427.7 143.5,427.7 144.0,427.7 144.5,427.7 145.0,427.7 145.5,427.7 146.0,427.7 146.5,427.7 147.0,427.7 147.5,427.7 148.0,427.6 148.5,427.6 149.0,427.6 149.5,427.6 150.0,427.6 150.5,427.6 151.0,427.6 151.5,427.6 152.0,427.6 152.5,427.6 153.0,427.7 153.5,427.9 154.0,428.1 154.5,428.4 155.0,428.7 155.5,429.1 156.0,429.6 156.5,430.1 157.0,430.6 157.5,431.1 158.0,431.7 158.5,432.2 159.0,432.8 159.5,433.3 160.0,433.8 160.5,434.2 161.0,434.6 161.5,434.9 162.0,435.2 162.5,435.4 163.0,435.5 163.5,435.5 164.0,435.4 164.5,435.3 165.0,435.1 165.5,434.8 166.0,434.4 166.5,434.0 167.0,433.5 167.5,433.0 168.0,432.5 168.5,431.9 169.0,431.3 169.5,430.8 170.0,430.2 170.5,429.7 171.0,429.2 171.5,428.8 172.0,428.4 172.5,428.1 173.0,427.8 173.5,427.6 174.0,427.5 174.5,427.4 175.0,427.4 175.5,427.4 176.0,427.4 176.5,427.4 177.0,427.4 177.5,427.4 178.0,427.4 178.5,427.3 179.0,427.3 179.5,427.3 180.0,427.3 180.5,427.3 181.0,427.3 181.5,427.3 182.0,427.3 182.5,427.3 183.0,427.3 183.5,427.3 184.0,427.3 184.5,427.3 185.0,427.3 185.5,427.3 186.0,427.3 186.5,427.3 187.0,427.3 187.5,427.3 188.0,427.2 188.5,427.2 189.0,427.2 189.5,427.2 189.7,428.0 197.6,437.5 197.6,437.6 197.1,437.6 196.6,437.6 196.1,437.6 195.6,437.6 195.1,437.6 194.6,437.6 194.1,437.6 193.6,437.6 193.1,437.6 192.6,437.6 192.1,437.7 191.6,437.7 191.1,437.7 190.6,437.7 190.1,437.7 189.6,437.7 189.1,437.7 188.6,437.7 188.1,437.7 187.6,437.7 187.1,437.7 186.6,437.7 186.1,437.7 185.6,437.7 185.1,437.7 184.6,437.7 184.1,437.7 183.6,437.8 183.1,437.8 182.6,437.8 182.1,437.8 181.6,437.8 181.1,437.8 180.6,437.8 180.1,437.8 179.6,437.8 179.1,437.8 178.6,437.8 178.1,437.8 177.6,437.8 177.1,437.8 176.6,437.8 176.1,437.8 175.6,437.8 175.1,437.9 174.6,437.9 174.1,437.9 173.6,438.0 173.1,438.1 172.6,438.3 172.1,438.6 171.6,438.9 171.1,439.2 170.6,439.5 170.1,439.9 169.6,440.3 169.1,440.8 168.6,441.2 168.1,441.6 167.6,442.0 167.1,442.4 166.6,442.8 166.1,443.1 165.6,443.4 165.1,443.6 164.6,443.8 164.1,443.9 163.6,444.0 163.1,444.0 162.6,443.9 162.1,443.8 161.6,443.6 161.1,443.4 160.6,443.1 160.1,442.8 159.6,442.4 159.1,442.1 158.6,441.7 158.1,441.2 157.6,440.8 157.1,440.4 156.6,440.0 156.1,439.6 155.6,439.3 155.1,439.0 154.6,438.7 154.1,438.5 153.6,438.3 153.1,438.2 152.6,438.2 152.1,438.1 151.6,438.1 151.1,438.1 150.6,438.1 150.1,438.2 149.6,438.2 149.1,438.2 148.6,438.2 148.1,438.2 147.6,438.2 147.1,438.2 146.6,438.2 146.1,438.2 145.6,438.2 145.1,438.2 144.6,438.2 144.1,438.2 143.6,438.2 143.1,438.2 142.6,438.2 142.1,438.3 141.6,438.3 141.1,438.3 140.6,438.3 140.1,438.3 139.6,438.3 139.1,438.3 138.6,438.3 138.1,438.3 137.6,438.3 137.1,438.3 136.6,438.3 136.1,438.3 135.6,438.3 135.1,438.3 134.6,438.3 134.1,438.3 133.6,438.4 133.1,438.4 132.6,438.4 132.1,438.4 131.6,438.4 131.1,438.4 130.6,438.4 130.1,438.4 129.6,438.4 129.1,438.4 128.6,438.4 128.1,438.4 127.6,438.5 127.1,438.5 126.6,438.7 126.1,438.9 125.6,439.1 125.1,439.4 124.6,439.7 124.1,440.0 123.6,440.4 123.1,440.8 122.6,441.2 122.1,441.7 121.6,442.1 121.1,442.5 120.6,442.9 120.1,443.3 119.6,443.6 119.1,443.9 118.6,444.1 118.1,444.3 117.6,444.5 117.1,444.5 116.6,444.6 116.1,444.5 115.6,444.4 115.1,444.2 114.6,444.0 114.1,443.7 113.6,443.4 113.1,443.1 112.6,442.7 112.1,442.3 111.6,441.9 111.1,441.5 110.6,441.1 110.1,440.7 109.6,440.3 109.1,439.9 108.6,439.6 108.1,439.3 107.6,439.1 107.1,438.9 106.6,438.8 106.1,438.7 105.6,438.7 105.1,438.7 104.6,438.7 104.1,438.7 103.6,438.7 103.1,438.7 102.6,438.7 102.1,438.7 101.6,438.7 101.1,438.7 100.6,438.7 100.1,438.8 99.6,438.8 99.1,438.8 98.6,438.8 98.1,438.8 97.6,438.8 97.1,438.8 96.6,438.8 96.1,438.8 95.6,438.8 95.1,438.8 94.6,438.8 94.1,438.8 93.6,438.8 93.1,438.8 92.6,438.8 92.1,438.9 91.6,438.9 91.1,438.9 90.6,438.9 90.1,438.9 89.6,438.9 89.1,438.9 88.6,438.9 88.1,438.9 87.6,438.9 87.1,438.9 86.6,438.9 86.1,438.9 85.6,438.9 85.1,438.9 84.6,438.9 84.1,438.9 83.6,439.0 83.1,439.0 82.6,439.0 82.1,439.0 81.6,439.0 81.1,439.0 80.6,439.1 80.1,439.2 79.6,439.4 79.1,439.6 78.6,439.9 78.1,440.2 77.6,440.5 77.1,440.9 76.6,441.3 76.1,441.7 75.6,442.1 75.1,442.6 74.6,443.0 74.1,443.4 73.6,443.8 73.1,444.1 72.6,444.4 72.1,444.7 71.6,444.9 71.1,445.0 70.6,445.1 70.1,445.1 69.6,445.1 69.1,445.0 68.6,444.8 68.1,444.6 67.6,444.4 67.1,444.0 66.6,443.7 66.1,443.3 65.6,442.9 65.1,442.5 64.6,442.1 64.1,441.7 63.6,441.3 63.1,440.9 62.6,440.6 62.1,440.2 61.6,440.0 61.1,439.7 60.6,439.5 60.1,439.4 59.6,439.3 59.1,439.3 58.6,439.3 58.1,439.3 57.6,439.3 57.1,439.3 56.6,439.3 56.1,439.3 55.6,439.3 55.1,439.3 54.6,439.3 54.1,439.3 53.6,439.3 53.1,439.3 52.6,439.3 52.1,439.3 51.6,439.3 51.1,439.3 50.6,439.3 50.1,439.4 49.6,439.4 49.1,439.4 48.6,439.4 48.1,439.4 47.6,439.4 47.1,439.4 46.6,439.4 46.1,439.4 45.6,439.4 45.1,439.4 44.6,439.4 44.1,439.4 43.6,439.4 43.1,439.4 42.6,439.4 42.1,439.5 41.6,439.5 41.1,439.5 40.6,439.5 40.1,439.5 39.6,439.5 39.1,439.5 38.6,439.5 38.1,439.5 37.6,439.5 37.1,439.5 36.6,439.5 36.1,439.5 35.6,439.5 35.1,439.6 34.6,439.7 34.1,439.8 33.6,440.0 33.1,440.3 32.6,440.6 32.1,440.9 31.6,441.3 31.1,441.7 30.6,442.1 30.1,442.5 29.6,442.9 29.1,443.4 28.6,443.8 28.1,444.2 27.6,444.5 27.1,444.8 26.6,445.1 26.1,445.3 25.6,445.5 25.1,445.6 24.6,445.7 24.1,445.6 23.6,445.6 23.1,445.4 22.6,445.3 22.1,445.0 21.6,444.7 21.1,444.4 20.6,444.0 20.1,443.6 19.6,443.2 19.1,442.8 18.6,442.4 18.1,442.0 18.0,445.5" fill="url(#afmg)"/>
<g clip-path="url(#afmclip)">
<g filter="url(#bl2)">
<ellipse cx="23.5" cy="438.9" rx="10" ry="7" fill="#8a5a14" opacity="0.8"/>
<ellipse cx="69.2" cy="438.4" rx="10" ry="7" fill="#8a5a14" opacity="0.8"/>
<ellipse cx="115.8" cy="437.9" rx="10" ry="7" fill="#8a5a14" opacity="0.8"/>
<ellipse cx="162.4" cy="437.3" rx="10" ry="7" fill="#8a5a14" opacity="0.8"/>
</g><g filter="url(#bl1)">
<ellipse cx="24.0" cy="440.9" rx="5.5" ry="5.5" fill="#2a1400"/>
<ellipse cx="69.7" cy="440.4" rx="5.5" ry="5.5" fill="#2a1400"/>
<ellipse cx="116.3" cy="439.9" rx="5.5" ry="5.5" fill="#2a1400"/>
<ellipse cx="162.9" cy="439.3" rx="5.5" ry="5.5" fill="#2a1400"/>
</g></g>
<path d="M220.3 267.3 H239.2" stroke="#e04848" stroke-width="1"/>
<path d="M220.3 277.8 H239.2" stroke="#3050e0" stroke-width="1.3"/>
<text x="241.60" y="270.60" font-size="8.8" font-weight="bold" textLength="36.40" lengthAdjust="spacingAndGlyphs">On Glass</text>
<text x="241.60" y="281.10" font-size="8.8" font-weight="bold" textLength="25.60" lengthAdjust="spacingAndGlyphs">On PC</text>
<circle cx="331.8" cy="368.6" r="76.5" fill="#e8e8e8"/>
<path d="M331.8 374.6 L296.48 436.46 A76.5 76.5 0 0 0 367.12 436.46 Z" fill="#fff"/>
<circle cx="331.8" cy="368.6" r="15.30" fill="none" stroke="#a0a0a0" stroke-width="0.55" stroke-dasharray="1.6 1.4"/>
<circle cx="331.8" cy="368.6" r="30.60" fill="none" stroke="#a0a0a0" stroke-width="0.55" stroke-dasharray="1.6 1.4"/>
<circle cx="331.8" cy="368.6" r="45.90" fill="none" stroke="#a0a0a0" stroke-width="0.55" stroke-dasharray="1.6 1.4"/>
<circle cx="331.8" cy="368.6" r="61.20" fill="none" stroke="#a0a0a0" stroke-width="0.55" stroke-dasharray="1.6 1.4"/>
<path d="M370.05 302.35 L293.55 434.85" stroke="#6a6a6a" stroke-width="0.7"/>
<path d="M398.05 330.35 L265.55 406.85" stroke="#6a6a6a" stroke-width="0.7"/>
<path d="M398.05 406.85 L265.55 330.35" stroke="#6a6a6a" stroke-width="0.7"/>
<path d="M370.05 434.85 L293.55 302.35" stroke="#6a6a6a" stroke-width="0.7"/>
<path d="M255.3 368.6 H408.3" stroke="#777" stroke-width="0.9"/>
<path d="M331.8 292.1 V445.1" stroke="#b0b0b0" stroke-width="1.5"/>
<circle cx="331.8" cy="368.6" r="76.5" fill="none" stroke="#8a8a8a" stroke-width="0.8"/>
<text x="332.80" y="306.60" font-size="4.6" fill="#555">0.8</text>
<text x="332.80" y="321.90" font-size="4.6" fill="#555">0.6</text>
<text x="332.80" y="336.90" font-size="4.6" fill="#555">0.4</text>
<text x="332.80" y="352.40" font-size="4.6" fill="#555">0.2</text>
<text x="332.80" y="368.00" font-size="4.6" fill="#555">0</text>
<text x="331.10" y="287.40" font-size="10.6" text-anchor="middle">0</text>
<text x="371.30" y="298.90" font-size="10.6">30</text>
<text x="400.00" y="330.20" font-size="10.6">60</text>
<text x="410.40" y="373.50" font-size="10.6">90</text>
<text x="400.00" y="416.30" font-size="10.6">60</text>
<text x="371.30" y="447.60" font-size="10.6">30</text>
<text x="331.10" y="458.00" font-size="10.6" text-anchor="middle">0</text>
<text x="293.00" y="447.60" font-size="10.6" text-anchor="end">-30</text>
<text x="264.30" y="416.30" font-size="10.6" text-anchor="end">-60</text>
<text x="252.30" y="373.50" font-size="10.6" text-anchor="end">-90</text>
<text x="264.30" y="330.20" font-size="10.6" text-anchor="end">-60</text>
<text x="293.00" y="298.90" font-size="10.6" text-anchor="end">-30</text>
<path d="M324 377.5 Q331.8 362.5 339.6 377.5" fill="none" stroke="#e87070" stroke-width="1.8"/>
<path d="M327 376 Q331.8 368 336.6 376" fill="none" stroke="#2040d8" stroke-width="1.5"/>
<path d="M331.8 368.6 L322.5 350.3 M331.8 368.6 L341.2 350.3" stroke="#2040e0" stroke-width="2"/>
<path d="M309.2 441.8 L331.8 371.5 L354.1 441.8" fill="none" stroke="#2040e0" stroke-width="1.9" stroke-linejoin="round"/>
<g><rect x="475.2" y="269.20" width="183.10" height="2.80" fill="url(#f0)"/><rect x="475.2" y="271.20" width="183.10" height="2.80" fill="url(#f1)"/><rect x="475.2" y="273.20" width="183.10" height="2.80" fill="url(#f2)"/><rect x="475.2" y="275.20" width="183.10" height="2.80" fill="url(#f3)"/><rect x="475.2" y="277.20" width="183.10" height="2.80" fill="url(#f4)"/><rect x="475.2" y="279.20" width="183.10" height="2.80" fill="url(#f5)"/><rect x="475.2" y="281.20" width="183.10" height="2.80" fill="url(#f6)"/><rect x="475.2" y="283.20" width="183.10" height="2.80" fill="url(#f7)"/><rect x="475.2" y="285.20" width="183.10" height="2.80" fill="url(#f8)"/><rect x="475.2" y="287.20" width="183.10" height="2.80" fill="url(#f9)"/><rect x="475.2" y="289.20" width="183.10" height="2.80" fill="url(#f10)"/><rect x="475.2" y="291.20" width="183.10" height="2.80" fill="url(#f11)"/><rect x="475.2" y="293.20" width="183.10" height="2.80" fill="url(#f12)"/><rect x="475.2" y="295.20" width="183.10" height="2.80" fill="url(#f13)"/><rect x="475.2" y="297.20" width="183.10" height="2.80" fill="url(#f14)"/><rect x="475.2" y="299.20" width="183.10" height="2.80" fill="url(#f15)"/><rect x="475.2" y="301.20" width="183.10" height="2.80" fill="url(#f16)"/><rect x="475.2" y="303.20" width="183.10" height="2.80" fill="url(#f17)"/><rect x="475.2" y="305.20" width="183.10" height="2.80" fill="url(#f18)"/><rect x="475.2" y="307.20" width="183.10" height="2.80" fill="url(#f19)"/><rect x="475.2" y="309.20" width="183.10" height="2.80" fill="url(#f20)"/><rect x="475.2" y="311.20" width="183.10" height="2.80" fill="url(#f21)"/><rect x="475.2" y="313.20" width="183.10" height="2.80" fill="url(#f22)"/><rect x="475.2" y="315.20" width="183.10" height="2.80" fill="url(#f23)"/><rect x="475.2" y="317.20" width="183.10" height="2.80" fill="url(#f24)"/><rect x="475.2" y="319.20" width="183.10" height="2.80" fill="url(#f25)"/><rect x="475.2" y="321.20" width="183.10" height="2.80" fill="url(#f26)"/><rect x="475.2" y="323.20" width="183.10" height="2.80" fill="url(#f27)"/><rect x="475.2" y="325.20" width="183.10" height="2.80" fill="url(#f28)"/><rect x="475.2" y="327.20" width="183.10" height="2.80" fill="url(#f29)"/><rect x="475.2" y="329.20" width="183.10" height="2.80" fill="url(#f30)"/><rect x="475.2" y="331.20" width="183.10" height="2.80" fill="url(#f31)"/><rect x="475.2" y="333.20" width="183.10" height="2.80" fill="url(#f32)"/><rect x="475.2" y="335.20" width="183.10" height="2.80" fill="url(#f33)"/><rect x="475.2" y="337.20" width="183.10" height="2.80" fill="url(#f34)"/><rect x="475.2" y="339.20" width="183.10" height="2.80" fill="url(#f35)"/><rect x="475.2" y="341.20" width="183.10" height="2.80" fill="url(#f36)"/><rect x="475.2" y="343.20" width="183.10" height="2.80" fill="url(#f37)"/><rect x="475.2" y="345.20" width="183.10" height="2.80" fill="url(#f38)"/><rect x="475.2" y="347.20" width="183.10" height="2.80" fill="url(#f39)"/><rect x="475.2" y="349.20" width="183.10" height="2.80" fill="url(#f40)"/><rect x="475.2" y="351.20" width="183.10" height="2.80" fill="url(#f41)"/><rect x="475.2" y="353.20" width="183.10" height="2.80" fill="url(#f42)"/><rect x="475.2" y="355.20" width="183.10" height="2.80" fill="url(#f43)"/><rect x="475.2" y="357.20" width="183.10" height="2.80" fill="url(#f44)"/><rect x="475.2" y="359.20" width="183.10" height="2.80" fill="url(#f45)"/><rect x="475.2" y="361.20" width="183.10" height="2.80" fill="url(#f46)"/><rect x="475.2" y="363.20" width="183.10" height="2.80" fill="url(#f47)"/><rect x="475.2" y="365.20" width="183.10" height="2.80" fill="url(#f48)"/><rect x="475.2" y="367.20" width="183.10" height="2.80" fill="url(#f49)"/><rect x="475.2" y="369.20" width="183.10" height="2.80" fill="url(#f50)"/><rect x="475.2" y="371.20" width="183.10" height="2.80" fill="url(#f51)"/><rect x="475.2" y="373.20" width="183.10" height="2.80" fill="url(#f52)"/><rect x="475.2" y="375.20" width="183.10" height="2.80" fill="url(#f53)"/><rect x="475.2" y="377.20" width="183.10" height="2.80" fill="url(#f54)"/><rect x="475.2" y="379.20" width="183.10" height="2.80" fill="url(#f55)"/><rect x="475.2" y="381.20" width="183.10" height="2.80" fill="url(#f56)"/><rect x="475.2" y="383.20" width="183.10" height="2.80" fill="url(#f57)"/><rect x="475.2" y="385.20" width="183.10" height="2.80" fill="url(#f58)"/><rect x="475.2" y="387.20" width="183.10" height="2.80" fill="url(#f59)"/><rect x="475.2" y="389.20" width="183.10" height="2.80" fill="url(#f60)"/><rect x="475.2" y="391.20" width="183.10" height="2.80" fill="url(#f61)"/><rect x="475.2" y="393.20" width="183.10" height="2.80" fill="url(#f62)"/><rect x="475.2" y="395.20" width="183.10" height="2.80" fill="url(#f63)"/><rect x="475.2" y="397.20" width="183.10" height="2.80" fill="url(#f64)"/><rect x="475.2" y="399.20" width="183.10" height="2.80" fill="url(#f65)"/><rect x="475.2" y="401.20" width="183.10" height="2.80" fill="url(#f66)"/><rect x="475.2" y="403.20" width="183.10" height="2.80" fill="url(#f67)"/><rect x="475.2" y="405.20" width="183.10" height="2.80" fill="url(#f68)"/><rect x="475.2" y="407.20" width="183.10" height="2.80" fill="url(#f69)"/><rect x="475.2" y="409.20" width="183.10" height="2.80" fill="url(#f70)"/><rect x="475.2" y="411.20" width="183.10" height="2.80" fill="url(#f71)"/><rect x="475.2" y="413.20" width="183.10" height="2.80" fill="url(#f72)"/><rect x="475.2" y="415.20" width="183.10" height="2.80" fill="url(#f73)"/><rect x="475.2" y="417.20" width="183.10" height="2.80" fill="url(#f74)"/><rect x="475.2" y="419.20" width="183.10" height="2.80" fill="url(#f75)"/><rect x="475.2" y="421.20" width="183.10" height="2.80" fill="url(#f76)"/><rect x="475.2" y="423.20" width="183.10" height="2.80" fill="url(#f77)"/><rect x="475.2" y="425.20" width="183.10" height="2.80" fill="url(#f78)"/><rect x="475.2" y="427.20" width="183.10" height="2.80" fill="url(#f79)"/><rect x="475.2" y="429.20" width="183.10" height="2.80" fill="url(#f80)"/><rect x="475.2" y="431.20" width="183.10" height="2.80" fill="url(#f81)"/><rect x="475.2" y="433.20" width="183.10" height="2.80" fill="url(#f82)"/><rect x="475.2" y="435.20" width="183.10" height="2.80" fill="url(#f83)"/><rect x="475.2" y="437.20" width="183.10" height="2.80" fill="url(#f84)"/><rect x="475.2" y="439.20" width="183.10" height="2.80" fill="url(#f85)"/><rect x="475.2" y="441.20" width="183.10" height="2.80" fill="url(#f86)"/><rect x="475.2" y="443.20" width="183.10" height="2.80" fill="url(#f87)"/><rect x="475.2" y="445.20" width="183.10" height="2.80" fill="url(#f88)"/><rect x="475.2" y="447.20" width="183.10" height="2.80" fill="url(#f89)"/><rect x="475.2" y="449.20" width="183.10" height="2.00" fill="url(#f90)"/></g>
<g clip-path="url(#fclip)" fill="none">
<polyline points="475.2,364.64 477.2,363.62 479.2,362.60 481.2,361.58 483.2,360.56 485.2,359.55 487.2,358.55 489.2,357.55 491.2,356.55 493.2,355.55 495.2,354.56 497.2,353.58 499.2,352.59 501.2,351.61 503.2,350.64 505.2,349.67 507.2,348.70 509.2,347.74 511.2,346.78 513.2,345.82 515.2,344.87 517.2,343.92 519.2,342.98 521.2,342.03 523.2,341.10 525.2,340.17 527.2,339.24 529.2,338.31 531.2,337.39 533.2,336.47 535.2,335.56 537.2,334.65 539.2,333.74 541.2,332.84 543.2,331.94 545.2,331.05 547.2,330.16 549.2,329.27 551.2,328.39 553.2,327.51 555.2,326.63 557.2,325.76 559.2,324.90 561.2,324.03 563.2,323.17 565.2,322.32 567.2,321.46 569.2,320.62 571.2,319.77 573.2,318.93 575.2,318.10 577.2,317.26 579.2,316.43 581.2,315.61 583.2,314.79 585.2,313.97 587.2,313.16 589.2,312.35 591.2,311.54 593.2,310.74 595.2,309.94 597.2,309.15 599.2,308.36 601.2,307.57 603.2,306.79 605.2,306.01 607.2,305.23 609.2,304.46 611.2,303.70 613.2,302.93 615.2,302.17 617.2,301.42 619.2,300.67 621.2,299.92 623.2,299.17 625.2,298.43 627.2,297.70 629.2,296.96 631.2,296.24 633.2,295.51 635.2,294.79 637.2,294.07 639.2,293.36 641.2,292.65 643.2,291.94 645.2,291.24 647.2,290.54 649.2,289.85 651.2,289.16 653.2,288.47 655.2,287.79 657.2,287.11" stroke="#30f0ff" stroke-width="2.2"/>
<polyline points="475.2,363.64 477.2,362.62 479.2,361.60 481.2,360.58 483.2,359.56 485.2,358.55 487.2,357.55 489.2,356.55 491.2,355.55 493.2,354.55 495.2,353.56 497.2,352.58 499.2,351.59 501.2,350.61 503.2,349.64 505.2,348.67 507.2,347.70 509.2,346.74 511.2,345.78 513.2,344.82 515.2,343.87 517.2,342.92 519.2,341.98 521.2,341.03 523.2,340.10 525.2,339.17 527.2,338.24 529.2,337.31 531.2,336.39 533.2,335.47 535.2,334.56 537.2,333.65 539.2,332.74 541.2,331.84 543.2,330.94 545.2,330.05 547.2,329.16 549.2,328.27 551.2,327.39 553.2,326.51 555.2,325.63 557.2,324.76 559.2,323.90 561.2,323.03 563.2,322.17 565.2,321.32 567.2,320.46 569.2,319.62 571.2,318.77 573.2,317.93 575.2,317.10 577.2,316.26 579.2,315.43 581.2,314.61 583.2,313.79 585.2,312.97 587.2,312.16 589.2,311.35 591.2,310.54 593.2,309.74 595.2,308.94 597.2,308.15 599.2,307.36 601.2,306.57 603.2,305.79 605.2,305.01 607.2,304.23 609.2,303.46 611.2,302.70 613.2,301.93 615.2,301.17 617.2,300.42 619.2,299.67 621.2,298.92 623.2,298.17 625.2,297.43 627.2,296.70 629.2,295.96 631.2,295.24 633.2,294.51 635.2,293.79 637.2,293.07 639.2,292.36 641.2,291.65 643.2,290.94 645.2,290.24 647.2,289.54 649.2,288.85 651.2,288.16 653.2,287.47 655.2,286.79 657.2,286.11" stroke="#ffd000" stroke-width="1.4"/>
<polyline points="475.2,362.94 477.2,361.92 479.2,360.90 481.2,359.88 483.2,358.86 485.2,357.85 487.2,356.85 489.2,355.85 491.2,354.85 493.2,353.85 495.2,352.86 497.2,351.88 499.2,350.89 501.2,349.91 503.2,348.94 505.2,347.97 507.2,347.00 509.2,346.04 511.2,345.08 513.2,344.12 515.2,343.17 517.2,342.22 519.2,341.28 521.2,340.33 523.2,339.40 525.2,338.47 527.2,337.54 529.2,336.61 531.2,335.69 533.2,334.77 535.2,333.86 537.2,332.95 539.2,332.04 541.2,331.14 543.2,330.24 545.2,329.35 547.2,328.46 549.2,327.57 551.2,326.69 553.2,325.81 555.2,324.93 557.2,324.06 559.2,323.20 561.2,322.33 563.2,321.47 565.2,320.62 567.2,319.76 569.2,318.92 571.2,318.07 573.2,317.23 575.2,316.40 577.2,315.56 579.2,314.73 581.2,313.91 583.2,313.09 585.2,312.27 587.2,311.46 589.2,310.65 591.2,309.84 593.2,309.04 595.2,308.24 597.2,307.45 599.2,306.66 601.2,305.87 603.2,305.09 605.2,304.31 607.2,303.53 609.2,302.76 611.2,302.00 613.2,301.23 615.2,300.47 617.2,299.72 619.2,298.97 621.2,298.22 623.2,297.47 625.2,296.73 627.2,296.00 629.2,295.26 631.2,294.54 633.2,293.81 635.2,293.09 637.2,292.37 639.2,291.66 641.2,290.95 643.2,290.24 645.2,289.54 647.2,288.84 649.2,288.15 651.2,287.46 653.2,286.77 655.2,286.09 657.2,285.41" stroke="#e01800" stroke-width="1.1"/>
<polyline points="475.2,364.59 477.2,365.52 479.2,366.46 481.2,367.38 483.2,368.31 485.2,369.23 487.2,370.15 489.2,371.07 491.2,371.99 493.2,372.90 495.2,373.81 497.2,374.72 499.2,375.62 501.2,376.53 503.2,377.43 505.2,378.32 507.2,379.22 509.2,380.11 511.2,381.00 513.2,381.89 515.2,382.77 517.2,383.65 519.2,384.53 521.2,385.40 523.2,386.28 525.2,387.15 527.2,388.02 529.2,388.88 531.2,389.74 533.2,390.60 535.2,391.46 537.2,392.32 539.2,393.17 541.2,394.02 543.2,394.87 545.2,395.71 547.2,396.55 549.2,397.39 551.2,398.23 553.2,399.06 555.2,399.89 557.2,400.72 559.2,401.54 561.2,402.37 563.2,403.19 565.2,404.01 567.2,404.82 569.2,405.63 571.2,406.44 573.2,407.25 575.2,408.06 577.2,408.86 579.2,409.66 581.2,410.45 583.2,411.25 585.2,412.04 587.2,412.83 589.2,413.61 591.2,414.40 593.2,415.18 595.2,415.96 597.2,416.73 599.2,417.50 601.2,418.27 603.2,419.04 605.2,419.81 607.2,420.57 609.2,421.33 611.2,422.08 613.2,422.84 615.2,423.59 617.2,424.34 619.2,425.09 621.2,425.83 623.2,426.57 625.2,427.31 627.2,428.05 629.2,428.78 631.2,429.51 633.2,430.24 635.2,430.96 637.2,431.68 639.2,432.40 641.2,433.12 643.2,433.84 645.2,434.55 647.2,435.26 649.2,435.96 651.2,436.67 653.2,437.37 655.2,438.07 657.2,438.76" stroke="#30f0ff" stroke-width="2.2"/>
<polyline points="475.2,365.59 477.2,366.52 479.2,367.46 481.2,368.38 483.2,369.31 485.2,370.23 487.2,371.15 489.2,372.07 491.2,372.99 493.2,373.90 495.2,374.81 497.2,375.72 499.2,376.62 501.2,377.53 503.2,378.43 505.2,379.32 507.2,380.22 509.2,381.11 511.2,382.00 513.2,382.89 515.2,383.77 517.2,384.65 519.2,385.53 521.2,386.40 523.2,387.28 525.2,388.15 527.2,389.02 529.2,389.88 531.2,390.74 533.2,391.60 535.2,392.46 537.2,393.32 539.2,394.17 541.2,395.02 543.2,395.87 545.2,396.71 547.2,397.55 549.2,398.39 551.2,399.23 553.2,400.06 555.2,400.89 557.2,401.72 559.2,402.54 561.2,403.37 563.2,404.19 565.2,405.01 567.2,405.82 569.2,406.63 571.2,407.44 573.2,408.25 575.2,409.06 577.2,409.86 579.2,410.66 581.2,411.45 583.2,412.25 585.2,413.04 587.2,413.83 589.2,414.61 591.2,415.40 593.2,416.18 595.2,416.96 597.2,417.73 599.2,418.50 601.2,419.27 603.2,420.04 605.2,420.81 607.2,421.57 609.2,422.33 611.2,423.08 613.2,423.84 615.2,424.59 617.2,425.34 619.2,426.09 621.2,426.83 623.2,427.57 625.2,428.31 627.2,429.05 629.2,429.78 631.2,430.51 633.2,431.24 635.2,431.96 637.2,432.68 639.2,433.40 641.2,434.12 643.2,434.84 645.2,435.55 647.2,436.26 649.2,436.96 651.2,437.67 653.2,438.37 655.2,439.07 657.2,439.76" stroke="#ffd000" stroke-width="1.4"/>
<polyline points="475.2,366.29 477.2,367.22 479.2,368.16 481.2,369.08 483.2,370.01 485.2,370.93 487.2,371.85 489.2,372.77 491.2,373.69 493.2,374.60 495.2,375.51 497.2,376.42 499.2,377.32 501.2,378.23 503.2,379.13 505.2,380.02 507.2,380.92 509.2,381.81 511.2,382.70 513.2,383.59 515.2,384.47 517.2,385.35 519.2,386.23 521.2,387.10 523.2,387.98 525.2,388.85 527.2,389.72 529.2,390.58 531.2,391.44 533.2,392.30 535.2,393.16 537.2,394.02 539.2,394.87 541.2,395.72 543.2,396.57 545.2,397.41 547.2,398.25 549.2,399.09 551.2,399.93 553.2,400.76 555.2,401.59 557.2,402.42 559.2,403.24 561.2,404.07 563.2,404.89 565.2,405.71 567.2,406.52 569.2,407.33 571.2,408.14 573.2,408.95 575.2,409.76 577.2,410.56 579.2,411.36 581.2,412.15 583.2,412.95 585.2,413.74 587.2,414.53 589.2,415.31 591.2,416.10 593.2,416.88 595.2,417.66 597.2,418.43 599.2,419.20 601.2,419.97 603.2,420.74 605.2,421.51 607.2,422.27 609.2,423.03 611.2,423.78 613.2,424.54 615.2,425.29 617.2,426.04 619.2,426.79 621.2,427.53 623.2,428.27 625.2,429.01 627.2,429.75 629.2,430.48 631.2,431.21 633.2,431.94 635.2,432.66 637.2,433.38 639.2,434.10 641.2,434.82 643.2,435.54 645.2,436.25 647.2,436.96 649.2,437.66 651.2,438.37 653.2,439.07 655.2,439.77 657.2,440.46" stroke="#e01800" stroke-width="1.1"/>
</g>
<rect x="475.2" y="269.2" width="183.1" height="181.8" fill="none" stroke="#111" stroke-width="0.9"/>
<path d="M475.2 312.5 H658.3 M475.2 382.2 H658.3 M586.2 269.2 V312 M511.3 382.2 V450.4" stroke="#fff" stroke-width="1" stroke-dasharray="4 3"/>
<text x="523.80" y="289.20" font-size="9.6" fill="#fff" textLength="41.60" lengthAdjust="spacingAndGlyphs">Extraction</text>
<text x="523.80" y="301.70" font-size="9.6" fill="#fff" textLength="22.90" lengthAdjust="spacingAndGlyphs">Angle</text>
<text x="600.30" y="287.80" font-size="9.6" fill="#fff" textLength="35.40" lengthAdjust="spacingAndGlyphs">NA = 0.5</text>
<text x="478.90" y="330.50" font-size="9.6" fill="#fff" textLength="56.10" lengthAdjust="spacingAndGlyphs">λ <tspan font-size="6.5" dy="2.5">QD</tspan><tspan dy="-2.5"> = 605nm</tspan></text>
<text x="590.80" y="374.20" font-size="9.6" fill="#fff" textLength="60.90" lengthAdjust="spacingAndGlyphs">λ <tspan font-size="6.5" dy="2.5">laser</tspan><tspan dy="-2.5"> = 450nm</tspan></text>
<text x="518.40" y="422.30" font-size="9.6" fill="#fff" textLength="45.50" lengthAdjust="spacingAndGlyphs">Resonance</text>
<text x="518.40" y="434.90" font-size="9.6" fill="#fff" textLength="48.40" lengthAdjust="spacingAndGlyphs">Angle (Exc.)</text>
<path d="M568.5 283.3 L579 273.6 M595.6 288.5 V279" stroke="#fff" stroke-width="1.1"/>
<path d="M582 271 L576.2 273.2 L579.6 276.6 Z M595.6 274.8 L593.2 280.5 H598 Z" fill="#fff"/>
<text x="566.40" y="333.50" font-size="9.6" fill="#fff" text-anchor="middle" textLength="55.00" lengthAdjust="spacingAndGlyphs" transform="rotate(-21 566.4 333.5)">PCGR TE<tspan font-size="6.5" dy="2.5">0</tspan><tspan dy="-2.5"> (-1)</tspan></text>
<text x="571.50" y="402.00" font-size="9.6" font-style="italic" fill="#fff" text-anchor="middle" textLength="56.00" lengthAdjust="spacingAndGlyphs" transform="rotate(23 571.5 402)">PCGR TE<tspan font-size="6.5" dy="2.5">0</tspan><tspan dy="-2.5"> (+1)</tspan></text>
<text x="473.00" y="265.90" font-size="10" text-anchor="middle">0</text>
<text x="472.75" y="462.80" font-size="10" text-anchor="middle">0</text>
<text x="513.90" y="265.90" font-size="10" text-anchor="middle">10</text>
<text x="515.30" y="462.80" font-size="10" text-anchor="middle">10</text>
<text x="552.90" y="265.90" font-size="10" text-anchor="middle">20</text>
<text x="556.00" y="462.80" font-size="10" text-anchor="middle">20</text>
<text x="594.40" y="265.90" font-size="10" text-anchor="middle">30</text>
<text x="596.00" y="462.80" font-size="10" text-anchor="middle">30</text>
<text x="635.40" y="265.90" font-size="10" text-anchor="middle">40</text>
<text x="636.30" y="462.80" font-size="10" text-anchor="middle">40</text>
<text x="467.20" y="272.70" font-size="10" text-anchor="end" textLength="15.20" lengthAdjust="spacingAndGlyphs">700</text>
<text x="467.20" y="317.40" font-size="10" text-anchor="end" textLength="15.20" lengthAdjust="spacingAndGlyphs">600</text>
<text x="467.20" y="362.00" font-size="10" text-anchor="end" textLength="15.20" lengthAdjust="spacingAndGlyphs">500</text>
<text x="467.20" y="406.70" font-size="10" text-anchor="end" textLength="15.20" lengthAdjust="spacingAndGlyphs">400</text>
<text x="446.80" y="355.00" font-size="12.8" text-anchor="middle" textLength="90.00" lengthAdjust="spacingAndGlyphs" transform="rotate(-90 446.8 355)">Wavelength (nm)</text>
<text x="567.00" y="478.20" font-size="11.5" text-anchor="middle" textLength="22.00" lengthAdjust="spacingAndGlyphs">θ (°)</text>
<rect x="663" y="316.4" width="7.6" height="56.5" fill="url(#jet)"/>
<text x="676.00" y="321.60" font-size="11" font-style="italic">1</text>
<text x="676.00" y="375.80" font-size="11" font-style="italic">0</text>
<text x="673.50" y="292.50" font-size="10.5" font-style="italic" text-anchor="middle">R</text>
<text x="672.50" y="304.00" font-size="9.5" text-anchor="middle">(Sim.)</text>
</svg></body></html>
